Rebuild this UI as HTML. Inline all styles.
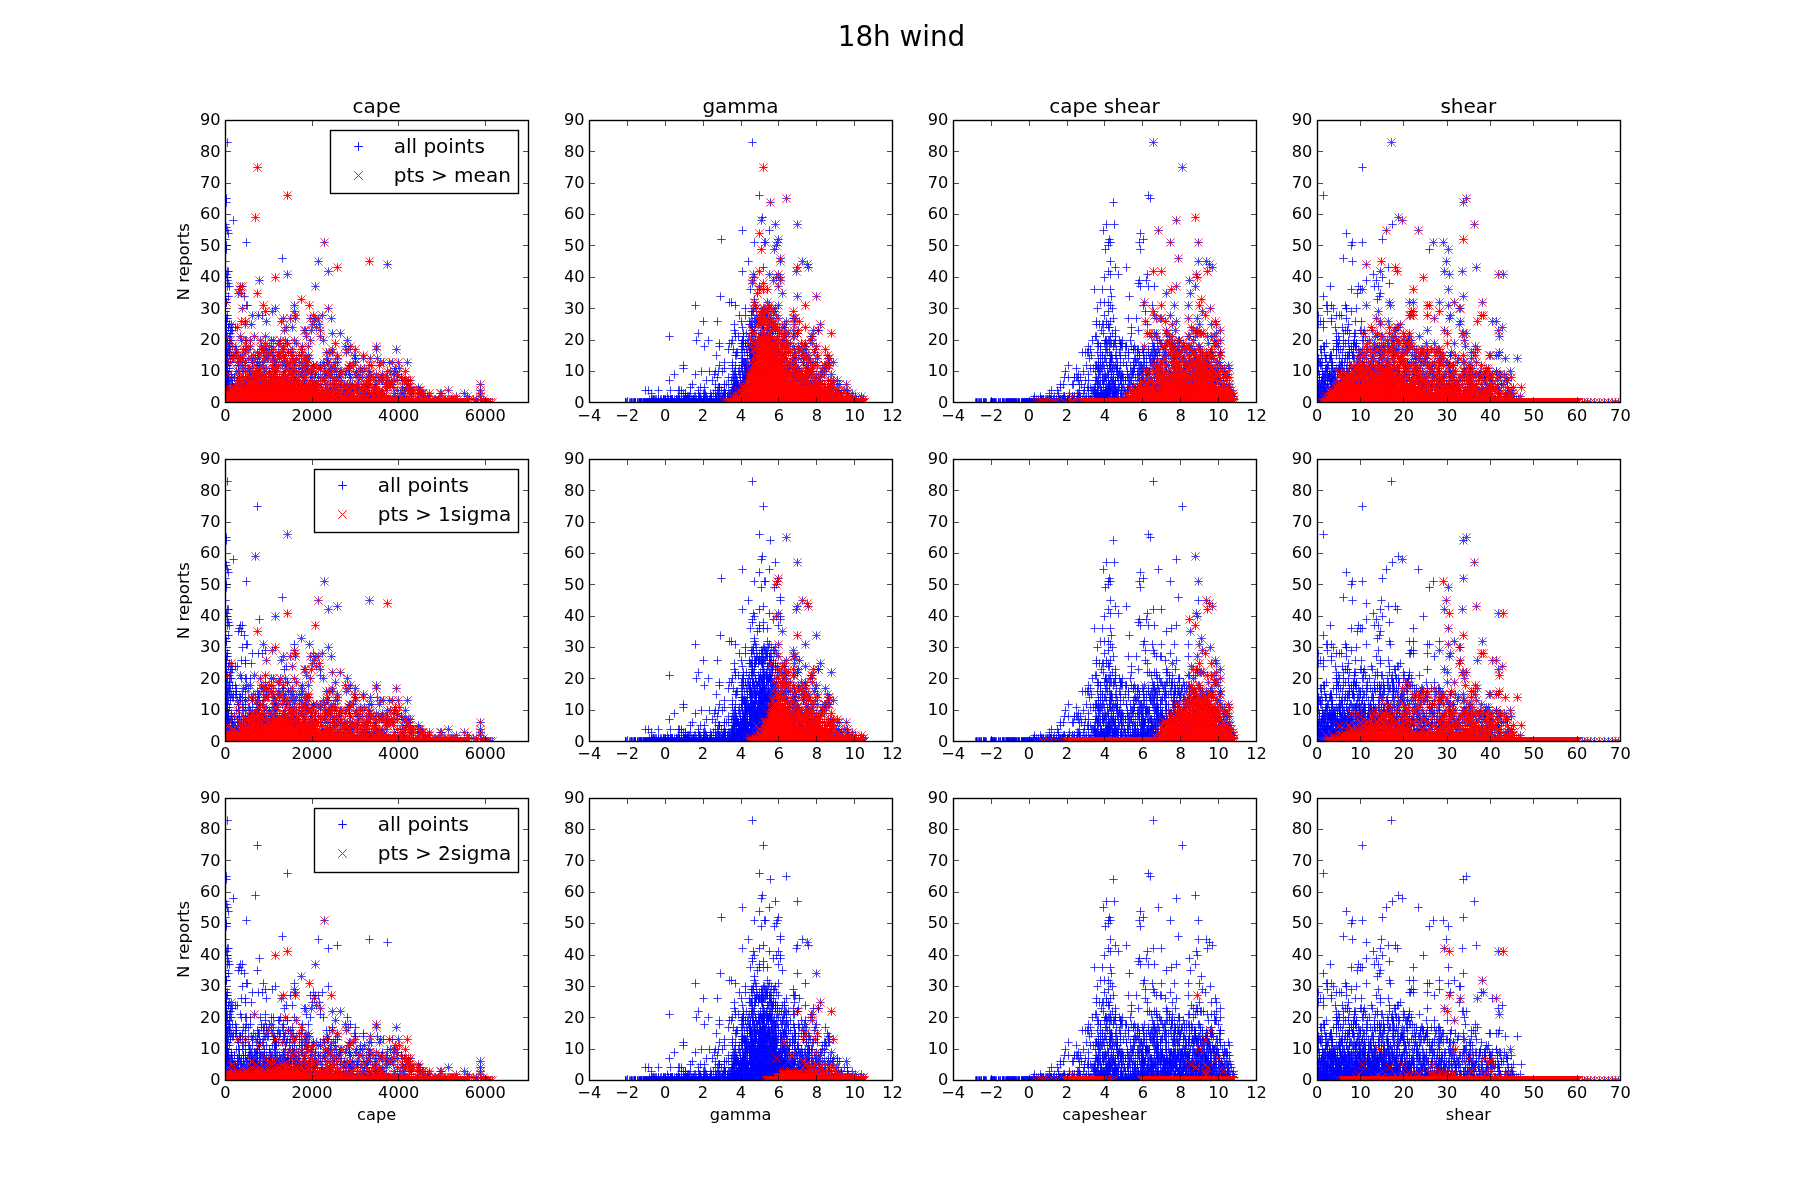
<!DOCTYPE html>
<html lang="en"><head><meta charset="utf-8"><title>18h wind</title>
<style>
html,body{margin:0;padding:0;background:#fff}
svg{display:block;will-change:transform;opacity:.999}
text{font-family:"DejaVu Sans","Bitstream Vera Sans","Liberation Sans",sans-serif;fill:#000}
.t{font-size:16.2px}
.yl{font-size:16.67px}
.tt{font-size:20px}
.st{font-size:27.8px}
.ax{fill:none;stroke:#000;stroke-width:1.39}
.tk{fill:none;stroke:#000;stroke-width:.7}
.b{fill:none;stroke:none;marker-start:url(#mp);marker-mid:url(#mp);marker-end:url(#mp)}
.r{fill:none;stroke:none;marker-start:url(#mx);marker-mid:url(#mx);marker-end:url(#mx)}
</style></head>
<body>
<svg width="1800" height="1200" viewBox="0 0 1800 1200">
<rect width="1800" height="1200" fill="#fff"/>
<text class="st" x="901.5" y="46.3" text-anchor="middle">18h wind</text>
<defs>
<marker id="mp" markerUnits="userSpaceOnUse" markerWidth="10" markerHeight="10" refX="5" refY="5" viewBox="0 0 10 10" overflow="visible"><path d="M.8 5h8.4M5 .8v8.4" fill="none" stroke="#00f" stroke-width=".75"/></marker>
<marker id="mx" markerUnits="userSpaceOnUse" markerWidth="10" markerHeight="10" refX="5" refY="5" viewBox="0 0 10 10" overflow="visible"><path d="M.8 .8l8.4 8.4M.8 9.2l8.4-8.4" fill="none" stroke="#f00" stroke-width=".75"/></marker>
<clipPath id="c00"><rect x="225" y="120" width="304" height="283"/></clipPath>
<clipPath id="c01"><rect x="589" y="120" width="304" height="283"/></clipPath>
<clipPath id="c02"><rect x="953" y="120" width="304" height="283"/></clipPath>
<clipPath id="c03"><rect x="1317" y="120" width="304" height="283"/></clipPath>
<clipPath id="c10"><rect x="225" y="459" width="304" height="283"/></clipPath>
<clipPath id="c11"><rect x="589" y="459" width="304" height="283"/></clipPath>
<clipPath id="c12"><rect x="953" y="459" width="304" height="283"/></clipPath>
<clipPath id="c13"><rect x="1317" y="459" width="304" height="283"/></clipPath>
<clipPath id="c20"><rect x="225" y="798" width="304" height="283"/></clipPath>
<clipPath id="c21"><rect x="589" y="798" width="304" height="283"/></clipPath>
<clipPath id="c22"><rect x="953" y="798" width="304" height="283"/></clipPath>
<clipPath id="c23"><rect x="1317" y="798" width="304" height="283"/></clipPath>
</defs>
<g id="ax00">
<path class="b" clip-path="url(#c00)" d="M227.5 142.5l30 25 30 28-61 3 0 4 29 15-22 3-8 4 1 3 1 3 1 3-3 6 21 3 78 0-98 3 0 4 56 9-57 3 93 0 51 0 18 3-50 3-110 4 1 0 100 0-102 3 61 0-60 3 48 0-48 3 32 0-31 3-1 3 2 0 11 0 2 0 73 0-76 3-14 4 13 0 3 0 16 0-32 3 0 0 3 0 16 0-19 3 0 0 0 0 76 0-76 3 0 0 1 0 0 0 20 3 1 0 16 0 31 0 15 0-67 3 33 0 53 0-103 3 0 0 40 0 7 0 22 0-69 4 0 0 2 0 25 0 6 0 4 0 33 0 18 0 9 0-97 3 0 0 1 0 1 0 56 0 7 0 5 0 15 0 5 0 3 0 13 0-106 3 1 0 15 0 4 0 21 0 15 0 33 0-88 3 0 0 3 0 2 0 14 0 6 0 61 0 7 0-94 3 3 0 0 0 7 0 2 0 49 0 6 0 24 0-91 3 0 0 5 0 1 0 1 0 52 0 20 0 1 0 6 0 9 0-95 3 0 0 1 0 0 0 0 0 4 0 102 0 8 0-115 3 2 0 2 0 11 0 14 0 11 0 41 0 14 0-95 4 0 0 0 0 1 0 1 0 3 0 1 0 10 0 4 0 1 0 4 0 10 0 11 0 2 0 7 0 5 0 9 0 16 0 13 0 24 0-122 3 1 0 0 0 1 0 2 0 36 0 13 0 1 0 8 0 0 0 9 0 39 0-110 3 1 0 2 0 1 0 3 0 3 0 11 0 4 0 11 0 8 0 2 0 12 0 19 0 6 0 37 0 5 0 26 0-151 3 0 0 0 0 1 0 0 0 4 0 6 0 7 0 2 0 3 0 13 0 2 0 1 0 2 0 0 0 7 0 9 0 1 0 9 0 9 0 31 0 16 0 7 0 21 0 20 0-171 3 0 0 1 0 0 0 1 0 0 0 1 0 1 0 0 0 7 0 0 0 9 0 12 0 6 0 5 0 3 0 7 0 10 0 0 0 2 0 12 0 24 0 3 0 3 0 14 0-121 3 0 0 1 0 0 0 3 0 2 0 2 0 2 0 1 0 6 0 11 0 5 0 0 0 1 0 7 0 6 0 5 0 2 0 1 0 3 0 2 0 6 0 2 0 6 0 2 0 7 0 29 0 17 0 9 0-138 3 1 0 0 0 1 0 0 0 3 0 2 0 1 0 6 0 1 0 0 0 2 0 6 0 3 0 4 0 9 0 1 0 2 0 1 0 5 0 1 0 5 0 5 0 0 0 8 0 4 0 8 0 1 0 1 0 1 0 2 0 18 0 10 0 18 0 0 0 8 0 7 0 7 0-152 4 0 0 1 0 0 0 2 0 2 0 7 0 3 0 5 0 0 0 7 0 0 0 5 0 0 0 2 0 4 0 10 0 1 0 1 0 0 0 8 0 1 0 3 0 3 0 3 0 1 0 1 0 4 0 2 0 5 0 17 0 4 0 0 0 0 0 1 0 7 0 2 0 18 0 25 0 3 0 6 0 3 0 6 0 9 0-182 3 1 0 1 0 0 0 0 0 11 0 0 0 4 0 3 0 11 0 4 0 2 0 14 0 0 0 2 0 4 0 4 0 0 0 3 0 13 0 3 0 3 0 5 0 0 0 3 0 4 0 4 0 0 0 9 0 16 0 1 0 3 0 16 0 2 0 8 0-154 3 0 0 1 0 0 0 1 0 2 0 14 0 5 0 1 0 3 0 6 0 1 0 0 0 4 0 3 0 6 0 2 0 0 0 1 0 0 0 1 0 0 0 9 0 7 0 2 0 5 0 2 0 3 0 1 0 2 0 5 0 1 0 5 0 2 0 0 0 10 0 1 0 4 0 13 0 1 0 0 0 11 0 4 0 31 0 4 0-174 3 0 0 1 0 0 0 1 0 0 0 9 0 2 0 1 0 3 0 3 0 5 0 7 0 0 0 2 0 5 0 5 0 6 0 10 0 4 0 1 0 2 0 2 0 2 0 6 0 4 0 1 0 1 0 2 0 1 0 14 0 3 0 6 0 2 0 4 0 1 0 5 0 10 0 4 0 2 0 6 0 19 0 3 0 4 0 0 0 11 0-180 3 1 0 0 0 1 0 1 0 0 0 0 0 3 0 18 0 2 0 3 0 0 0 1 0 1 0 1 0 2 0 0 0 5 0 5 0 1 0 4 0 1 0 8 0 0 0 1 0 4 0 4 0 1 0 0 0 0 0 1 0 4 0 3 0 0 0 1 0 9 0 4 0 0 0 10 0 0 0 0 0 2 0 0 0 1 0 2 0 1 0 8 0 0 0 1 0 5 0 4 0 0 0 6 0 1 0 13 0 0 0 1 0 6 0 6 0 11 0 3 0 1 0-172 3 0 0 1 0 0 0 1 0 0 0 1 0 0 0 3 0 3 0 0 0 5 0 0 0 0 0 4 0 0 0 2 0 0 0 0 0 3 0 1 0 1 0 2 0 3 0 1 0 0 0 1 0 0 0 3 0 0 0 0 0 1 0 1 0 1 0 1 0 0 0 2 0 5 0 1 0 3 0 2 0 2 0 5 0 3 0 4 0 1 0 6 0 6 0 1 0 7 0 2 0 4 0 0 0 2 0 4 0 6 0 6 0 0 0 14 0 0 0 8 0 1 0 3 0 4 0 3 0 1 0 3 0 5 0 3 0 1 0 4 0 1 0 14 0 0 0-176 3 1 0 0 0 0 0 1 0 1 0 0 0 1 0 1 0 1 0 1 0 5 0 0 0 1 0 3 0 2 0 4 0 2 0 2 0 1 0 1 0 2 0 0 0 2 0 2 0 1 0 3 0 1 0 2 0 2 0 2 0 0 0 0 0 1 0 4 0 1 0 1 0 2 0 1 0 0 0 1 0 1 0 1 0 1 0 1 0 2 0 3 0 0 0 0 0 4 0 1 0 0 0 1 0 0 0 3 0 4 0 1 0 6 0 0 0 12 0 2 0 9 0 1 0 4 0 3 0 27 0 7 0 4 0 2 0 1 0 9 0 3 0 3 0 5 0 2 0 1 0 1 0 2 0 2 0-185 4 0 0 2 0 0 0 2 0 3 0 5 0 2 0 1 0 1 0 2 0 0 0 3 0 0 0 3 0 2 0 1 0 0 0 2 0 1 0 1 0 0 0 0 0 3 0 1 0 3 0 2 0 1 0 0 0 4 0 1 0 5 0 0 0 0 0 11 0 1 0 2 0 1 0 2 0 0 0 1 0 0 0 4 0 0 0 6 0 0 0 5 0 3 0 2 0 1 0 0 0 1 0 0 0 2 0 2 0 5 0 2 0 3 0 2 0 4 0 4 0 4 0 3 0 2 0 3 0 5 0 1 0 5 0 3 0 1 0 1 0 2 0 6 0 9 0 1 0 0 0 2 0 1 0 1 0 2 0 16 0 0 0 72 0-255 3 0 0 0 0 1 0 0 0 0 0 1 0 0 0 1 0 1 0 2 0 1 0 1 0 0 0 0 0 1 0 1 0 0 0 3 0 2 0 0 0 1 0 2 0 1 0 4 0 1 0 9 0 1 0 4 0 27 0 0 0 4 0 4 0 1 0 0 0 2 0 1 0 0 0 1 0 1 0 0 0 3 0 3 0 0 0 2 0 1 0 1 0 7 0 13 0 0 0 3 0 3 0 3 0 1 0 0 0 1 0 1 0 5 0 1 0 1 0 1 0 2 0 1 0 4 0 3 0 1 0 2 0 7 0 1 0 0 0 12 0 6 0 9 0 4 0 2 0 0 0 1 0 9 0-193 3 0 0 1 0 1 0 1 0 0 0 0 0 1 0 1 0 0 0 1 0 1 0 1 0 3 0 0 0 0 0 1 0 1 0 0 0 5 0 52 0 0 0 1 0 0 0 3 0 8 0 0 0 3 0 0 0 2 0 3 0 0 0 2 0 5 0 4 0 1 0 2 0 0 0 1 0 0 0 3 0 10 0 2 0 3 0 0 0 1 0 1 0 0 0 7 0 3 0 6 0 1 0 6 0 1 0 1 0 1 0 3 0 3 0 4 0 11 0 5 0 3 0 0 0 4 0 1 0 1 0 1 0 1 0 5 0 1 0 1 0 28 0 32 0-254 3 2 0 2 0 3 0 5 0 61 0 16 0 0 0 6 0 1 0 0 0 1 0 1 0 3 0 3 0 0 0 0 0 1 0 4 0 2 0 1 0 1 0 1 0 6 0 5 0 0 0 1 0 1 0 4 0 5 0 1 0 1 0 0 0 5 0 0 0 2 0 4 0 2 0 1 0 3 0 0 0 1 0 12 0 6 0 2 0 2 0 5 0 2 0 6 0 2 0 1 0 2 0 0 0 1 0 6 0 11 0 1 0 23 0 16 0-157 3 4 0 0 0 1 0 2 0 5 0 1 0 2 0 1 0 3 0 1 0 0 0 1 0 0 0 3 0 0 0 1 0 1 0 2 0 1 0 7 0 2 0 1 0 4 0 3 0 0 0 3 0 2 0 1 0 3 0 5 0 1 0 2 0 9 0 8 0 8 0 14 0 2 0 2 0 27 0 11 0 13 0-151 3 4 0 4 0 0 0 1 0 8 0 1 0 7 0 0 0 1 0 1 0 5 0 0 0 3 0 2 0 3 0 1 0 0 0 0 0 6 0 0 0 3 0 3 0 0 0 1 0 4 0 1 0 0 0 0 0 1 0 1 0 2 0 1 0 1 0 3 0 1 0 1 0 0 0 4 0 1 0 1 0 1 0 0 0 5 0 2 0 4 0 1 0 5 0 1 0 3 0 1 0 6 0 1 0 3 0 1 0 5 0 1 0 5 0 1 0 1 0 1 0 2 0 0 0 14 0 4 0 3 0 7 0-19 3 1 0 0 0 1 0 1 0 0 0 0 0 9 0 1 0 4 0 0 0 1 0 0 0 2 0 1 0 1 0 1 0 0 0 1 0 2 0 0 0 2 0"/>
<path class="r" clip-path="url(#c00)" d="M257.5 167.5l30 28-32 22 69 25-6 19 51 0 18 3-50 3-9 4-41 3-12 3-16 3-19 6 2 0 73 0-76 3-1 4 3 0 16 0 44 6-75 3 37 3 31 0 15 0-67 3 33 0 53 0-63 3 7 0 22 0-42 4 6 0 37 0 18 0 9 0-39 3 7 0 5 0 15 0 5 0 3 0 13 0-90 3 4 0 21 0 15 0 33 0-83 3 14 0 6 0 61 0 7 0-82 3 49 0 6 0 24 0-32 3 20 0 1 0 6 0 9 0 12 3 8 0-113 3 13 0 14 0 11 0 41 0 14 0-90 4 11 0 5 0 4 0 10 0 11 0 2 0 7 0 5 0 9 0 16 0 13 0 24 0-82 3 13 0 1 0 8 0 0 0 9 0 39 0-103 3 14 0 4 0 11 0 8 0 2 0 12 0 19 0 6 0 37 0 5 0 26 0-140 3 7 0 2 0 3 0 13 0 2 0 1 0 2 0 0 0 7 0 9 0 1 0 9 0 9 0 31 0 16 0 7 0 21 0 20 0-160 3 9 0 12 0 6 0 5 0 3 0 7 0 10 0 0 0 2 0 12 0 24 0 3 0 3 0 14 0-113 3 2 0 1 0 6 0 11 0 5 0 0 0 1 0 7 0 6 0 5 0 2 0 1 0 3 0 2 0 6 0 2 0 6 0 2 0 7 0 29 0 17 0 9 0-131 3 7 0 1 0 0 0 2 0 6 0 3 0 4 0 9 0 1 0 2 0 1 0 5 0 1 0 5 0 5 0 0 0 8 0 4 0 8 0 1 0 1 0 1 0 2 0 18 0 10 0 18 0 0 0 8 0 7 0 7 0-147 4 7 0 3 0 5 0 0 0 7 0 0 0 5 0 0 0 2 0 4 0 10 0 1 0 1 0 0 0 8 0 1 0 3 0 3 0 3 0 1 0 1 0 4 0 2 0 5 0 17 0 4 0 0 0 0 0 1 0 7 0 2 0 18 0 25 0 3 0 6 0 3 0 6 0 9 0-169 3 4 0 14 0 4 0 2 0 14 0 0 0 2 0 4 0 4 0 0 0 3 0 13 0 3 0 3 0 5 0 0 0 3 0 4 0 4 0 0 0 9 0 16 0 1 0 3 0 16 0 2 0 8 0-136 3 5 0 1 0 3 0 6 0 1 0 0 0 4 0 3 0 6 0 2 0 0 0 1 0 0 0 1 0 0 0 9 0 7 0 2 0 5 0 2 0 3 0 1 0 2 0 5 0 1 0 5 0 2 0 0 0 10 0 1 0 4 0 13 0 1 0 0 0 11 0 4 0 31 0 4 0-163 3 2 0 1 0 6 0 12 0 0 0 2 0 5 0 5 0 6 0 10 0 4 0 1 0 2 0 2 0 2 0 6 0 4 0 1 0 1 0 2 0 1 0 14 0 3 0 6 0 2 0 4 0 1 0 5 0 10 0 4 0 2 0 6 0 19 0 3 0 4 0 0 0 11 0-177 3 21 0 2 0 3 0 0 0 2 0 1 0 2 0 0 0 5 0 5 0 1 0 4 0 1 0 8 0 0 0 1 0 4 0 4 0 1 0 0 0 1 0 4 0 3 0 0 0 1 0 9 0 4 0 0 0 10 0 0 0 0 0 2 0 0 0 1 0 2 0 1 0 8 0 0 0 1 0 5 0 4 0 0 0 6 0 1 0 13 0 0 0 1 0 6 0 6 0 11 0 3 0 1 0-163 3 5 0 0 0 4 0 0 0 2 0 0 0 3 0 1 0 1 0 2 0 3 0 1 0 0 0 1 0 0 0 3 0 0 0 0 0 1 0 1 0 1 0 1 0 0 0 2 0 5 0 1 0 3 0 2 0 2 0 5 0 3 0 4 0 1 0 6 0 6 0 1 0 7 0 2 0 4 0 0 0 2 0 4 0 6 0 6 0 0 0 14 0 0 0 8 0 1 0 3 0 4 0 3 0 1 0 3 0 5 0 3 0 1 0 4 0 1 0 14 0 0 0-164 3 0 0 1 0 3 0 2 0 2 0 2 0 2 0 2 0 1 0 1 0 2 0 0 0 2 0 2 0 1 0 3 0 1 0 2 0 2 0 2 0 0 0 0 0 5 0 1 0 1 0 2 0 1 0 0 0 1 0 1 0 1 0 1 0 1 0 2 0 3 0 0 0 0 0 4 0 1 0 0 0 1 0 0 0 3 0 4 0 1 0 6 0 0 0 12 0 2 0 9 0 1 0 4 0 3 0 27 0 7 0 4 0 2 0 1 0 9 0 3 0 3 0 5 0 2 0 1 0 1 0 2 0 2 0-173 4 2 0 1 0 3 0 0 0 3 0 0 0 3 0 0 0 2 0 0 0 1 0 0 0 1 0 0 0 1 0 0 0 2 0 0 0 1 0 2 0 1 0 3 0 2 0 1 0 0 0 3 0 0 0 1 0 1 0 0 0 0 0 2 0 0 0 1 0 1 0 0 0 1 0 0 0 0 0 1 0 0 0 0 0 1 0 1 0 1 0 2 0 1 0 2 0 0 0 0 0 1 0 0 0 1 0 1 0 0 0 2 0 1 0 2 0 0 0 1 0 0 0 4 0 0 0 6 0 0 0 5 0 3 0 2 0 1 0 0 0 1 0 0 0 2 0 2 0 5 0 2 0 3 0 2 0 4 0 4 0 4 0 3 0 2 0 3 0 5 0 1 0 5 0 3 0 1 0 1 0 2 0 6 0 9 0 1 0 0 0 2 0 1 0 1 0 2 0 16 0 0 0 72 0-253 3 5 0 1 0 0 0 2 0 3 0 2 0 0 0 1 0 2 0 1 0 3 0 1 0 1 0 0 0 2 0 0 0 0 0 1 0 1 0 1 0 1 0 1 0 2 0 1 0 1 0 2 0 1 0 1 0 1 0 2 0 2 0 1 0 0 0 1 0 0 0 1 0 1 0 1 0 3 0 1 0 1 0 1 0 1 0 0 0 1 0 0 0 0 0 1 0 1 0 0 0 1 0 0 0 0 0 1 0 1 0 0 0 2 0 1 0 1 0 2 0 4 0 1 0 1 0 0 0 2 0 1 0 0 0 1 0 0 0 1 0 0 0 1 0 2 0 1 0 2 0 0 0 2 0 1 0 1 0 7 0 13 0 0 0 3 0 3 0 3 0 1 0 0 0 1 0 1 0 5 0 1 0 1 0 1 0 2 0 1 0 4 0 3 0 1 0 2 0 7 0 1 0 0 0 12 0 6 0 9 0 4 0 2 0 0 0 1 0 9 0-190 3 0 0 0 0 2 0 1 0 1 0 0 0 1 0 0 0 3 0 0 0 0 0 2 0 2 0 0 0 1 0 1 0 1 0 1 0 1 0 1 0 2 0 0 0 1 0 0 0 1 0 0 0 1 0 2 0 1 0 1 0 1 0 0 0 0 0 1 0 1 0 1 0 0 0 1 0 0 0 1 0 1 0 0 0 1 0 1 0 0 0 2 0 1 0 1 0 0 0 1 0 0 0 1 0 1 0 1 0 0 0 3 0 1 0 1 0 1 0 1 0 0 0 0 0 2 0 1 0 0 0 1 0 1 0 3 0 0 0 1 0 0 0 1 0 0 0 1 0 1 0 0 0 2 0 0 0 0 0 1 0 1 0 0 0 0 0 1 0 1 0 2 0 3 0 0 0 1 0 1 0 3 0 0 0 1 0 0 0 1 0 1 0 0 0 0 0 2 0 0 0 1 0 0 0 0 0 2 0 0 0 0 0 2 0 5 0 4 0 1 0 2 0 0 0 1 0 0 0 3 0 10 0 2 0 3 0 0 0 1 0 1 0 0 0 7 0 3 0 6 0 1 0 6 0 1 0 1 0 1 0 3 0 3 0 4 0 11 0 5 0 3 0 0 0 4 0 1 0 1 0 1 0 1 0 5 0 1 0 1 0 28 0 32 0-253 3 0 0 1 0 1 0 0 0 2 0 2 0 1 0 1 0 0 0 2 0 1 0 0 0 1 0 0 0 3 0 0 0 1 0 1 0 0 0 0 0 1 0 1 0 0 0 1 0 0 0 1 0 2 0 0 0 1 0 0 0 1 0 1 0 0 0 1 0 2 0 0 0 1 0 1 0 1 0 0 0 1 0 1 0 0 0 0 0 1 0 0 0 1 0 1 0 0 0 1 0 0 0 1 0 2 0 2 0 0 0 0 0 1 0 0 0 1 0 1 0 0 0 1 0 0 0 1 0 0 0 2 0 0 0 1 0 1 0 1 0 0 0 2 0 0 0 0 0 1 0 0 0 1 0 1 0 0 0 0 0 1 0 1 0 2 0 0 0 2 0 0 0 1 0 0 0 0 0 1 0 1 0 0 0 0 0 2 0 2 0 0 0 2 0 0 0 2 0 1 0 1 0 1 0 0 0 1 0 0 0 2 0 0 0 5 0 1 0 0 0 1 0 0 0 2 0 0 0 2 0 2 0 0 0 1 0 0 0 0 0 1 0 1 0 1 0 0 0 2 0 0 0 1 0 2 0 0 0 1 0 4 0 2 0 1 0 1 0 1 0 6 0 5 0 0 0 1 0 1 0 4 0 5 0 1 0 1 0 0 0 5 0 0 0 2 0 4 0 2 0 1 0 3 0 0 0 1 0 12 0 6 0 2 0 2 0 5 0 2 0 6 0 2 0 1 0 2 0 0 0 1 0 6 0 11 0 1 0 23 0 16 0-254 3 0 0 0 0 1 0 0 0 0 0 1 0 0 0 1 0 0 0 0 0 1 0 1 0 0 0 0 0 1 0 0 0 1 0 0 0 0 0 1 0 1 0 0 0 2 0 2 0 0 0 0 0 1 0 1 0 2 0 1 0 0 0 1 0 0 0 1 0 0 0 1 0 1 0 0 0 1 0 1 0 1 0 2 0 1 0 1 0 1 0 0 0 1 0 0 0 1 0 0 0 0 0 2 0 1 0 1 0 1 0 1 0 0 0 0 0 3 0 0 0 1 0 2 0 1 0 0 0 1 0 3 0 2 0 0 0 2 0 1 0 1 0 1 0 0 0 2 0 1 0 1 0 0 0 1 0 4 0 1 0 0 0 2 0 0 0 2 0 0 0 1 0 1 0 0 0 0 0 1 0 1 0 0 0 1 0 0 0 0 0 1 0 0 0 0 0 1 0 2 0 1 0 2 0 0 0 3 0 1 0 0 0 1 0 1 0 1 0 0 0 2 0 1 0 0 0 1 0 2 0 0 0 1 0 1 0 4 0 0 0 1 0 0 0 1 0 1 0 1 0 0 0 4 0 1 0 2 0 1 0 3 0 1 0 0 0 1 0 0 0 1 0 0 0 2 0 0 0 1 0 1 0 2 0 1 0 7 0 2 0 1 0 4 0 3 0 0 0 3 0 2 0 1 0 3 0 4 0 1 0 1 0 2 0 9 0 8 0 8 0 14 0 2 0 2 0 27 0 11 0 13 0-254 3 0 0 0 0 1 0 1 0 0 0 0 0 1 0 0 0 1 0 1 0 1 0 1 0 0 0 1 0 0 0 1 0 0 0 1 0 1 0 1 0 0 0 2 0 3 0 0 0 1 0 1 0 1 0 1 0 0 0 1 0 0 0 1 0 1 0 0 0 1 0 0 0 1 0 0 0 3 0 0 0 2 0 2 0 1 0 1 0 1 0 0 0 1 0 0 0 0 0 1 0 0 0 1 0 1 0 3 0 1 0 0 0 1 0 1 0 3 0 0 0 2 0 1 0 1 0 1 0 0 0 1 0 1 0 1 0 2 0 0 0 3 0 0 0 2 0 0 0 2 0 0 0 0 0 1 0 0 0 2 0 0 0 1 0 0 0 1 0 0 0 1 0 1 0 0 0 2 0 2 0 1 0 0 0 1 0 0 0 1 0 0 0 1 0 0 0 1 0 1 0 0 0 1 0 1 0 1 0 1 0 1 0 1 0 1 0 1 0 0 0 1 0 1 0 1 0 0 0 0 0 1 0 1 0 0 0 1 0 2 0 2 0 0 0 0 0 1 0 1 0 0 0 1 0 1 0 2 0 1 0 0 0 0 0 3 0 1 0 4 0 1 0 1 0 1 0 0 0 0 0 1 0 0 0 1 0 1 0 1 0 5 0 0 0 1 0 1 0 2 0 0 0 2 0 1 0 0 0 3 0 1 0 1 0 3 0 1 0 0 0 4 0 2 0 0 0 3 0 3 0 0 0 0 0 1 0 0 0 2 0 0 0 1 0 1 0 1 0 0 0 0 0 1 0 1 0 2 0 1 0 1 0 2 0 1 0 1 0 1 0 0 0 4 0 1 0 1 0 1 0 0 0 5 0 0 0 2 0 4 0 1 0 5 0 1 0 3 0 1 0 6 0 1 0 3 0 1 0 5 0 1 0 5 0 1 0 1 0 1 0 2 0 0 0 14 0 4 0 3 0 7 0-258 3 1 0 0 0 0 0 1 0 0 0 1 0 0 0 1 0 0 0 1 0 0 0 0 0 1 0 1 0 1 0 1 0 0 0 0 0 1 0 1 0 0 0 1 0 0 0 1 0 0 0 1 0 0 0 1 0 1 0 1 0 0 0 1 0 0 0 0 0 1 0 1 0 1 0 0 0 0 0 1 0 0 0 2 0 0 0 1 0 0 0 1 0 0 0 1 0 1 0 1 0 0 0 1 0 1 0 0 0 1 0 0 0 1 0 1 0 0 0 2 0 1 0 1 0 0 0 1 0 0 0 1 0 1 0 1 0 0 0 0 0 1 0 0 0 1 0 1 0 0 0 0 0 1 0 0 0 0 0 1 0 1 0 1 0 1 0 1 0 0 0 1 0 0 0 0 0 1 0 0 0 1 0 0 0 1 0 0 0 1 0 0 0 0 0 1 0 0 0 1 0 0 0 1 0 0 0 0 0 1 0 1 0 0 0 1 0 1 0 1 0 1 0 0 0 1 0 1 0 0 0 1 0 1 0 2 0 1 0 0 0 0 0 1 0 0 0 1 0 1 0 1 0 0 0 1 0 0 0 1 0 1 0 0 0 1 0 0 0 1 0 0 0 1 0 1 0 2 0 0 0 1 0 0 0 1 0 0 0 1 0 0 0 1 0 0 0 1 0 1 0 1 0 1 0 1 0 0 0 0 0 1 0 0 0 1 0 0 0 0 0 1 0 1 0 0 0 1 0 2 0 1 0 0 0 0 0 1 0 0 0 1 0 0 0 0 0 1 0 0 0 1 0 1 0 1 0 0 0 1 0 1 0 0 0 1 0 0 0 1 0 1 0 0 0 0 0 1 0 0 0 1 0 1 0 0 0 1 0 0 0 1 0 0 0 1 0 0 0 0 0 1 0 0 0 0 0 1 0 0 0 1 0 0 0 0 0 1 0 0 0 1 0 0 0 1 0 0 0 0 0 1 0 1 0 1 0 0 0 1 0 0 0 0 0 1 0 0 0 1 0 0 0 0 0 1 0 0 0 1 0 0 0 1 0 0 0 0 0 1 0 0 0 0 0 1 0 0 0 1 0 0 0 1 0 0 0 1 0 0 0 1 0 0 0 0 0 1 0 0 0 1 0 0 0 1 0 0 0 1 0 0 0 1 0 0 0 0 0 1 0 0 0 1 0 0 0 1 0 1 0 0 0 0 0 1 0 0 0 0 0 1 0 0 0 1 0 0 0 1 0 0 0 0 0 1 0 1 0 0 0 0 0 1 0 0 0 0 0 1 0 0 0 1 0 0 0 0 0 1 0 0 0 0 0 1 0 1 0 0 0 1 0 0 0 0 0 1 0 0 0 0 0 1 0 0 0 1 0 0 0 0 0 1 0 0 0 0 0 1 0 0 0 1 0 0 0 1 0 0 0 0 0 1 0 0 0 1 0 0 0 0 0 1 0 0 0 1 0 0 0 0 0 1 0 0 0 1 0 0 0 1 0 0 0 0 0 1 0 0 0 1 0 0 0 1 0 0 0 0 0 1 0 0 0 0 0 1 0 0 0 1 0 0 0 1 0 1 0 0 0 0 0 1 0 0 0 1 0 0 0 0 0 1 0 0 0 0 0 1 0 0 0 0 0 1 0 0 0 1 0 0 0 1 0 0 0 1 0 0 0 0 0 1 0 0 0 0 0 1 0 0 0 0 0 1 0 0 0 0 0 1 0 1 0 0 0 0 0 1 0 0 0 0 0 1 0 0 0 1 0 0 0 0 0 1 0 0 0 1 0 0 0 1 0 0 0 0 0 1 0 0 0 0 0 1 0 0 0 0 0 1 0 0 0 1 0 0 0 1 0 0 0 0 0 1 0 0 0 0 0 1 0 0 0 0 0 1 0 0 0 1 0 0 0 0 0 1 0 0 0 1 0 0 0 0 0 1 0 0 0 0 0 1 0 1 0 0 0 1 0 0 0 0 0 1 0 0 0 0 0 1 0 0 0 0 0 1 0 0 0 0 0 1 0 0 0 1 0 0 0 1 0 0 0 0 0 1 0 0 0 0 0 1 0 0 0 0 0 1 0 0 0 1 0 0 0 1 0 0 0 1 0 0 0 0 0 1 0 0 0 1 0 0 0 0 0 1 0 0 0 1 0 0 0 0 0 1 0 0 0 0 0 1 0 0 0 0 0 1 0 0 0 0 0 1 0 0 0 0 0 1 0 0 0 0 0 1 0 0 0 0 0 1 0 0 0 1 0 0 0 0 0 9 0 1 0 4 0 0 0 1 0 0 0 2 0 1 0 1 0 1 0 0 0 1 0 2 0 0 0 2 0"/>
<path class="tk" d="M225.5 402.5v-5.5M225.5 120.5v5.5M312.5 402.5v-5.5M312.5 120.5v5.5M398.5 402.5v-5.5M398.5 120.5v5.5M485.5 402.5v-5.5M485.5 120.5v5.5M225.5 402.5h5.5M528.5 402.5h-5.5M225.5 371.5h5.5M528.5 371.5h-5.5M225.5 340.5h5.5M528.5 340.5h-5.5M225.5 308.5h5.5M528.5 308.5h-5.5M225.5 277.5h5.5M528.5 277.5h-5.5M225.5 245.5h5.5M528.5 245.5h-5.5M225.5 214.5h5.5M528.5 214.5h-5.5M225.5 183.5h5.5M528.5 183.5h-5.5M225.5 151.5h5.5M528.5 151.5h-5.5M225.5 120.5h5.5M528.5 120.5h-5.5"/>
<rect class="ax" x="225.5" y="120.5" width="303" height="282"/>
<text class="t" x="225.4" y="420.6" text-anchor="middle">0</text>
<text class="t" x="312" y="420.6" text-anchor="middle">2000</text>
<text class="t" x="398.7" y="420.6" text-anchor="middle">4000</text>
<text class="t" x="485.3" y="420.6" text-anchor="middle">6000</text>
<text class="t" x="220.6" y="407.7" text-anchor="end">0</text>
<text class="t" x="220.6" y="376.3" text-anchor="end">10</text>
<text class="t" x="220.6" y="344.9" text-anchor="end">20</text>
<text class="t" x="220.6" y="313.5" text-anchor="end">30</text>
<text class="t" x="220.6" y="282.2" text-anchor="end">40</text>
<text class="t" x="220.6" y="250.8" text-anchor="end">50</text>
<text class="t" x="220.6" y="219.4" text-anchor="end">60</text>
<text class="t" x="220.6" y="188" text-anchor="end">70</text>
<text class="t" x="220.6" y="156.7" text-anchor="end">80</text>
<text class="t" x="220.6" y="125.3" text-anchor="end">90</text>
<text class="tt" x="376.6" y="112.5" text-anchor="middle">cape</text>
<text class="yl" transform="translate(188.6 261.8) rotate(-90)" text-anchor="middle">N reports</text>
<rect x="330.5" y="130.5" width="188" height="63" fill="#fff" stroke="#000" stroke-width="1.39"/>
<path class="b" d="M358.5 146.5h0"/>
<path class="r" d="M358.5 175.5h0"/>
<text class="tt" x="393.7" y="152.8">all points</text>
<text class="tt" x="393.7" y="181.8">pts &gt; mean</text>
</g>
<g id="ax01">
<path class="b" clip-path="url(#c01)" d="M752.5 142.5l11 25-4 28 27 3-16 4-8 15-1 3 14 4 22 0-55 6 27 0-10 3-38 6 57 0-24 3 10 0 1 0 12 0-1 3-15 4 13 0 6 9-32 3 32 0 22 0 5 3-44 3 34 0 11 0-66 4 17 0 37 0-43 3 16 0 9 0-24 3 22 0 4 0-28 3 21 0 7 0-28 3 11 0-4 3 19 0-28 3 9 0 4 0 4 0-10 4 25 0-62 3 77 0 19 0-62 3-25 3 2 0 23 0 13 0-72 3 40 0 20 0 14 0 9 0 27 0-60 3 8 0 3 0 7 0 1 0 4 0 3 0 4 0-24 3 1 0 1 0 8 0 1 0 2 0 1 0 1 0 1 0 6 0 1 0 19 0-54 4 6 0 6 0 5 0 3 0 2 0 1 0 4 0 4 0 6 0-22 3 3 0 6 0 2 0 1 0 1 0 0 0 2 0 0 0 2 0 7 0 15 0 1 0 1 0-92 3 14 0 24 0 8 0 3 0 3 0 0 0 1 0 0 0 2 0 0 0 1 0 0 0 1 0 1 0 0 0 2 0 0 0 1 0 1 0 4 0 1 0 3 0 13 0 13 0-65 3 15 0 1 0 1 0 0 0 3 0 1 0 0 0 3 0 3 0 1 0 0 0 7 0 1 0 1 0 0 0 2 0 2 0 9 0 10 0 26 0-78 3 10 0 2 0 13 0 0 0 1 0 4 0 0 0 1 0 2 0 0 0 2 0 5 0 2 0 0 0 21 0-71 3 18 0 0 0 10 0 1 0 0 0 8 0 4 0 0 0 0 0 2 0 0 0 16 0 5 0 15 0 5 0 0 0-120 3 37 0 8 0 3 0 5 0 1 0 1 0 1 0 6 0 4 0 2 0 3 0 1 0 2 0 0 0 7 0 2 0 4 0 1 0 2 0 9 0 0 0 0 0 34 0-162 3 66 0 3 0 5 0 6 0 2 0 7 0 2 0 0 0 3 0 0 0 2 0 1 0 0 0 1 0 2 0 8 0 6 0 1 0 0 0 9 0 1 0 17 0 1 0-116 4 12 0 24 0 10 0 0 0 1 0 5 0 4 0 3 0 0 0 4 0 0 0 1 0 4 0 2 0 3 0 1 0 0 0 0 0 1 0 3 0 2 0 2 0 8 0 24 0-91 3 10 0 2 0 10 0 2 0 2 0 0 0 2 0 3 0 0 0 2 0 0 0 1 0 0 0 3 0 3 0 13 0 1 0 7 0 2 0 0 0 1 0 3 0 4 0 11 0 4 0 7 0-108 3 15 0 23 0 1 0 5 0 1 0 1 0 2 0 2 0 0 0 2 0 1 0 0 0 3 0 2 0 0 0 4 0 2 0 0 0 4 0 2 0 0 0 1 0 0 0 0 0 1 0 1 0 4 0 1 0 2 0 1 0 1 0 1 0 1 0 5 0 5 0 6 0 1 0 11 0-88 3 5 0 8 0 5 0 3 0 4 0 2 0 4 0 1 0 0 0 11 0 0 0 3 0 1 0 3 0 16 0 0 0 4 0 1 0 3 0 4 0 9 0 10 0-89 3 1 0 5 0 2 0 3 0 2 0 1 0 0 0 1 0 0 0 3 0 3 0 0 0 2 0 1 0 10 0 2 0 1 0 1 0 1 0 3 0 4 0 2 0 0 0 2 0 2 0 0 0 2 0 13 0 11 0-98 3 19 0 1 0 11 0 2 0 1 0 1 0 0 0 1 0 0 0 1 0 1 0 0 0 1 0 0 0 1 0 0 0 4 0 3 0 9 0 1 0 2 0 1 0 2 0 2 0 0 0 3 0 0 0 2 0 0 0 9 0 0 0 1 0 0 0 6 0 3 0 1 0 3 0 9 0 10 0-86 3 1 0 0 0 8 0 0 0 0 0 1 0 0 0 4 0 5 0 0 0 9 0 4 0 0 0 2 0 1 0 4 0 1 0 0 0 0 0 2 0 1 0 2 0 6 0 6 0 5 0 3 0 3 0 8 0 11 0 1 0-105 4 8 0 10 0 0 0 1 0 0 0 1 0 0 0 1 0 0 0 0 0 1 0 1 0 3 0 0 0 0 0 2 0 2 0 1 0 0 0 0 0 1 0 0 0 0 0 13 0 3 0 1 0 4 0 1 0 2 0 0 0 0 0 2 0 4 0 1 0 5 0 1 0 2 0 0 0 0 0 8 0 0 0 5 0 2 0 5 0 13 0 5 0-150 3 36 0 13 0 3 0 6 0 1 0 2 0 2 0 2 0 3 0 0 0 1 0 0 0 1 0 0 0 0 0 1 0 0 0 15 0 0 0 6 0 0 0 0 0 1 0 8 0 5 0 1 0 4 0 12 0 0 0 6 0 1 0 4 0 7 0 1 0 0 0 3 0 1 0-146 3 41 0 8 0 7 0 2 0 1 0 2 0 1 0 0 0 1 0 1 0 1 0 1 0 0 0 1 0 1 0 0 0 0 0 1 0 1 0 28 0 1 0 1 0 2 0 2 0 5 0 0 0 0 0 2 0 0 0 3 0 0 0 1 0 10 0 14 0 4 0-125 3 8 0 6 0 3 0 4 0 12 0 1 0 3 0 4 0 0 0 0 0 3 0 1 0 0 0 1 0 1 0 1 0 1 0 0 0 2 0 34 0 1 0 1 0 1 0 6 0 3 0 3 0 4 0 2 0 1 0 1 0 0 0 2 0 1 0 10 0 2 0-150 3 21 0 19 0 19 0 2 0 4 0 1 0 3 0 1 0 1 0 2 0 0 0 2 0 0 0 1 0 2 0 0 0 32 0 1 0 1 0 3 0 0 0 0 0 5 0 1 0 1 0 2 0 1 0 1 0 2 0 2 0 3 0 2 0 2 0 5 0 4 0 1 0 3 0 7 0-114 3 11 0 4 0 2 0 2 0 7 0 1 0 1 0 1 0 1 0 2 0 1 0 34 0 3 0 4 0 1 0 0 0 2 0 2 0 1 0 3 0 0 0 2 0 0 0 3 0 0 0 3 0 0 0 0 0 6 0 4 0 2 0 0 0-151 3 37 0 6 0 19 0 2 0 1 0 1 0 1 0 1 0 3 0 0 0 0 0 2 0 0 0 1 0 0 0 1 0 0 0 1 0 0 0 2 0 0 0 2 0 35 0 0 0 3 0 5 0 2 0 0 0 0 0 5 0 0 0 1 0 1 0 0 0 1 0 0 0 0 0 4 0 0 0 1 0 0 0 5 0 3 0 1 0 3 0 0 0 9 0 2 0 3 0 4 0-145 4 23 0 9 0 0 0 2 0 2 0 5 0 1 0 1 0 0 0 1 0 0 0 1 0 0 0 0 0 1 0 0 0 0 0 2 0 1 0 0 0 1 0 1 0 1 0 0 0 0 0 1 0 1 0 1 0 0 0 2 0 0 0 0 0 40 0 2 0 1 0 1 0 2 0 0 0 2 0 4 0 2 0 0 0 5 0 0 0 1 0 0 0 2 0 0 0 2 0 2 0 0 0 1 0 1 0 1 0 0 0 2 0 2 0 2 0 4 0 2 0 2 0 0 0 1 0 4 0 2 0 7 0-156 3 10 0 4 0 14 0 1 0 0 0 0 0 13 0 1 0 0 0 0 0 1 0 0 0 0 0 1 0 1 0 0 0 2 0 1 0 0 0 1 0 0 0 1 0 1 0 0 0 0 0 1 0 0 0 2 0 0 0 0 0 1 0 1 0 52 0 1 0 0 0 3 0 2 0 1 0 0 0 5 0 2 0 0 0 3 0 2 0 7 0 2 0 2 0 3 0-187 3 3 0 10 0 12 0 8 0 1 0 2 0 17 0 17 0 2 0 4 0 3 0 0 0 7 0 1 0 0 0 1 0 1 0 4 0 1 0 1 0 1 0 1 0 2 0 1 0 61 0 2 0 11 0 0 0 2 0 1 0 2 0 5 0 2 0 2 0 3 0 2 0 6 0 3 0-196 3 30 0 2 0 2 0 0 0 5 0 8 0 5 0 1 0 1 0 5 0 3 0 5 0 5 0 1 0 0 0 0 0 1 0 0 0 3 0 1 0 1 0 1 0 0 0 1 0 1 0 1 0 0 0 0 0 1 0 1 0 0 0 1 0 0 0 0 0 1 0 3 0 0 0 1 0 0 0 62 0 1 0 3 0 0 0 6 0 4 0 0 0 2 0 0 0 3 0 1 0 0 0 1 0 3 0 0 0 1 0 2 0 0 0 4 0 3 0 0 0 3 0 0 0 6 0 5 0-185 3 11 0 7 0 2 0 1 0 1 0 5 0 1 0 4 0 0 0 1 0 4 0 1 0 1 0 5 0 0 0 4 0 0 0 1 0 1 0 1 0 0 0 1 0 0 0 1 0 2 0 1 0 2 0 2 0 0 0 0 0 2 0 0 0 2 0 0 0 1 0 0 0 0 0 1 0 2 0 0 0 1 0 0 0 1 0 1 0 0 0 1 0 0 0 0 0 67 0 7 0 7 0 9 0 0 0 5 0 2 0 3 0 0 0 1 0 2 0 5 0 1 0 7 0 6 0-212 3 2 0 1 0 1 0 0 0 1 0 1 0 1 0 2 0 0 0 0 0 2 0 1 0 2 0 0 0 0 0 1 0 1 0 0 0 3 0 0 0 2 0 0 0 0 0 1 0 0 0 1 0 0 0 0 0 2 0 2 0 0 0 0 0 1 0 1 0 1 0 0 0 0 0 2 0 2 0 0 0 1 0 0 0 0 0 1 0 1 0 0 0 0 0 1 0 0 0 1 0 1 0 2 0 1 0 1 0 0 0 0 0 3 0 2 0 2 0 0 0 1 0 2 0 1 0 2 0 1 0 0 0 2 0 1 0 0 0 1 0 0 0 4 0 1 0 5 0 0 0 1 0 0 0 1 0 1 0 3 0 1 0 1 0 1 0 0 0 0 0 3 0 1 0 75 0 23 0 1 0 0 0 1 0 2 0 0 0 1 0 4 0 1 0 1 0 2 0 0 0 1 0 1 0 3 0 1 0 0 0 0 0 1 0 4 0 4 0 3 0 0 0-238 3 0 0 0 0 1 0 3 0 1 0 1 0 0 0 0 0 1 0 1 0 1 0 0 0 0 0 1 0 0 0 0 0 2 0 0 0 1 0 1 0 0 0 0 0 1 0 0 0 0 0 1 0 0 0 0 0 1 0 1 0 0 0 0 0 1 0 0 0 0 0 1 0 0 0 0 0 1 0 0 0 0 0 1 0 0 0 0 0 1 0 0 0 0 0 1 0 0 0 1 0 0 0 0 0 1 0 0 0 0 0 1 0 0 0 0 0 1 0 1 0 0 0 0 0 1 0 0 0 0 0 1 0 0 0 1 0 0 0 0 0 1 0 0 0 1 0 0 0 0 0 1 0 0 0 0 0 1 0 0 0 1 0 0 0 0 0 1 0 0 0 1 0 0 0 1 0 0 0 0 0 1 0 0 0 0 0 1 0 0 0 0 0 1 0 0 0 1 0 0 0 0 0 1 0 1 0 0 0 1 0 0 0 1 0 0 0 0 0 1 0 0 0 0 0 1 0 0 0 0 0 1 0 0 0 1 0 0 0 1 0 0 0 1 0 1 0 0 0 0 0 1 0 0 0 0 0 1 0 0 0 0 0 1 0 0 0 0 0 1 0 1 0 0 0 1 0 1 0 0 0 0 0 1 0 0 0 1 0 0 0 1 0 0 0 0 0 1 0 0 0 0 0 1 0 0 0 0 0 1 0 0 0 1 0 0 0 0 0 1 0 0 0 0 0 1 0 0 0 0 0 1 0 0 0 0 0 1 0 0 0 0 0 1 0 0 0 0 0 1 0 0 0 1 0 0 0 0 0 1 0 0 0 0 0 1 0 0 0 1 0 0 0 1 0 0 0 0 0 1 0 0 0 0 0 1 0 0 0 0 0 1 0 0 0 0 0 1 0 0 0 1 0 0 0 1 0 0 0 1 0 0 0 0 0 1 0 0 0 0 0 1 0 0 0 0 0 1 0 0 0 1 0 0 0 1 0 0 0 0 0 1 0 0 0 0 0 1 0 0 0 0 0 1 0 0 0 0 0 1 0 0 0 1 0 1 0 0 0 0 0 1 0 0 0 1 0 0 0 0 0 1 0 0 0 0 0 1 0 0 0 0 0 1 0 0 0 0 0 1 0 3 0 0 0 2 0 125 0 1 0 1 0 1 0 1 0 1 0 0 0"/>
<path class="r" clip-path="url(#c01)" d="M763.5 167.5l23 31-16 4-9 18 14 4 22 0-38 9 19 6-13 3 12 0-1 3-15 4 13 0 6 9 0 3 22 0 5 3-10 3 11 0-49 4 37 0-43 3 16 0 9 0-2 3 4 0-28 3 21 0 7 0-28 3 11 0-4 3 19 0-19 3 4 0 4 0-10 4 25 0 15 3 19 0-62 6 13 0-12 3 14 0 9 0 27 0-52 3 3 0 7 0 1 0 4 0 3 0 4 0-14 3 1 0 2 0 1 0 1 0 1 0 6 0 1 0 19 0-34 4 2 0 1 0 4 0 4 0 6 0-19 3 6 0 2 0 1 0 1 0 0 0 2 0 0 0 2 0 7 0 15 0 1 0 1 0-43 3 4 0 0 0 2 0 0 0 1 0 0 0 1 0 1 0 1 0 1 0 0 0 1 0 1 0 4 0 1 0 3 0 13 0 13 0-48 3 4 0 6 0 1 0 7 0 1 0 1 0 0 0 2 0 2 0 9 0 10 0 26 0-53 3 0 0 1 0 4 0 0 0 1 0 2 0 0 0 2 0 5 0 2 0 0 0 21 0-53 3 0 0 10 0 1 0 0 0 8 0 4 0 0 0 0 0 2 0 0 0 16 0 5 0 15 0 5 0 0 0-65 3 1 0 6 0 4 0 2 0 3 0 1 0 2 0 0 0 7 0 2 0 4 0 1 0 2 0 9 0 0 0 0 0 34 0-82 3 11 0 0 0 0 0 3 0 0 0 2 0 1 0 0 0 1 0 2 0 8 0 6 0 1 0 0 0 9 0 1 0 17 0 1 0-60 4 3 0 0 0 4 0 0 0 1 0 1 0 0 0 1 0 0 0 1 0 1 0 0 0 0 0 2 0 0 0 0 0 1 0 0 0 1 0 0 0 1 0 0 0 1 0 0 0 0 0 1 0 0 0 3 0 2 0 2 0 8 0 24 0-58 3 1 0 0 0 3 0 2 0 1 0 2 0 1 0 1 0 0 0 1 0 0 0 2 0 0 0 1 0 1 0 0 0 2 0 0 0 2 0 1 0 7 0 2 0 0 0 1 0 3 0 4 0 11 0 4 0 7 0-62 3 7 0 0 0 2 0 1 0 2 0 0 0 1 0 0 0 1 0 2 0 0 0 0 0 2 0 0 0 0 0 3 0 1 0 0 0 1 0 1 0 0 0 1 0 0 0 0 0 1 0 1 0 4 0 1 0 2 0 1 0 1 0 1 0 1 0 5 0 5 0 6 0 1 0 11 0-63 3 2 0 5 0 0 0 3 0 0 0 0 0 1 0 1 0 6 0 0 0 3 0 1 0 3 0 16 0 0 0 4 0 1 0 3 0 4 0 9 0 10 0-68 3 0 0 2 0 1 0 0 0 0 0 1 0 0 0 0 0 1 0 1 0 0 0 1 0 0 0 1 0 2 0 1 0 1 0 0 0 1 0 1 0 0 0 1 0 1 0 1 0 1 0 3 0 4 0 2 0 0 0 2 0 2 0 0 0 2 0 13 0 11 0-60 3 1 0 0 0 1 0 0 0 2 0 1 0 1 0 2 0 1 0 1 0 1 0 0 0 1 0 1 0 1 0 0 0 1 0 3 0 1 0 2 0 1 0 2 0 2 0 0 0 3 0 0 0 0 0 2 0 0 0 9 0 0 0 1 0 0 0 6 0 3 0 1 0 3 0 9 0 10 0-69 3 0 0 0 0 2 0 3 0 1 0 0 0 1 0 0 0 1 0 0 0 1 0 1 0 0 0 0 0 1 0 1 0 0 0 3 0 0 0 1 0 1 0 1 0 4 0 1 0 0 0 0 0 2 0 1 0 2 0 6 0 6 0 5 0 3 0 3 0 8 0 11 0 1 0-84 4 5 0 5 0 0 0 1 0 0 0 0 0 2 0 1 0 1 0 0 0 0 0 1 0 0 0 0 0 1 0 0 0 1 0 0 0 1 0 0 0 1 0 1 0 0 0 1 0 0 0 2 0 2 0 1 0 0 0 1 0 0 0 1 0 1 0 2 0 1 0 2 0 0 0 0 0 2 0 4 0 1 0 5 0 1 0 2 0 0 0 0 0 8 0 0 0 5 0 2 0 5 0 13 0 5 0-81 3 1 0 1 0 0 0 1 0 0 0 2 0 3 0 0 0 2 0 0 0 1 0 1 0 0 0 4 0 1 0 0 0 0 0 1 0 1 0 0 0 1 0 0 0 1 0 1 0 0 0 1 0 0 0 0 0 1 0 0 0 0 0 8 0 5 0 1 0 4 0 12 0 0 0 6 0 1 0 4 0 7 0 1 0 0 0 3 0 1 0-76 3 2 0 2 0 1 0 1 0 0 0 1 0 0 0 1 0 1 0 1 0 1 0 1 0 0 0 2 0 0 0 2 0 0 0 2 0 2 0 0 0 1 0 1 0 1 0 0 0 1 0 3 0 1 0 1 0 0 0 0 0 1 0 2 0 2 0 5 0 0 0 0 0 2 0 0 0 3 0 0 0 1 0 10 0 14 0 4 0-74 3 2 0 1 0 0 0 1 0 1 0 0 0 0 0 1 0 1 0 0 0 0 0 2 0 1 0 1 0 1 0 0 0 1 0 0 0 0 0 1 0 0 0 1 0 0 0 1 0 4 0 1 0 1 0 0 0 1 0 0 0 5 0 3 0 0 0 1 0 0 0 2 0 1 0 1 0 1 0 6 0 3 0 3 0 4 0 2 0 1 0 1 0 0 0 2 0 1 0 10 0 2 0-74 3 0 0 0 0 1 0 1 0 1 0 1 0 0 0 1 0 0 0 0 0 1 0 0 0 1 0 0 0 1 0 0 0 1 0 0 0 1 0 1 0 0 0 0 0 2 0 3 0 1 0 1 0 0 0 1 0 1 0 1 0 1 0 0 0 1 0 0 0 1 0 0 0 1 0 3 0 0 0 1 0 0 0 1 0 1 0 1 0 0 0 2 0 1 0 0 0 1 0 2 0 1 0 0 0 0 0 5 0 1 0 1 0 2 0 1 0 1 0 2 0 2 0 3 0 2 0 0 0 2 0 5 0 4 0 1 0 3 0 7 0-82 3 1 0 0 0 0 0 1 0 0 0 1 0 1 0 0 0 1 0 0 0 1 0 0 0 1 0 0 0 0 0 1 0 1 0 4 0 0 0 2 0 0 0 1 0 1 0 1 0 0 0 0 0 1 0 0 0 1 0 1 0 1 0 0 0 1 0 0 0 1 0 0 0 1 0 1 0 0 0 1 0 0 0 1 0 0 0 1 0 1 0 1 0 1 0 3 0 3 0 4 0 1 0 0 0 2 0 2 0 1 0 3 0 0 0 2 0 0 0 3 0 0 0 3 0 0 0 0 0 6 0 4 0 2 0 0 0-70 3 1 0 0 0 0 0 1 0 1 0 1 0 0 0 0 0 1 0 1 0 2 0 1 0 1 0 2 0 0 0 1 0 0 0 2 0 0 0 1 0 0 0 1 0 3 0 0 0 1 0 1 0 0 0 1 0 0 0 1 0 0 0 0 0 1 0 1 0 1 0 0 0 0 0 1 0 1 0 0 0 1 0 1 0 0 0 0 0 1 0 2 0 0 0 0 0 1 0 0 0 1 0 1 0 5 0 2 0 0 0 5 0 0 0 1 0 1 0 0 0 1 0 0 0 0 0 1 0 3 0 0 0 1 0 0 0 5 0 3 0 1 0 3 0 0 0 9 0 2 0 3 0 4 0-96 4 3 0 3 0 2 0 0 0 0 0 2 0 1 0 0 0 0 0 1 0 0 0 0 0 1 0 0 0 1 0 1 0 0 0 1 0 0 0 1 0 0 0 0 0 1 0 0 0 1 0 0 0 1 0 0 0 0 0 1 0 3 0 0 0 1 0 1 0 1 0 0 0 0 0 3 0 0 0 1 0 1 0 2 0 1 0 2 0 1 0 0 0 1 0 1 0 0 0 1 0 1 0 0 0 1 0 2 0 1 0 0 0 0 0 1 0 0 0 1 0 1 0 1 0 1 0 1 0 0 0 1 0 1 0 0 0 2 0 4 0 2 0 5 0 0 0 1 0 0 0 2 0 0 0 2 0 2 0 1 0 1 0 1 0 0 0 2 0 2 0 2 0 4 0 2 0 2 0 0 0 1 0 4 0 2 0 7 0-104 3 1 0 2 0 3 0 0 0 0 0 2 0 1 0 1 0 0 0 1 0 0 0 1 0 0 0 1 0 1 0 0 0 1 0 0 0 1 0 2 0 1 0 0 0 1 0 2 0 0 0 1 0 1 0 1 0 0 0 0 0 1 0 2 0 1 0 1 0 1 0 0 0 2 0 1 0 0 0 1 0 0 0 1 0 0 0 1 0 0 0 2 0 1 0 1 0 1 0 1 0 1 0 1 0 2 0 1 0 1 0 1 0 0 0 1 0 1 0 4 0 0 0 1 0 1 0 0 0 2 0 0 0 1 0 2 0 1 0 0 0 2 0 1 0 2 0 1 0 1 0 0 0 2 0 1 0 2 0 7 0 2 0 2 0 3 0-94 3 6 0 1 0 1 0 0 0 1 0 1 0 0 0 0 0 2 0 0 0 1 0 0 0 1 0 0 0 1 0 1 0 2 0 3 0 0 0 1 0 0 0 1 0 2 0 1 0 1 0 0 0 1 0 2 0 1 0 1 0 2 0 1 0 0 0 1 0 0 0 1 0 0 0 1 0 1 0 1 0 1 0 0 0 1 0 0 0 1 0 3 0 0 0 1 0 0 0 1 0 0 0 2 0 0 0 1 0 0 0 1 0 0 0 1 0 1 0 0 0 1 0 0 0 1 0 0 0 2 0 1 0 1 0 1 0 1 0 0 0 0 0 1 0 0 0 1 0 1 0 1 0 0 0 2 0 1 0 1 0 2 0 1 0 0 0 2 0 0 0 1 0 2 0 3 0 0 0 2 0 1 0 2 0 5 0 2 0 2 0 3 0 2 0 6 0 3 0-113 3 7 0 0 0 1 0 0 0 0 0 1 0 1 0 1 0 0 0 1 0 0 0 0 0 1 0 1 0 0 0 1 0 0 0 0 0 1 0 0 0 1 0 0 0 1 0 1 0 0 0 2 0 2 0 0 0 1 0 2 0 0 0 1 0 0 0 1 0 1 0 1 0 0 0 1 0 0 0 1 0 0 0 1 0 0 0 1 0 0 0 1 0 2 0 1 0 0 0 0 0 2 0 1 0 1 0 0 0 1 0 1 0 0 0 0 0 1 0 0 0 1 0 0 0 1 0 1 0 2 0 0 0 1 0 0 0 1 0 2 0 1 0 2 0 1 0 0 0 1 0 0 0 1 0 0 0 1 0 1 0 1 0 1 0 1 0 0 0 1 0 0 0 0 0 1 0 0 0 3 0 0 0 3 0 1 0 0 0 1 0 0 0 2 0 2 0 0 0 1 0 1 0 2 0 1 0 0 0 2 0 0 0 2 0 0 0 1 0 1 0 0 0 1 0 0 0 3 0 0 0 1 0 2 0 0 0 4 0 3 0 0 0 3 0 0 0 6 0 5 0-118 3 3 0 0 0 1 0 0 0 1 0 2 0 0 0 1 0 0 0 0 0 2 0 0 0 2 0 0 0 1 0 0 0 1 0 0 0 1 0 0 0 1 0 1 0 1 0 2 0 1 0 1 0 0 0 2 0 0 0 1 0 2 0 0 0 4 0 0 0 2 0 2 0 0 0 2 0 0 0 1 0 0 0 2 0 2 0 2 0 1 0 2 0 1 0 1 0 0 0 0 0 1 0 1 0 0 0 1 0 1 0 1 0 4 0 0 0 1 0 1 0 3 0 2 0 1 0 2 0 0 0 1 0 1 0 0 0 1 0 5 0 0 0 1 0 2 0 0 0 2 0 0 0 2 0 1 0 0 0 1 0 1 0 2 0 1 0 1 0 1 0 1 0 3 0 0 0 0 0 5 0 2 0 3 0 0 0 1 0 2 0 5 0 1 0 7 0 6 0-129 3 2 0 0 0 1 0 1 0 0 0 1 0 0 0 1 0 0 0 1 0 0 0 0 0 1 0 0 0 1 0 0 0 1 0 0 0 0 0 1 0 0 0 1 0 1 0 1 0 1 0 0 0 1 0 1 0 0 0 0 0 1 0 1 0 1 0 2 0 1 0 1 0 1 0 0 0 1 0 1 0 3 0 1 0 0 0 2 0 4 0 0 0 1 0 1 0 0 0 1 0 1 0 1 0 2 0 1 0 1 0 0 0 1 0 1 0 1 0 0 0 2 0 1 0 0 0 2 0 1 0 1 0 1 0 1 0 0 0 1 0 1 0 1 0 1 0 0 0 2 0 1 0 0 0 1 0 2 0 0 0 0 0 1 0 0 0 1 0 0 0 1 0 1 0 0 0 2 0 2 0 0 0 0 0 1 0 0 0 1 0 0 0 1 0 0 0 1 0 1 0 0 0 4 0 1 0 1 0 0 0 0 0 1 0 1 0 0 0 0 0 1 0 2 0 1 0 0 0 1 0 1 0 1 0 4 0 0 0 1 0 0 0 1 0 2 0 0 0 1 0 2 0 1 0 1 0 1 0 1 0 0 0 2 0 1 0 1 0 2 0 1 0 1 0 0 0 0 0 1 0 2 0 2 0 4 0 3 0 0 0-139 3 3 0 1 0 0 0 1 0 1 0 0 0 1 0 0 0 0 0 1 0 0 0 1 0 0 0 0 0 1 0 0 0 0 0 1 0 0 0 1 0 0 0 1 0 0 0 1 0 0 0 1 0 1 0 1 0 0 0 0 0 1 0 0 0 1 0 1 0 1 0 1 0 1 0 0 0 1 0 1 0 0 0 1 0 1 0 0 0 0 0 1 0 0 0 1 0 2 0 1 0 0 0 1 0 0 0 0 0 1 0 0 0 1 0 0 0 2 0 0 0 1 0 0 0 1 0 0 0 0 0 1 0 0 0 0 0 1 0 0 0 1 0 0 0 1 0 0 0 0 0 1 0 1 0 0 0 1 0 0 0 1 0 0 0 1 0 1 0 1 0 0 0 2 0 1 0 1 0 1 0 0 0 1 0 0 0 1 0 0 0 0 0 1 0 0 0 1 0 0 0 1 0 0 0 1 0 0 0 0 0 1 0 1 0 1 0 0 0 1 0 0 0 1 0 1 0 0 0 0 0 1 0 0 0 1 0 1 0 0 0 1 0 0 0 0 0 1 0 0 0 1 0 0 0 1 0 1 0 0 0 1 0 1 0 0 0 1 0 0 0 0 0 1 0 0 0 1 0 0 0 1 0 1 0 0 0 1 0 0 0 1 0 0 0 1 0 0 0 1 0 1 0 0 0 1 0 1 0 1 0 0 0 1 0 1 0 1 0 0 0 1 0 0 0 1 0 0 0 0 0 1 0 0 0 1 0 0 0 2 0 0 0 1 0 0 0 1 0 1 0 0 0 0 0 1 0 0 0 1 0 0 0 1 0 0 0 0 0 1 0 0 0 1 0 0 0 0 0 1 0 0 0 0 0 1 0 0 0 1 0 0 0 1 0 0 0 1 0 1 0 0 0 1 0 0 0 1 0 0 0 1 0 1 0 0 0 0 0 1 0 1 0 0 0 1 0 1 0 0 0 0 0 1 0 0 0 1 0 0 0 0 0 1 0 1 0 0 0 0 0 1 0 0 0 1 0 0 0 0 0 1 0 0 0 1 0 1 0 0 0 1 0 0 0 1 0 0 0 0 0 1 0 0 0 1 0 0 0 0 0 1 0 0 0 0 0 1 0 0 0 0 0 1 0 0 0 0 0 1 0 0 0 0 0 1 0 1 0 0 0"/>
<path class="tk" d="M589.5 402.5v-5.5M589.5 120.5v5.5M627.5 402.5v-5.5M627.5 120.5v5.5M665.5 402.5v-5.5M665.5 120.5v5.5M703.5 402.5v-5.5M703.5 120.5v5.5M741.5 402.5v-5.5M741.5 120.5v5.5M778.5 402.5v-5.5M778.5 120.5v5.5M816.5 402.5v-5.5M816.5 120.5v5.5M854.5 402.5v-5.5M854.5 120.5v5.5M892.5 402.5v-5.5M892.5 120.5v5.5M589.5 402.5h5.5M892.5 402.5h-5.5M589.5 371.5h5.5M892.5 371.5h-5.5M589.5 340.5h5.5M892.5 340.5h-5.5M589.5 308.5h5.5M892.5 308.5h-5.5M589.5 277.5h5.5M892.5 277.5h-5.5M589.5 245.5h5.5M892.5 245.5h-5.5M589.5 214.5h5.5M892.5 214.5h-5.5M589.5 183.5h5.5M892.5 183.5h-5.5M589.5 151.5h5.5M892.5 151.5h-5.5M589.5 120.5h5.5M892.5 120.5h-5.5"/>
<rect class="ax" x="589.5" y="120.5" width="303" height="282"/>
<text class="t" x="589.3" y="420.6" text-anchor="middle">−4</text>
<text class="t" x="627.2" y="420.6" text-anchor="middle">−2</text>
<text class="t" x="665.1" y="420.6" text-anchor="middle">0</text>
<text class="t" x="703" y="420.6" text-anchor="middle">2</text>
<text class="t" x="740.9" y="420.6" text-anchor="middle">4</text>
<text class="t" x="778.9" y="420.6" text-anchor="middle">6</text>
<text class="t" x="816.8" y="420.6" text-anchor="middle">8</text>
<text class="t" x="854.7" y="420.6" text-anchor="middle">10</text>
<text class="t" x="892.6" y="420.6" text-anchor="middle">12</text>
<text class="t" x="584.5" y="407.7" text-anchor="end">0</text>
<text class="t" x="584.5" y="376.3" text-anchor="end">10</text>
<text class="t" x="584.5" y="344.9" text-anchor="end">20</text>
<text class="t" x="584.5" y="313.5" text-anchor="end">30</text>
<text class="t" x="584.5" y="282.2" text-anchor="end">40</text>
<text class="t" x="584.5" y="250.8" text-anchor="end">50</text>
<text class="t" x="584.5" y="219.4" text-anchor="end">60</text>
<text class="t" x="584.5" y="188" text-anchor="end">70</text>
<text class="t" x="584.5" y="156.7" text-anchor="end">80</text>
<text class="t" x="584.5" y="125.3" text-anchor="end">90</text>
<text class="tt" x="740.5" y="112.5" text-anchor="middle">gamma</text>
</g>
<g id="ax02">
<path class="b" clip-path="url(#c02)" d="M1153.5 142.5l29 25-34 28 2 3-37 4 82 15-19 3-70 4 8 0-11 6 55 0-18 3-31 6 34 0-35 3 2 0 29 0 31 0 28 0-90 3-3 4 35 0 38 9-68 3 88 0 8 0 3 3-94 3 11 0 86 0-104 4 45 0 8 0 46 0-97 3 8 0 29 0 49 0-92 3 93 0-58 3 7 0 43 0-51 3 2 3 8 0 6 0 22 0 19 0-101 3 8 0 8 0 61 0-5 4 24 0-79 3 18 0 72 3-101 3 4 0 4 0 36 0-34 3 33 0 9 0 9 0 13 0 14 0 11 0-102 3 15 0 98 0-102 3 37 0 8 0 49 0-98 4 50 0 16 0 35 0-92 3 15 0 8 0 20 0 4 0 1 0 27 0 9 0-101 3 10 0 4 0 35 0 20 0 11 0 39 0-119 3 3 0 3 0 1 0 3 0 2 0 39 0 25 0 27 0 12 0 5 0-108 3 1 0 22 0 60 0-90 3 14 0 23 0 28 0 9 0 18 0 3 0 1 0 23 0-117 3 9 0 19 0 16 0 2 0 5 0 2 0 10 0 1 0 30 0 3 0 1 0 2 0 13 0-121 3 1 0 14 0 5 0 36 0 5 0 13 0 3 0 16 0 1 0 6 0 12 0 4 0 3 0-122 4 13 0 0 0 0 0 1 0 2 0 1 0 6 0 4 0 3 0 8 0 27 0 2 0 10 0 9 0 1 0 0 0 14 0 27 0-123 3 1 0 6 0 2 0 1 0 3 0 1 0 2 0 1 0 1 0 5 0 0 0 1 0 31 0 8 0 1 0 5 0 1 0 2 0 2 0 1 0 2 0 9 0 25 0 6 0 1 0 0 0 1 0-128 3 10 0 2 0 0 0 9 0 4 0 7 0 1 0 1 0 3 0 1 0 0 0 5 0 3 0 10 0 9 0 1 0 3 0 5 0 2 0 1 0 6 0 1 0 5 0 2 0 5 0 2 0 2 0 1 0 2 0 7 0 1 0 19 0-128 3 15 0 1 0 10 0 17 0 0 0 2 0 2 0 1 0 4 0 6 0 5 0 1 0 4 0 5 0 8 0 3 0 1 0 6 0 1 0 2 0 5 0 3 0 8 0 11 0-129 3 3 0 2 0 1 0 9 0 3 0 7 0 2 0 10 0 9 0 0 0 9 0 6 0 0 0 5 0 0 0 3 0 1 0 2 0 1 0 1 0 3 0 6 0 0 0 5 0 5 0 0 0 3 0 0 0 3 0 5 0 5 0 3 0 0 0 1 0 5 0 2 0 4 0 4 0 0 0 10 0 0 0-129 3 11 0 0 0 8 0 1 0 0 0 4 0 5 0 5 0 14 0 0 0 4 0 3 0 4 0 5 0 2 0 7 0 2 0 2 0 5 0 1 0 0 0 3 0 2 0 1 0 9 0 5 0 1 0 0 0 7 0 5 0 3 0 1 0 0 0 1 0 0 0 7 0 1 0-131 3 9 0 2 0 4 0 1 0 5 0 1 0 1 0 4 0 4 0 8 0 6 0 1 0 2 0 7 0 5 0 1 0 2 0 1 0 1 0 3 0 5 0 2 0 1 0 6 0 3 0 0 0 0 0 5 0 1 0 3 0 0 0 1 0 5 0 6 0 3 0 1 0 3 0 3 0 1 0 1 0 4 0 2 0-115 4 2 0 2 0 4 0 3 0 1 0 1 0 6 0 6 0 10 0 2 0 1 0 2 0 5 0 3 0 4 0 0 0 1 0 2 0 1 0 2 0 4 0 1 0 1 0 11 0 3 0 7 0 2 0 0 0 3 0 1 0 3 0 0 0 0 0 1 0 1 0 1 0 1 0 0 0 1 0 3 0 2 0 1 0 2 0 1 0 1 0 9 0 1 0 2 0-151 3 18 0 9 0 1 0 0 0 0 0 2 0 0 0 2 0 3 0 6 0 0 0 4 0 2 0 2 0 3 0 6 0 0 0 4 0 3 0 6 0 1 0 1 0 0 0 3 0 8 0 2 0 3 0 3 0 5 0 1 0 0 0 2 0 4 0 1 0 1 0 0 0 1 0 2 0 0 0 1 0 1 0 6 0 1 0 2 0 0 0 1 0 2 0 2 0 1 0 2 0 1 0 1 0 0 0 2 0 0 0 2 0 1 0 0 0 4 0 1 0 0 0 1 0 11 0 8 0-152 3 14 0 3 0 4 0 1 0 1 0 2 0 1 0 2 0 3 0 2 0 1 0 0 0 2 0 0 0 2 0 2 0 0 0 1 0 0 0 17 0 0 0 8 0 1 0 3 0 7 0 2 0 1 0 1 0 0 0 1 0 2 0 13 0 4 0 2 0 4 0 3 0 2 0 5 0 10 0 3 0 1 0 2 0 1 0 2 0 3 0 2 0 3 0 4 0 5 0-164 3 18 0 12 0 3 0 2 0 11 0 5 0 1 0 2 0 8 0 3 0 1 0 1 0 1 0 4 0 1 0 1 0 1 0 2 0 3 0 0 0 0 0 1 0 0 0 1 0 0 0 1 0 1 0 0 0 5 0 1 0 1 0 2 0 2 0 2 0 3 0 1 0 0 0 2 0 7 0 7 0 2 0 1 0 0 0 5 0 2 0 5 0 1 0 1 0 0 0 3 0 2 0 3 0 1 0 1 0 3 0 1 0 0 0 1 0 0 0 0 0 2 0 6 0-144 3 10 0 11 0 6 0 2 0 1 0 0 0 5 0 5 0 1 0 1 0 1 0 1 0 5 0 5 0 1 0 8 0 0 0 1 0 4 0 0 0 2 0 8 0 1 0 0 0 3 0 1 0 1 0 7 0 1 0 0 0 1 0 0 0 2 0 1 0 0 0 1 0 2 0 1 0 1 0 1 0 2 0 3 0 2 0 2 0 4 0 1 0 0 0 1 0 2 0 5 0 0 0 2 0 0 0 6 0 0 0 1 0 5 0 0 0 1 0 1 0 0 0 6 0 0 0 1 0 1 0 0 0 1 0-163 3 4 0 6 0 0 0 2 0 1 0 3 0 16 0 2 0 4 0 0 0 1 0 1 0 1 0 0 0 1 0 2 0 3 0 2 0 0 0 0 0 4 0 0 0 1 0 3 0 0 0 1 0 1 0 4 0 1 0 1 0 6 0 2 0 1 0 1 0 3 0 1 0 11 0 0 0 2 0 0 0 2 0 1 0 2 0 0 0 5 0 3 0 1 0 2 0 1 0 0 0 1 0 3 0 0 0 3 0 0 0 1 0 1 0 1 0 2 0 4 0 0 0 0 0 3 0 2 0 12 0 2 0 0 0 2 0 1 0 2 0 1 0 1 0 0 0 1 0 2 0 5 0 0 0 4 0 2 0-151 3 7 0 3 0 7 0 1 0 1 0 1 0 2 0 2 0 0 0 2 0 4 0 0 0 2 0 1 0 1 0 1 0 2 0 0 0 5 0 0 0 5 0 0 0 5 0 1 0 0 0 8 0 0 0 2 0 0 0 1 0 0 0 1 0 2 0 2 0 2 0 1 0 0 0 1 0 0 0 6 0 1 0 0 0 3 0 0 0 0 0 1 0 2 0 0 0 2 0 0 0 3 0 1 0 2 0 1 0 2 0 5 0 2 0 1 0 2 0 2 0 0 0 1 0 4 0 4 0 1 0 4 0 0 0 1 0 1 0 1 0 1 0 1 0 0 0 0 0 1 0 3 0 0 0 5 0 3 0 1 0 0 0 7 0-166 4 3 0 9 0 1 0 6 0 2 0 14 0 2 0 0 0 1 0 1 0 1 0 3 0 0 0 3 0 2 0 0 0 0 0 1 0 0 0 3 0 1 0 0 0 1 0 1 0 3 0 3 0 2 0 5 0 1 0 4 0 6 0 4 0 1 0 0 0 0 0 1 0 0 0 3 0 0 0 0 0 4 0 1 0 2 0 0 0 2 0 0 0 2 0 1 0 1 0 3 0 7 0 4 0 1 0 3 0 4 0 1 0 3 0 4 0 1 0 0 0 1 0 2 0 3 0 7 0 0 0 5 0 1 0 3 0 0 0 0 0 1 0 0 0 6 0 0 0 3 0 5 0-169 3 24 0 3 0 1 0 2 0 4 0 6 0 5 0 2 0 1 0 1 0 1 0 1 0 3 0 1 0 3 0 1 0 2 0 0 0 0 0 1 0 5 0 2 0 3 0 0 0 2 0 1 0 0 0 2 0 0 0 0 0 3 0 1 0 0 0 1 0 1 0 0 0 1 0 4 0 3 0 0 0 1 0 2 0 0 0 2 0 2 0 2 0 3 0 0 0 1 0 1 0 1 0 7 0 3 0 3 0 0 0 0 0 1 0 0 0 0 0 1 0 3 0 0 0 2 0 1 0 0 0 10 0 2 0 2 0 4 0 8 0 1 0 2 0 0 0 2 0 2 0 1 0 1 0 3 0 1 0 1 0 1 0 2 0-179 3 6 0 22 0 5 0 4 0 3 0 1 0 1 0 1 0 0 0 0 0 1 0 2 0 0 0 1 0 3 0 0 0 0 0 4 0 1 0 0 0 1 0 1 0 1 0 0 0 0 0 1 0 0 0 1 0 1 0 2 0 1 0 0 0 1 0 1 0 4 0 3 0 0 0 3 0 0 0 1 0 2 0 2 0 2 0 0 0 1 0 0 0 7 0 2 0 2 0 6 0 1 0 2 0 0 0 2 0 3 0 12 0 4 0 3 0 5 0 5 0 1 0 6 0 26 0 0 0 1 0 0 0 4 0 1 0 0 0 3 0-182 3 9 0 11 0 8 0 1 0 5 0 10 0 1 0 0 0 1 0 1 0 0 0 4 0 0 0 2 0 1 0 0 0 1 0 0 0 2 0 1 0 0 0 1 0 1 0 0 0 3 0 0 0 1 0 0 0 0 0 1 0 1 0 0 0 1 0 0 0 1 0 1 0 0 0 2 0 1 0 2 0 2 0 0 0 3 0 0 0 4 0 1 0 2 0 1 0 1 0 1 0 0 0 0 0 17 0 2 0 0 0 1 0 12 0 0 0 2 0 8 0 1 0 0 0 6 0 4 0 37 0 0 0 1 0 4 0-199 3 6 0 14 0 4 0 5 0 1 0 0 0 5 0 3 0 0 0 2 0 0 0 4 0 1 0 0 0 1 0 6 0 2 0 6 0 1 0 0 0 1 0 1 0 1 0 0 0 1 0 0 0 0 0 1 0 1 0 1 0 1 0 1 0 1 0 0 0 1 0 0 0 1 0 1 0 2 0 4 0 0 0 4 0 2 0 1 0 1 0 3 0 3 0 2 0 0 0 3 0 13 0 5 0 2 0 6 0 11 0 19 0 41 0 2 0 1 0-200 3 1 0 0 0 0 0 2 0 2 0 2 0 0 0 1 0 0 0 1 0 1 0 0 0 2 0 1 0 1 0 0 0 1 0 1 0 1 0 0 0 0 0 1 0 0 0 0 0 2 0 0 0 3 0 0 0 2 0 0 0 1 0 0 0 1 0 0 0 1 0 1 0 0 0 0 0 1 0 0 0 1 0 1 0 2 0 0 0 1 0 0 0 1 0 3 0 1 0 0 0 3 0 1 0 0 0 0 0 2 0 1 0 2 0 2 0 1 0 1 0 2 0 1 0 1 0 0 0 1 0 1 0 2 0 3 0 0 0 1 0 2 0 1 0 0 0 1 0 1 0 2 0 0 0 3 0 0 0 2 0 1 0 1 0 1 0 1 0 0 0 1 0 1 0 1 0 3 0 1 0 0 0 1 0 0 0 2 0 2 0 0 0 0 0 1 0 3 0 1 0 103 0-259 3 1 0 0 0 0 0 1 0 1 0 1 0 0 0 1 0 1 0 0 0 2 0 0 0 0 0 1 0 0 0 1 0 0 0 1 0 4 0 1 0 0 0 0 0 1 0 0 0 0 0 1 0 0 0 1 0 0 0 0 0 1 0 0 0 1 0 2 0 0 0 1 0 1 0 0 0 2 0 0 0 0 0 1 0 0 0 0 0 1 0 1 0 1 0 0 0 0 0 1 0 0 0 0 0 1 0 0 0 0 0 1 0 0 0 0 0 1 0 0 0 1 0 0 0 0 0 1 0 0 0 0 0 1 0 0 0 0 0 1 0 0 0 0 0 1 0 0 0 0 0 1 0 0 0 1 0 1 0 0 0 0 0 1 0 0 0 2 0 0 0 0 0 1 0 0 0 0 0 1 0 0 0 0 0 1 0 0 0 0 0 1 0 0 0 0 0 1 0 0 0 0 0 1 0 0 0 0 0 1 0 0 0 0 0 1 0 0 0 0 0 1 0 0 0 0 0 1 0 0 0 0 0 1 0 0 0 0 0 1 0 0 0 0 0 1 0 0 0 0 0 1 0 0 0 0 0 1 0 0 0 1 0 0 0 0 0 1 0 0 0 1 0 0 0 0 0 1 0 1 0 0 0 1 0 0 0 1 0 0 0 0 0 1 0 0 0 0 0 1 0 0 0 0 0 1 0 0 0 0 0 1 0 0 0 0 0 1 0 0 0 0 0 1 0 0 0 0 0 1 0 0 0 0 0 1 0 0 0 0 0 1 0 0 0 0 0 1 0 0 0 1 0 0 0 0 0 1 0 0 0 0 0 1 0 0 0 1 0 0 0 0 0 1 0 0 0 1 0 0 0 1 0 0 0 1 0 0 0 1 0 0 0 1 0 0 0 0 0 1 0 0 0 1 0 0 0 0 0 1 0 0 0 0 0 1 0 0 0 1 0 0 0 1 0 0 0 0 0 1 0 0 0 0 0 1 0 0 0 0 0 1 0 1 0 0 0 0 0 1 0 0 0 0 0 1 0 0 0 0 0 1 0 0 0 1 0 1 0 0 0 0 0 1 0 0 0 1 0 0 0 1 0 0 0 0 0 3 0 2 0 144 0 0 0 1 0 1 0 1 0 0 0 0 0"/>
<path class="r" clip-path="url(#c02)" d="M1153.5 142.5l29 25 13 50-19 3-18 10 12 12 28 0-20 16 20 3 8 0 3 3 3 3-59 4 8 0 46 0-11 3 1 3-8 3-13 6 19 0-24 3-5 4 24 0 11 6-57 3 17 3 13 0 14 0 11 0 11 3-57 3 49 0-48 4 16 0 35 0-49 3 4 0 1 0 27 0 9 0-52 3 20 0 11 0 39 0-43 3 27 0 12 0 5 0-25 3-25 3 9 0 18 0 3 0 1 0 23 0-73 3 2 0 5 0 2 0 10 0 1 0 30 0 3 0 1 0 2 0 13 0-65 3 5 0 13 0 3 0 16 0 1 0 6 0 12 0 4 0 3 0-45 4 9 0 1 0 0 0 14 0 27 0-54 3 1 0 2 0 2 0 3 0 9 0 25 0 6 0 1 0 0 0 1 0-72 3 18 0 2 0 7 0 1 0 5 0 2 0 5 0 2 0 2 0 1 0 2 0 7 0 1 0 19 0-47 3 3 0 1 0 7 0 2 0 5 0 3 0 8 0 11 0-46 3 5 0 5 0 0 0 3 0 0 0 3 0 5 0 5 0 3 0 0 0 1 0 5 0 2 0 4 0 4 0 0 0 10 0 0 0-56 3 2 0 2 0 5 0 1 0 0 0 3 0 2 0 1 0 9 0 5 0 1 0 0 0 7 0 5 0 3 0 1 0 0 0 1 0 0 0 7 0 1 0-56 3 1 0 6 0 3 0 0 0 0 0 5 0 1 0 3 0 0 0 1 0 5 0 6 0 3 0 1 0 3 0 3 0 1 0 1 0 4 0 2 0-59 4 6 0 1 0 1 0 11 0 3 0 7 0 2 0 0 0 3 0 1 0 3 0 0 0 0 0 1 0 1 0 1 0 1 0 0 0 1 0 3 0 2 0 1 0 2 0 1 0 1 0 9 0 1 0 2 0-65 3 6 0 5 0 1 0 0 0 2 0 4 0 1 0 1 0 0 0 1 0 2 0 0 0 1 0 1 0 6 0 1 0 2 0 0 0 1 0 2 0 2 0 1 0 2 0 0 0 1 0 1 0 0 0 0 0 2 0 0 0 1 0 1 0 1 0 0 0 0 0 1 0 3 0 1 0 0 0 1 0 11 0 8 0-75 3 2 0 1 0 1 0 0 0 0 0 1 0 2 0 13 0 4 0 2 0 4 0 3 0 2 0 5 0 5 0 5 0 3 0 1 0 2 0 1 0 2 0 3 0 2 0 3 0 4 0 5 0-84 3 3 0 1 0 5 0 1 0 1 0 2 0 2 0 0 0 2 0 3 0 1 0 0 0 2 0 7 0 7 0 2 0 1 0 0 0 5 0 2 0 5 0 1 0 1 0 0 0 2 0 1 0 2 0 3 0 1 0 1 0 1 0 2 0 1 0 0 0 1 0 0 0 2 0 6 0-81 3 7 0 8 0 1 0 3 0 1 0 1 0 7 0 1 0 0 0 1 0 0 0 2 0 1 0 0 0 1 0 2 0 0 0 1 0 1 0 1 0 1 0 0 0 1 0 2 0 0 0 1 0 2 0 2 0 0 0 4 0 1 0 0 0 1 0 1 0 1 0 2 0 0 0 1 0 2 0 0 0 0 0 1 0 1 0 0 0 2 0 4 0 0 0 1 0 5 0 0 0 1 0 1 0 0 0 6 0 0 0 1 0 1 0 0 0 1 0-73 3 0 0 2 0 0 0 2 0 1 0 2 0 0 0 1 0 4 0 3 0 1 0 2 0 1 0 0 0 0 0 1 0 3 0 0 0 1 0 2 0 0 0 1 0 0 0 1 0 1 0 2 0 1 0 0 0 1 0 1 0 0 0 1 0 0 0 0 0 3 0 2 0 1 0 1 0 1 0 0 0 0 0 1 0 2 0 2 0 0 0 2 0 1 0 1 0 0 0 2 0 0 0 0 0 2 0 1 0 2 0 1 0 1 0 0 0 1 0 2 0 5 0 0 0 4 0 2 0-90 3 3 0 3 0 2 0 2 0 1 0 0 0 1 0 0 0 6 0 1 0 0 0 2 0 1 0 0 0 0 0 1 0 1 0 0 0 1 0 0 0 2 0 0 0 1 0 2 0 1 0 2 0 0 0 1 0 2 0 1 0 0 0 1 0 1 0 0 0 2 0 0 0 1 0 1 0 1 0 2 0 2 0 0 0 1 0 4 0 4 0 0 0 1 0 1 0 1 0 1 0 1 0 0 0 1 0 1 0 1 0 1 0 0 0 1 0 0 0 1 0 3 0 0 0 5 0 3 0 1 0 0 0 7 0-87 4 4 0 1 0 0 0 1 0 0 0 3 0 0 0 0 0 4 0 1 0 2 0 0 0 2 0 0 0 2 0 1 0 1 0 3 0 1 0 1 0 1 0 1 0 1 0 0 0 1 0 1 0 3 0 1 0 1 0 3 0 4 0 1 0 3 0 0 0 2 0 2 0 1 0 0 0 1 0 2 0 1 0 2 0 0 0 0 0 7 0 2 0 0 0 0 0 1 0 2 0 0 0 1 0 3 0 0 0 1 0 0 0 6 0 0 0 3 0 5 0-97 3 5 0 0 0 0 0 3 0 1 0 0 0 1 0 0 0 1 0 0 0 1 0 0 0 4 0 3 0 0 0 1 0 2 0 0 0 2 0 2 0 2 0 3 0 0 0 1 0 1 0 0 0 1 0 1 0 0 0 1 0 1 0 0 0 1 0 0 0 1 0 0 0 1 0 1 0 1 0 0 0 1 0 0 0 0 0 1 0 3 0 0 0 0 0 1 0 0 0 0 0 1 0 1 0 2 0 0 0 0 0 1 0 1 0 1 0 0 0 1 0 1 0 1 0 1 0 1 0 1 0 1 0 0 0 2 0 1 0 0 0 2 0 1 0 0 0 1 0 1 0 0 0 0 0 1 0 1 0 1 0 0 0 0 0 1 0 1 0 1 0 0 0 1 0 0 0 2 0 2 0 0 0 1 0 0 0 0 0 2 0 0 0 2 0 0 0 2 0 0 0 1 0 1 0 3 0 1 0 1 0 1 0 2 0-103 3 3 0 2 0 2 0 0 0 1 0 0 0 6 0 1 0 1 0 0 0 1 0 2 0 1 0 0 0 2 0 1 0 0 0 1 0 1 0 1 0 0 0 2 0 0 0 2 0 3 0 2 0 1 0 0 0 1 0 3 0 4 0 0 0 1 0 1 0 0 0 2 0 0 0 0 0 1 0 0 0 3 0 4 0 0 0 1 0 0 0 1 0 1 0 2 0 0 0 0 0 1 0 1 0 1 0 0 0 1 0 2 0 1 0 1 0 1 0 0 0 3 0 1 0 1 0 1 0 3 0 1 0 0 0 0 0 2 0 1 0 1 0 1 0 1 0 1 0 1 0 4 0 0 0 1 0 1 0 1 0 0 0 1 0 0 0 1 0 0 0 3 0 1 0 0 0 3 0-99 3 1 0 3 0 1 0 1 0 0 0 2 0 0 0 2 0 1 0 2 0 0 0 2 0 1 0 0 0 1 0 1 0 0 0 1 0 1 0 1 0 2 0 1 0 1 0 0 0 1 0 3 0 1 0 1 0 0 0 1 0 1 0 0 0 1 0 1 0 0 0 1 0 1 0 1 0 0 0 2 0 1 0 2 0 0 0 2 0 0 0 1 0 1 0 1 0 1 0 0 0 1 0 3 0 1 0 1 0 4 0 1 0 0 0 1 0 0 0 1 0 1 0 0 0 1 0 0 0 0 0 3 0 0 0 1 0 1 0 1 0 1 0 1 0 0 0 1 0 0 0 3 0 0 0 1 0 0 0 1 0 1 0 1 0 1 0 0 0 2 0 1 0 1 0 1 0 1 0 2 0 0 0 1 0 1 0 0 0 0 0 2 0 2 0 1 0 0 0 1 0 4 0-161 3 56 0 2 0 0 0 0 0 2 0 1 0 1 0 0 0 1 0 2 0 1 0 1 0 1 0 0 0 1 0 0 0 1 0 0 0 1 0 1 0 0 0 0 0 1 0 1 0 0 0 1 0 1 0 2 0 3 0 1 0 0 0 2 0 0 0 1 0 1 0 1 0 1 0 1 0 1 0 3 0 1 0 1 0 0 0 1 0 1 0 1 0 1 0 0 0 3 0 0 0 1 0 3 0 1 0 0 0 1 0 1 0 0 0 1 0 0 0 1 0 2 0 1 0 0 0 4 0 1 0 2 0 2 0 0 0 3 0 1 0 0 0 1 0 0 0 1 0 2 0 1 0 0 0 0 0 1 0 1 0 1 0 3 0 0 0 1 0 0 0 1 0 2 0 0 0 2 0 3 0 0 0 1 0 1 0 1 0 1 0 1 0 0 0 2 0 1 0 1 0 2 0 2 0 1 0-112 3 1 0 0 0 2 0 2 0 0 0 0 0 3 0 1 0 1 0 0 0 2 0 0 0 1 0 0 0 2 0 0 0 2 0 1 0 1 0 1 0 0 0 2 0 0 0 1 0 1 0 3 0 0 0 1 0 1 0 1 0 1 0 3 0 1 0 1 0 0 0 1 0 2 0 0 0 1 0 1 0 2 0 1 0 2 0 0 0 1 0 1 0 1 0 0 0 1 0 2 0 1 0 0 0 1 0 0 0 0 0 1 0 1 0 1 0 1 0 1 0 1 0 1 0 2 0 0 0 2 0 0 0 1 0 0 0 1 0 0 0 1 0 1 0 1 0 0 0 1 0 0 0 2 0 1 0 2 0 1 0 1 0 0 0 1 0 1 0 1 0 1 0 1 0 1 0 1 0 0 0 2 0 2 0 1 0 1 0 0 0 2 0 1 0 1 0 1 0 1 0 0 0 2 0 0 0 1 0 0 0 1 0 1 0 1 0 0 0 1 0 1 0 0 0 0 0 1 0 1 0 1 0 5 0-198 3 4 0 0 0 2 0 1 0 1 0 2 0 3 0 3 0 2 0 1 0 2 0 7 0 1 0 5 0 1 0 0 0 1 0 1 0 0 0 1 0 3 0 2 0 3 0 1 0 0 0 0 0 1 0 0 0 0 0 1 0 0 0 0 0 1 0 0 0 0 0 1 0 0 0 0 0 1 0 0 0 0 0 1 0 0 0 0 0 1 0 0 0 0 0 1 0 0 0 0 0 1 0 0 0 0 0 1 0 0 0 0 0 1 0 0 0 0 0 1 0 0 0 0 0 1 0 0 0 0 0 1 0 0 0 0 0 1 0 0 0 0 0 1 0 0 0 0 0 1 0 0 0 0 0 1 0 0 0 0 0 1 0 0 0 0 0 1 0 0 0 0 0 1 0 0 0 0 0 1 0 0 0 0 0 1 0 0 0 0 0 1 0 0 0 0 0 1 0 0 0 0 0 1 0 0 0 0 0 1 0 0 0 0 0 1 0 0 0 0 0 1 0 0 0 0 0 1 0 0 0 0 0 1 0 0 0 0 0 1 0 0 0 0 0 1 0 0 0 0 0 1 0 0 0 0 0 1 0 0 0 1 0 0 0 0 0 1 0 0 0 0 0 1 0 0 0 0 0 1 0 0 0 0 0 1 0 0 0 1 0 0 0 1 0 0 0 1 0 0 0 0 0 1 0 0 0 1 0 0 0 0 0 1 0 1 0 1 0 0 0 1 0 0 0 0 0 1 0 0 0 1 0 0 0 0 0 1 0 0 0 1 0 1 0 0 0 0 0 1 0 0 0 1 0 0 0 0 0 1 0 1 0 1 0 0 0 1 0 0 0 0 0 1 0 0 0 1 0 1 0 1 0 1 0 1 0 0 0 1 0 0 0 0 0 1 0 0 0 1 0 0 0 1 0 0 0 1 0 0 0 1 0 0 0 1 0 0 0 0 0 1 0 1 0 0 0 1 0 1 0 1 0 0 0 1 0 0 0 0 0 1 0 1 0 0 0 1 0 1 0 0 0 1 0 1 0 1 0 0 0 0 0 1 0 1 0 1 0 0 0 1 0 1 0 0 0 1 0 0 0 1 0 0 0 1 0 0 0 1 0 1 0 0 0 0 0 1 0 0 0 1 0 0 0 1 0 0 0 2 0 0 0 0 0 1 0 1 0 0 0 1 0 0 0 1 0 0 0 0 0 1 0 1 0 0 0 1 0 0 0 1 0 0 0 0 0 1 0 0 0 0 0 1 0 1 0 0 0 1 0 0 0 1 0 0 0 1 0 0 0 1 0 0 0 1 0 0 0 1 0 0 0 1 0 1 0 0 0 1 0 0 0 1 0 0 0 1 0 0 0 1 0 1 0 0 0 0 0 1 0 1 0 0 0 0 0 1 0 0 0 0 0 1 0 0 0 0 0 1 0 0 0 1 0 0 0 0 0 1 0 0 0 1 0 0 0 0 0 1 0 1 0 0 0 1 0 0 0 1 0 0 0 1 0 1 0 0 0 0 0 1 0 0 0 1 0 0 0 1 0 0 0 1 0 0 0 1 0 0 0 0 0 1 0 0 0 1 0 0 0 0 0 1 0 0 0 0 0 1 0 0 0 1 0 0 0 0 0 1 0 0 0 0 0"/>
<path class="tk" d="M953.5 402.5v-5.5M953.5 120.5v5.5M991.5 402.5v-5.5M991.5 120.5v5.5M1029.5 402.5v-5.5M1029.5 120.5v5.5M1067.5 402.5v-5.5M1067.5 120.5v5.5M1104.5 402.5v-5.5M1104.5 120.5v5.5M1142.5 402.5v-5.5M1142.5 120.5v5.5M1180.5 402.5v-5.5M1180.5 120.5v5.5M1218.5 402.5v-5.5M1218.5 120.5v5.5M1256.5 402.5v-5.5M1256.5 120.5v5.5M953.5 402.5h5.5M1256.5 402.5h-5.5M953.5 371.5h5.5M1256.5 371.5h-5.5M953.5 340.5h5.5M1256.5 340.5h-5.5M953.5 308.5h5.5M1256.5 308.5h-5.5M953.5 277.5h5.5M1256.5 277.5h-5.5M953.5 245.5h5.5M1256.5 245.5h-5.5M953.5 214.5h5.5M1256.5 214.5h-5.5M953.5 183.5h5.5M1256.5 183.5h-5.5M953.5 151.5h5.5M1256.5 151.5h-5.5M953.5 120.5h5.5M1256.5 120.5h-5.5"/>
<rect class="ax" x="953.5" y="120.5" width="303" height="282"/>
<text class="t" x="953.2" y="420.6" text-anchor="middle">−4</text>
<text class="t" x="991.1" y="420.6" text-anchor="middle">−2</text>
<text class="t" x="1029" y="420.6" text-anchor="middle">0</text>
<text class="t" x="1066.9" y="420.6" text-anchor="middle">2</text>
<text class="t" x="1104.9" y="420.6" text-anchor="middle">4</text>
<text class="t" x="1142.8" y="420.6" text-anchor="middle">6</text>
<text class="t" x="1180.7" y="420.6" text-anchor="middle">8</text>
<text class="t" x="1218.6" y="420.6" text-anchor="middle">10</text>
<text class="t" x="1256.5" y="420.6" text-anchor="middle">12</text>
<text class="t" x="948.4" y="407.7" text-anchor="end">0</text>
<text class="t" x="948.4" y="376.3" text-anchor="end">10</text>
<text class="t" x="948.4" y="344.9" text-anchor="end">20</text>
<text class="t" x="948.4" y="313.5" text-anchor="end">30</text>
<text class="t" x="948.4" y="282.2" text-anchor="end">40</text>
<text class="t" x="948.4" y="250.8" text-anchor="end">50</text>
<text class="t" x="948.4" y="219.4" text-anchor="end">60</text>
<text class="t" x="948.4" y="188" text-anchor="end">70</text>
<text class="t" x="948.4" y="156.7" text-anchor="end">80</text>
<text class="t" x="948.4" y="125.3" text-anchor="end">90</text>
<text class="tt" x="1104.5" y="112.5" text-anchor="middle">cape shear</text>
</g>
<g id="ax03">
<path class="b" clip-path="url(#c03)" d="M1391.5 142.5l-29 25-39 28 143 3-3 4-65 15 4 3-10 4 82 0-88 6 32 0-72 3 36 6 81 0-111 3 10 0 71 0 10 0-92 3 78 4 19 0-105 9 9 3 29 0 65 0-80 3 22 3 7 0 81 0-96 4 17 0 47 0 18 0-89 3 76 0 49 0 5 0-121 3 41 0-57 3 10 0 13 3-59 3 28 0 16 0 4 0-27 3 9 0 2 0 51 0 35 0-91 4 23 0-57 3 56 0 84 0-86 3 12 3 20 0 4 0 26 0 15 0 28 0-156 3 1 0 4 0 14 0 21 0 24 0 37 0 2 0 19 0-115 3 13 0 0 0 10 0 103 0 1 0-133 3 24 0 27 0 33 0 2 0 26 0-121 4 18 0 3 0 2 0 68 0 1 0 3 0 14 0 23 0 31 0 2 0-152 3 15 0 30 0 58 0 15 0-129 3 3 0 8 0 24 0 6 0 19 0 8 0 72 0 17 0 15 0 4 0-178 3 30 0 32 0 20 0 59 0-136 3 12 0 7 0 29 0 18 0 8 0 1 0 104 0-157 3 2 0 0 0 13 0 1 0 3 0 8 0 22 0 1 0 32 0 17 0 54 0-162 3 7 0 6 0 5 0 1 0 8 0 0 0 14 0 12 0 14 0 6 0 38 0 15 0 1 0 3 0-128 3 16 0 11 0 10 0 2 0 4 0 1 0 10 0 3 0 9 0 5 0 10 0 80 0-163 4 0 0 3 0 4 0 5 0 6 0 8 0 1 0 6 0 18 0 4 0 5 0 0 0 2 0 5 0 5 0 0 0 3 0 53 0-138 3 10 0 1 0 8 0 3 0 5 0 1 0 2 0 0 0 11 0 7 0 9 0 5 0 4 0 0 0 1 0 0 0 5 0 1 0 6 0 1 0 1 0 0 0 19 0 8 0 13 0 7 0-131 3 1 0 0 0 14 0 0 0 5 0 8 0 2 0 0 0 2 0 0 0 11 0 8 0 3 0 2 0 0 0 2 0 2 0 4 0 22 0 1 0 2 0 53 0 10 0-155 3 1 0 12 0 3 0 0 0 0 0 2 0 2 0 9 0 0 0 2 0 5 0 2 0 4 0 5 0 3 0 4 0 0 0 0 0 3 0 3 0 3 0 1 0 5 0 1 0 2 0 1 0 1 0 2 0 0 0 2 0 4 0 4 0 1 0 7 0 2 0 5 0 1 0 5 0 4 0 3 0 4 0 1 0 38 0-153 3 18 0 7 0 0 0 4 0 6 0 1 0 6 0 6 0 3 0 4 0 1 0 4 0 4 0 5 0 0 0 11 0 3 0 9 0 4 0 0 0 2 0 1 0 0 0 4 0 9 0 2 0 2 0 11 0 20 0 2 0 26 0-178 3 9 0 0 0 1 0 0 0 5 0 9 0 2 0 1 0 4 0 0 0 1 0 7 0 0 0 3 0 1 0 16 0 2 0 1 0 10 0 2 0 2 0 4 0 2 0 9 0 2 0 6 0 6 0 0 0 1 0 8 0 7 0 1 0 7 0 0 0 5 0 8 0 12 0 14 0 1 0 6 0 2 0-181 3 1 0 7 0 0 0 1 0 3 0 1 0 9 0 3 0 3 0 2 0 2 0 4 0 1 0 3 0 1 0 8 0 5 0 1 0 1 0 0 0 6 0 2 0 6 0 5 0 1 0 5 0 2 0 1 0 0 0 1 0 0 0 0 0 13 0 0 0 3 0 1 0 6 0 0 0 14 0 2 0 17 0 13 0 34 0 12 0-200 4 1 0 1 0 1 0 0 0 2 0 9 0 1 0 9 0 3 0 3 0 12 0 3 0 0 0 0 0 6 0 10 0 4 0 4 0 1 0 7 0 6 0 0 0 3 0 1 0 3 0 0 0 4 0 2 0 2 0 6 0 2 0 1 0 3 0 7 0 4 0 2 0 1 0 5 0 1 0 10 0 6 0 1 0 12 0-158 3 2 0 1 0 6 0 1 0 3 0 1 0 0 0 7 0 1 0 1 0 1 0 0 0 8 0 1 0 5 0 1 0 4 0 3 0 0 0 6 0 0 0 3 0 0 0 0 0 5 0 1 0 8 0 1 0 0 0 0 0 5 0 4 0 0 0 2 0 4 0 6 0 6 0 5 0 7 0 2 0 3 0 0 0 2 0 5 0 4 0 6 0 0 0 0 0 1 0 3 0 0 0 16 0 1 0 11 0-156 3 1 0 0 0 1 0 9 0 2 0 1 0 0 0 7 0 0 0 3 0 0 0 3 0 1 0 1 0 1 0 0 0 0 0 1 0 2 0 1 0 0 0 1 0 3 0 1 0 1 0 3 0 1 0 1 0 1 0 4 0 3 0 3 0 0 0 2 0 1 0 0 0 3 0 0 0 0 0 1 0 2 0 0 0 4 0 3 0 1 0 6 0 1 0 0 0 0 0 3 0 6 0 2 0 1 0 2 0 10 0 2 0 7 0 28 0 4 0 2 0 14 0 2 0-170 3 4 0 3 0 2 0 2 0 2 0 1 0 1 0 1 0 1 0 2 0 2 0 0 0 1 0 2 0 1 0 1 0 3 0 1 0 5 0 3 0 3 0 0 0 3 0 1 0 2 0 3 0 3 0 0 0 3 0 0 0 0 0 2 0 3 0 2 0 2 0 6 0 2 0 1 0 2 0 2 0 1 0 8 0 1 0 6 0 2 0 0 0 0 0 3 0 5 0 8 0 1 0 1 0 7 0 0 0 9 0 2 0 2 0 3 0 8 0 1 0 0 0 1 0 5 0 10 0 5 0 2 0 9 0 0 0 14 0-193 3 2 0 3 0 0 0 1 0 1 0 1 0 2 0 2 0 0 0 1 0 1 0 2 0 0 0 1 0 3 0 2 0 1 0 0 0 2 0 0 0 2 0 3 0 4 0 4 0 0 0 2 0 2 0 3 0 2 0 1 0 3 0 1 0 4 0 2 0 0 0 4 0 2 0 4 0 1 0 1 0 1 0 4 0 7 0 0 0 4 0 1 0 0 0 5 0 7 0 0 0 0 0 2 0 5 0 3 0 3 0 4 0 1 0 3 0 7 0 1 0 4 0 1 0 0 0 3 0 10 0 3 0 3 0 3 0 3 0 1 0 3 0 0 0 1 0 4 0 0 0 1 0 4 0 3 0 7 0 1 0 4 0-187 3 0 0 2 0 0 0 4 0 1 0 1 0 1 0 1 0 1 0 0 0 0 0 1 0 0 0 1 0 1 0 0 0 1 0 0 0 0 0 1 0 1 0 0 0 1 0 0 0 0 0 2 0 3 0 1 0 0 0 1 0 2 0 1 0 0 0 3 0 0 0 1 0 0 0 0 0 1 0 1 0 0 0 3 0 3 0 1 0 0 0 1 0 6 0 3 0 3 0 1 0 2 0 3 0 0 0 2 0 1 0 0 0 3 0 0 0 6 0 2 0 2 0 1 0 2 0 1 0 4 0 1 0 2 0 2 0 1 0 6 0 4 0 0 0 2 0 1 0 4 0 2 0 0 0 6 0 2 0 3 0 4 0 1 0 2 0 7 0 1 0 7 0 1 0 2 0 6 0 1 0 1 0 3 0 6 0 3 0 7 0 1 0 0 0 1 0 6 0 3 0 6 0 5 0-194 3 2 0 0 0 2 0 0 0 1 0 0 0 1 0 2 0 0 0 2 0 2 0 1 0 0 0 2 0 0 0 1 0 1 0 2 0 5 0 1 0 0 0 1 0 0 0 1 0 1 0 1 0 1 0 2 0 7 0 4 0 0 0 4 0 0 0 4 0 1 0 0 0 0 0 4 0 0 0 1 0 0 0 6 0 3 0 10 0 2 0 1 0 2 0 2 0 1 0 1 0 0 0 7 0 0 0 2 0 1 0 1 0 3 0 1 0 2 0 3 0 1 0 1 0 1 0 1 0 6 0 4 0 3 0 0 0 2 0 1 0 7 0 5 0 0 0 2 0 8 0 2 0 2 0 1 0 0 0 1 0 8 0 6 0 1 0 0 0 4 0 8 0 9 0 1 0 0 0-189 4 1 0 1 0 1 0 0 0 1 0 1 0 1 0 0 0 0 0 1 0 2 0 0 0 3 0 1 0 0 0 0 0 1 0 2 0 1 0 0 0 1 0 1 0 0 0 0 0 1 0 0 0 0 0 1 0 0 0 2 0 1 0 1 0 0 0 2 0 0 0 0 0 7 0 3 0 0 0 1 0 0 0 4 0 1 0 0 0 0 0 3 0 25 0 0 0 0 0 3 0 0 0 3 0 0 0 5 0 1 0 0 0 3 0 0 0 0 0 1 0 4 0 0 0 2 0 0 0 1 0 0 0 2 0 4 0 1 0 1 0 3 0 0 0 0 0 3 0 0 0 1 0 1 0 0 0 3 0 3 0 4 0 1 0 1 0 1 0 3 0 2 0 2 0 3 0 2 0 4 0 1 0 0 0 4 0 6 0 1 0 0 0 0 0 2 0 1 0 4 0 0 0 0 0 5 0 8 0 2 0 1 0 9 0 0 0 2 0-185 3 0 0 1 0 1 0 1 0 2 0 1 0 2 0 0 0 1 0 1 0 0 0 3 0 1 0 1 0 0 0 0 0 2 0 1 0 0 0 0 0 1 0 65 0 3 0 2 0 0 0 1 0 1 0 1 0 11 0 3 0 4 0 3 0 0 0 0 0 1 0 3 0 1 0 0 0 2 0 3 0 0 0 2 0 0 0 1 0 2 0 2 0 1 0 2 0 0 0 3 0 1 0 0 0 3 0 1 0 6 0 6 0 0 0 1 0 1 0 1 0 1 0 0 0 7 0 4 0 1 0 1 0 2 0 0 0 1 0 2 0 0 0 2 0 0 0 3 0 0 0 9 0 6 0 8 0-203 3 0 0 2 0 0 0 2 0 0 0 1 0 1 0 0 0 1 0 0 0 1 0 0 0 1 0 2 0 0 0 0 0 1 0 0 0 1 0 0 0 1 0 71 0 0 0 1 0 1 0 5 0 1 0 0 0 5 0 1 0 3 0 1 0 1 0 0 0 0 0 2 0 0 0 1 0 5 0 7 0 0 0 1 0 1 0 5 0 1 0 4 0 2 0 1 0 4 0 0 0 2 0 2 0 5 0 0 0 2 0 6 0 2 0 0 0 3 0 0 0 1 0 2 0 1 0 4 0 1 0 5 0 2 0 3 0 1 0 1 0 9 0 3 0-194 3 2 0 0 0 1 0 1 0 1 0 1 0 1 0 0 0 1 0 1 0 0 0 1 0 84 0 0 0 5 0 0 0 3 0 0 0 3 0 0 0 5 0 1 0 0 0 2 0 2 0 10 0 1 0 0 0 2 0 2 0 0 0 1 0 7 0 0 0 8 0 0 0 1 0 1 0 3 0 1 0 1 0 1 0 2 0 0 0 1 0 5 0 0 0 2 0 2 0 2 0 3 0 0 0 2 0 1 0 8 0 0 0 6 0 3 0 4 0-195 3 0 0 1 0 0 0 1 0 1 0 0 0 1 0 0 0 1 0 1 0 2 0 1 0 1 0 1 0 88 0 8 0 1 0 4 0 9 0 0 0 7 0 3 0 2 0 1 0 1 0 1 0 1 0 1 0 1 0 3 0 0 0 1 0 0 0 0 0 1 0 2 0 0 0 3 0 1 0 0 0 3 0 6 0 4 0 2 0 1 0 3 0 4 0 8 0 1 0 1 0 0 0 0 0 5 0 1 0 1 0 3 0 1 0 1 0 1 0 7 0-203 3 0 0 1 0 1 0 0 0 3 0 1 0 1 0 0 0 1 0 1 0 0 0 122 0 8 0 0 0 1 0 15 0 1 0 1 0 0 0 4 0 1 0 8 0 0 0 1 0 1 0 5 0 0 0 1 0 0 0 9 0 4 0 1 0 5 0 2 0 2 0-201 3 0 0 1 0 0 0 0 0 1 0 1 0 0 0 0 0 1 0 0 0 0 0 1 0 0 0 1 0 0 0 1 0 0 0 3 0 1 0 247 0 2 0 0 0 1 0 4 0 2 0 3 0 3 0 4 0 5 0 5 0 4 0 4 0 3 0 3 0"/>
<path class="r" clip-path="url(#c03)" d="M1391.5 142.5l75 56-3 4-65 15 4 3 72 4-88 6 32 0 45 9-30 3 10 0 5 7-67 12 65 0-80 3 29 3 81 0-96 4 17 0 47 0 18 0-13 3 49 0 5 0-80 3-61 12 51 0 35 0 15 7-74 6 20 0 4 0 26 0 15 0 28 0-116 3 24 0 37 0 2 0 19 0 11 3 1 0-82 3 33 0 2 0 26 0-30 4 1 0 3 0 14 0 23 0 31 0 2 0-107 3 58 0 15 0-69 3 8 0 72 0 17 0 15 0 4 0-116 3 20 0 59 0-88 3 18 0 8 0 1 0 104 0-130 3 22 0 1 0 32 0 17 0 54 0-135 3 14 0 12 0 14 0 6 0 38 0 15 0 1 0 3 0-91 3 2 0 4 0 1 0 10 0 3 0 9 0 5 0 10 0 80 0-130 4 18 0 4 0 5 0 0 0 2 0 5 0 5 0 0 0 3 0 53 0-97 3 7 0 9 0 5 0 4 0 0 0 1 0 0 0 5 0 1 0 6 0 1 0 1 0 0 0 19 0 8 0 13 0 7 0-88 3 8 0 3 0 2 0 0 0 2 0 2 0 4 0 22 0 1 0 2 0 53 0 10 0-113 3 5 0 3 0 4 0 0 0 0 0 3 0 3 0 3 0 1 0 5 0 1 0 2 0 1 0 1 0 2 0 0 0 2 0 4 0 4 0 1 0 7 0 2 0 5 0 1 0 5 0 4 0 3 0 4 0 1 0 38 0-118 3 1 0 6 0 6 0 3 0 4 0 1 0 4 0 4 0 5 0 0 0 11 0 3 0 9 0 4 0 0 0 2 0 1 0 0 0 4 0 9 0 2 0 2 0 11 0 20 0 2 0 26 0-139 3 3 0 1 0 16 0 2 0 1 0 10 0 2 0 2 0 4 0 2 0 9 0 2 0 6 0 6 0 0 0 1 0 8 0 7 0 1 0 7 0 0 0 5 0 8 0 12 0 14 0 1 0 6 0 2 0-141 3 1 0 8 0 5 0 1 0 1 0 0 0 6 0 2 0 6 0 5 0 1 0 5 0 2 0 1 0 0 0 1 0 0 0 0 0 13 0 0 0 3 0 1 0 6 0 0 0 14 0 2 0 17 0 13 0 34 0 12 0-158 4 3 0 0 0 0 0 6 0 10 0 4 0 4 0 1 0 7 0 6 0 0 0 3 0 1 0 3 0 0 0 4 0 2 0 2 0 6 0 2 0 1 0 3 0 7 0 4 0 2 0 1 0 5 0 1 0 10 0 6 0 1 0 12 0-125 3 5 0 1 0 4 0 3 0 0 0 6 0 0 0 3 0 0 0 0 0 5 0 1 0 8 0 1 0 0 0 0 0 5 0 4 0 0 0 2 0 4 0 6 0 6 0 5 0 7 0 2 0 3 0 0 0 2 0 5 0 4 0 6 0 0 0 0 0 1 0 3 0 0 0 16 0 1 0 11 0-127 3 1 0 0 0 0 0 1 0 2 0 1 0 0 0 1 0 3 0 1 0 1 0 3 0 1 0 1 0 1 0 4 0 3 0 3 0 0 0 2 0 1 0 0 0 3 0 0 0 0 0 1 0 2 0 0 0 4 0 3 0 1 0 6 0 1 0 0 0 0 0 3 0 6 0 2 0 1 0 2 0 10 0 2 0 7 0 28 0 4 0 2 0 14 0 2 0-149 3 3 0 11 0 3 0 3 0 0 0 3 0 1 0 2 0 3 0 2 0 1 0 0 0 3 0 0 0 0 0 2 0 3 0 2 0 2 0 6 0 2 0 1 0 2 0 2 0 1 0 8 0 1 0 6 0 2 0 0 0 0 0 3 0 5 0 8 0 1 0 1 0 7 0 0 0 9 0 2 0 2 0 3 0 8 0 1 0 0 0 1 0 5 0 10 0 5 0 2 0 9 0 0 0 14 0-177 3 6 0 1 0 2 0 2 0 3 0 4 0 4 0 0 0 0 0 2 0 2 0 0 0 1 0 0 0 1 0 1 0 1 0 0 0 1 0 1 0 3 0 1 0 3 0 1 0 2 0 0 0 4 0 0 0 2 0 2 0 0 0 1 0 0 0 0 0 1 0 1 0 0 0 1 0 1 0 0 0 4 0 7 0 0 0 4 0 1 0 0 0 5 0 7 0 0 0 0 0 2 0 5 0 3 0 3 0 4 0 1 0 3 0 7 0 1 0 4 0 1 0 0 0 3 0 10 0 3 0 3 0 3 0 3 0 1 0 3 0 0 0 1 0 4 0 0 0 1 0 4 0 3 0 7 0 1 0 4 0-163 3 4 0 3 0 0 0 1 0 0 0 0 0 1 0 1 0 0 0 1 0 1 0 1 0 1 0 2 0 1 0 0 0 1 0 0 0 1 0 2 0 0 0 2 0 0 0 1 0 2 0 0 0 1 0 3 0 1 0 2 0 0 0 3 0 2 0 1 0 0 0 0 0 1 0 1 0 1 0 0 0 0 0 1 0 2 0 2 0 1 0 0 0 1 0 1 0 1 0 0 0 1 0 1 0 2 0 1 0 4 0 1 0 2 0 2 0 1 0 6 0 4 0 0 0 2 0 1 0 4 0 2 0 0 0 6 0 2 0 3 0 4 0 1 0 2 0 7 0 1 0 7 0 1 0 2 0 6 0 1 0 1 0 3 0 6 0 3 0 7 0 1 0 0 0 1 0 6 0 3 0 6 0 5 0-169 3 0 0 1 0 0 0 1 0 0 0 1 0 1 0 0 0 1 0 1 0 1 0 2 0 0 0 5 0 0 0 3 0 1 0 0 0 3 0 1 0 0 0 3 0 1 0 0 0 1 0 0 0 0 0 3 0 0 0 1 0 0 0 1 0 1 0 1 0 2 0 2 0 0 0 1 0 2 0 1 0 1 0 3 0 0 0 1 0 3 0 1 0 2 0 1 0 2 0 2 0 1 0 1 0 0 0 7 0 0 0 2 0 1 0 1 0 3 0 1 0 2 0 3 0 1 0 1 0 1 0 1 0 6 0 4 0 3 0 0 0 2 0 1 0 7 0 5 0 0 0 2 0 8 0 2 0 2 0 1 0 0 0 1 0 8 0 6 0 1 0 0 0 4 0 8 0 9 0 1 0 0 0-170 4 0 0 1 0 1 0 1 0 1 0 0 0 1 0 1 0 0 0 2 0 0 0 3 0 0 0 1 0 0 0 0 0 1 0 1 0 1 0 1 0 2 0 0 0 1 0 1 0 3 0 1 0 0 0 0 0 3 0 2 0 1 0 1 0 0 0 0 0 1 0 1 0 0 0 4 0 0 0 1 0 1 0 1 0 0 0 1 0 0 0 1 0 2 0 1 0 0 0 1 0 0 0 3 0 2 0 0 0 1 0 0 0 1 0 0 0 2 0 2 0 0 0 1 0 0 0 0 0 1 0 0 0 4 0 1 0 0 0 3 0 0 0 0 0 1 0 4 0 0 0 2 0 0 0 1 0 0 0 1 0 1 0 4 0 1 0 1 0 3 0 0 0 0 0 3 0 0 0 1 0 1 0 0 0 3 0 3 0 4 0 1 0 1 0 1 0 3 0 2 0 2 0 3 0 2 0 4 0 1 0 0 0 4 0 6 0 1 0 0 0 0 0 2 0 1 0 4 0 0 0 0 0 5 0 8 0 2 0 1 0 9 0 0 0 2 0-168 3 1 0 0 0 0 0 1 0 2 0 0 0 1 0 4 0 1 0 1 0 1 0 1 0 0 0 1 0 0 0 1 0 1 0 1 0 2 0 0 0 1 0 1 0 1 0 0 0 1 0 0 0 1 0 0 0 1 0 1 0 0 0 1 0 0 0 0 0 1 0 1 0 0 0 1 0 3 0 1 0 1 0 0 0 1 0 1 0 1 0 1 0 2 0 1 0 0 0 1 0 1 0 2 0 2 0 1 0 0 0 1 0 0 0 1 0 0 0 1 0 1 0 1 0 0 0 1 0 1 0 3 0 1 0 1 0 1 0 0 0 2 0 3 0 3 0 1 0 1 0 0 0 1 0 0 0 1 0 1 0 3 0 8 0 3 0 4 0 3 0 0 0 0 0 1 0 3 0 1 0 0 0 2 0 3 0 0 0 2 0 0 0 1 0 2 0 2 0 1 0 2 0 0 0 3 0 1 0 0 0 3 0 1 0 6 0 6 0 0 0 1 0 1 0 1 0 1 0 0 0 7 0 4 0 1 0 1 0 2 0 0 0 1 0 2 0 0 0 2 0 0 0 3 0 0 0 9 0 6 0 8 0-192 3 0 0 2 0 1 0 3 0 3 0 0 0 1 0 0 0 1 0 0 0 1 0 0 0 2 0 1 0 1 0 1 0 1 0 2 0 2 0 1 0 0 0 0 0 1 0 1 0 0 0 2 0 1 0 0 0 1 0 1 0 0 0 1 0 2 0 2 0 1 0 2 0 2 0 0 0 1 0 1 0 1 0 0 0 1 0 1 0 0 0 0 0 1 0 0 0 2 0 2 0 2 0 3 0 1 0 1 0 0 0 1 0 0 0 2 0 1 0 0 0 1 0 2 0 2 0 1 0 1 0 0 0 1 0 1 0 0 0 1 0 0 0 3 0 1 0 1 0 4 0 1 0 1 0 0 0 2 0 1 0 2 0 1 0 3 0 1 0 1 0 0 0 1 0 1 0 0 0 1 0 5 0 7 0 0 0 1 0 0 0 1 0 1 0 4 0 0 0 1 0 0 0 4 0 2 0 1 0 4 0 0 0 2 0 2 0 5 0 0 0 2 0 2 0 3 0 1 0 1 0 1 0 0 0 3 0 0 0 1 0 2 0 1 0 4 0 1 0 5 0 2 0 3 0 1 0 1 0 9 0 3 0-181 3 0 0 1 0 0 0 1 0 1 0 0 0 0 0 1 0 0 0 2 0 0 0 1 0 1 0 1 0 0 0 0 0 1 0 1 0 0 0 2 0 1 0 1 0 2 0 2 0 1 0 1 0 1 0 1 0 0 0 3 0 1 0 1 0 2 0 1 0 0 0 1 0 1 0 0 0 2 0 0 0 1 0 0 0 2 0 0 0 2 0 0 0 1 0 0 0 1 0 1 0 0 0 1 0 1 0 1 0 1 0 2 0 0 0 1 0 1 0 2 0 2 0 0 0 1 0 0 0 2 0 1 0 0 0 0 0 1 0 1 0 0 0 1 0 0 0 1 0 1 0 0 0 1 0 0 0 1 0 1 0 1 0 0 0 0 0 4 0 1 0 1 0 1 0 1 0 1 0 2 0 0 0 1 0 1 0 0 0 2 0 1 0 2 0 0 0 2 0 0 0 1 0 2 0 0 0 1 0 0 0 3 0 0 0 1 0 0 0 1 0 1 0 0 0 2 0 2 0 2 0 2 0 2 0 1 0 1 0 1 0 1 0 1 0 0 0 0 0 1 0 1 0 2 0 0 0 1 0 7 0 0 0 8 0 0 0 1 0 1 0 2 0 1 0 1 0 1 0 1 0 0 0 2 0 0 0 1 0 5 0 0 0 2 0 2 0 2 0 1 0 2 0 0 0 2 0 1 0 8 0 0 0 6 0 3 0 4 0-186 3 2 0 2 0 1 0 0 0 1 0 0 0 0 0 1 0 1 0 0 0 1 0 0 0 1 0 1 0 1 0 1 0 1 0 1 0 0 0 1 0 0 0 1 0 0 0 2 0 0 0 1 0 0 0 0 0 1 0 1 0 0 0 1 0 0 0 1 0 0 0 0 0 2 0 0 0 0 0 2 0 1 0 1 0 0 0 1 0 1 0 1 0 2 0 1 0 2 0 2 0 1 0 1 0 1 0 1 0 0 0 1 0 1 0 2 0 1 0 1 0 1 0 2 0 1 0 2 0 1 0 1 0 1 0 0 0 1 0 1 0 3 0 0 0 3 0 1 0 1 0 0 0 1 0 0 0 0 0 1 0 1 0 2 0 1 0 1 0 1 0 0 0 2 0 0 0 1 0 1 0 1 0 1 0 1 0 0 0 0 0 3 0 0 0 1 0 0 0 1 0 1 0 0 0 1 0 0 0 1 0 0 0 1 0 1 0 5 0 0 0 1 0 1 0 1 0 0 0 2 0 0 0 2 0 0 0 1 0 1 0 0 0 1 0 0 0 2 0 1 0 0 0 0 0 2 0 1 0 1 0 2 0 1 0 0 0 1 0 2 0 2 0 1 0 1 0 1 0 1 0 1 0 1 0 3 0 0 0 1 0 0 0 1 0 2 0 0 0 3 0 1 0 0 0 0 0 3 0 6 0 4 0 2 0 1 0 1 0 2 0 4 0 8 0 1 0 1 0 0 0 0 0 5 0 1 0 1 0 3 0 1 0 1 0 1 0 7 0-196 3 2 0 0 0 0 0 2 0 0 0 1 0 2 0 4 0 1 0 1 0 1 0 0 0 2 0 0 0 1 0 0 0 0 0 1 0 0 0 4 0 1 0 0 0 1 0 0 0 1 0 1 0 1 0 1 0 1 0 1 0 1 0 0 0 1 0 0 0 1 0 3 0 2 0 0 0 1 0 1 0 0 0 1 0 1 0 0 0 1 0 0 0 1 0 1 0 0 0 1 0 0 0 0 0 1 0 1 0 0 0 1 0 1 0 1 0 1 0 0 0 1 0 0 0 1 0 0 0 1 0 0 0 1 0 1 0 0 0 1 0 1 0 1 0 2 0 0 0 1 0 1 0 1 0 2 0 1 0 1 0 1 0 1 0 5 0 0 0 1 0 0 0 1 0 0 0 1 0 0 0 1 0 1 0 1 0 1 0 0 0 1 0 1 0 1 0 1 0 1 0 2 0 0 0 1 0 1 0 1 0 1 0 0 0 1 0 2 0 0 0 0 0 1 0 1 0 1 0 1 0 0 0 1 0 1 0 1 0 2 0 1 0 1 0 0 0 1 0 0 0 1 0 0 0 1 0 0 0 1 0 0 0 1 0 0 0 1 0 1 0 0 0 1 0 0 0 1 0 1 0 0 0 1 0 3 0 0 0 1 0 0 0 1 0 1 0 0 0 0 0 1 0 0 0 1 0 0 0 1 0 3 0 0 0 1 0 0 0 1 0 0 0 3 0 0 0 1 0 2 0 1 0 0 0 1 0 2 0 0 0 1 0 4 0 0 0 1 0 1 0 0 0 3 0 1 0 1 0 3 0 0 0 0 0 2 0 2 0 1 0 0 0 1 0 1 0 5 0 0 0 1 0 0 0 2 0 4 0 3 0 4 0 1 0 1 0 0 0 2 0 2 0 2 0 2 0-196 3 1 0 1 0 1 0 0 0 1 0 0 0 0 0 1 0 0 0 1 0 0 0 0 0 1 0 0 0 0 0 1 0 0 0 0 0 1 0 0 0 0 0 1 0 0 0 0 0 1 0 0 0 1 0 0 0 1 0 0 0 1 0 0 0 0 0 1 0 1 0 0 0 1 0 0 0 1 0 0 0 0 0 1 0 0 0 1 0 0 0 0 0 1 0 0 0 2 0 0 0 1 0 0 0 1 0 0 0 1 0 0 0 1 0 1 0 1 0 0 0 1 0 1 0 1 0 0 0 1 0 0 0 0 0 1 0 0 0 0 0 1 0 0 0 1 0 0 0 1 0 0 0 1 0 0 0 1 0 1 0 0 0 1 0 1 0 1 0 1 0 0 0 1 0 1 0 0 0 0 0 1 0 0 0 2 0 1 0 0 0 0 0 1 0 0 0 1 0 0 0 1 0 1 0 0 0 1 0 1 0 2 0 0 0 1 0 0 0 0 0 1 0 0 0 1 0 2 0 0 0 1 0 0 0 0 0 1 0 0 0 1 0 0 0 1 0 1 0 0 0 1 0 1 0 0 0 1 0 0 0 0 0 1 0 0 0 1 0 0 0 1 0 0 0 1 0 0 0 1 0 0 0 1 0 0 0 1 0 0 0 1 0 0 0 0 0 1 0 0 0 1 0 0 0 1 0 0 0 0 0 1 0 1 0 0 0 1 0 0 0 1 0 1 0 1 0 0 0 1 0 0 0 1 0 1 0 1 0 1 0 1 0 0 0 1 0 0 0 1 0 1 0 0 0 1 0 0 0 1 0 1 0 1 0 0 0 1 0 0 0 1 0 0 0 1 0 0 0 0 0 1 0 0 0 0 0 1 0 1 0 1 0 0 0 2 0 1 0 1 0 1 0 1 0 1 0 1 0 0 0 1 0 1 0 0 0 1 0 0 0 1 0 0 0 0 0 1 0 1 0 1 0 0 0 2 0 0 0 1 0 1 0 0 0 0 0 1 0 1 0 0 0 1 0 1 0 1 0 0 0 1 0 0 0 0 0 1 0 0 0 0 0 1 0 0 0 1 0 0 0 0 0 1 0 0 0 1 0 0 0 1 0 1 0 0 0 1 0 0 0 0 0 1 0 0 0 0 0 1 0 0 0 0 0 1 0 0 0 0 0 1 0 0 0 1 0 0 0 0 0 1 0 0 0 1 0 1 0 0 0 1 0 0 0 0 0 1 0 0 0 0 0 1 0 0 0 1 0 0 0 0 0 1 0 1 0 0 0 1 0 0 0 0 0 1 0 1 0 0 0 1 0 0 0 0 0 1 0 0 0 0 0 1 0 0 0 1 0 0 0 1 0 1 0 0 0 1 0 0 0 1 0 0 0 0 0 1 0 0 0 1 0 0 0 1 0 0 0 1 0 0 0 0 0 1 0 0 0 0 0 1 0 0 0 1 0 0 0 0 0 1 0 0 0 0 0 1 0 0 0 1 0 0 0 1 0 0 0 0 0 1 0 0 0 1 0 0 0 0 0 1 0 0 0 0 0 1 0 0 0 0 0 1 0 0 0 1 0 0 0 0 0 1 0 0 0 0 0 1 0 0 0 0 0 1 0 0 0 0 0 1 0 0 0 0 0 1 0 0 0 0 0 1 0 0 0 0 0 1 0 0 0 2 0 0 0 0 0 1 0 0 0 0 0 1 0 0 0 0 0 1 0 0 0 0 0 1 0 0 0 0 0 1 0 0 0 1 0 0 0 0 0 1 0 0 0 0 0 1 0 0 0 0 0 1 0 0 0 0 0 1 0 0 0 0 0 1 0 0 0 0 0 1 0 0 0 0 0 1 0 0 0 0 0 1 0 0 0 0 0 1 0 0 0 0 0 1 0 0 0 0 0 1 0 0 0 0 0 1 0 0 0 0 0 1 0 0 0 0 0 1 0 0 0 0 0 1 0 0 0 0 0 1 0 0 0 0 0 1 0 0 0 0 0 1 0 0 0 0 0 1 0 0 0 0 0 1 0 0 0 0 0 1 0 0 0 0 0 1 0 0 0 0 0 1 0 0 0 0 0 1 0 0 0 0 0 1 0 0 0 0 0 1 0 0 0 0 0 1 0 0 0 0 0 1 0 0 0 0 0 1 0 0 0 0 0 1 0 0 0 0 0 1 0 0 0 0 0 1 0 0 0 0 0 1 0 0 0 0 0 1 0 0 0 0 0 1 0 0 0 0 0 1 0 0 0 0 0 1 0 0 0 0 0 1 0 0 0 0 0 1 0 0 0 0 0 1 0 0 0 0 0 1 0 0 0 0 0 1 0 0 0 0 0 1 0 0 0 0 0 1 0 0 0 0 0 1 0 0 0 0 0 1 0 0 0 0 0 1 0 0 0 0 0 1 0 0 0 0 0 1 0 0 0 0 0 1 0 0 0 0 0 1 0 0 0 0 0 1 0 0 0 0 0 1 0 0 0 0 0 1 0 0 0 0 0 1 0 0 0 0 0 1 0 0 0 0 0 1 0 0 0 0 0 1 0 4 0 2 0 3 0 3 0 4 0 5 0 5 0 4 0 4 0 3 0 3 0"/>
<path class="tk" d="M1317.5 402.5v-5.5M1317.5 120.5v5.5M1360.5 402.5v-5.5M1360.5 120.5v5.5M1403.5 402.5v-5.5M1403.5 120.5v5.5M1447.5 402.5v-5.5M1447.5 120.5v5.5M1490.5 402.5v-5.5M1490.5 120.5v5.5M1533.5 402.5v-5.5M1533.5 120.5v5.5M1577.5 402.5v-5.5M1577.5 120.5v5.5M1620.5 402.5v-5.5M1620.5 120.5v5.5M1317.5 402.5h5.5M1620.5 402.5h-5.5M1317.5 371.5h5.5M1620.5 371.5h-5.5M1317.5 340.5h5.5M1620.5 340.5h-5.5M1317.5 308.5h5.5M1620.5 308.5h-5.5M1317.5 277.5h5.5M1620.5 277.5h-5.5M1317.5 245.5h5.5M1620.5 245.5h-5.5M1317.5 214.5h5.5M1620.5 214.5h-5.5M1317.5 183.5h5.5M1620.5 183.5h-5.5M1317.5 151.5h5.5M1620.5 151.5h-5.5M1317.5 120.5h5.5M1620.5 120.5h-5.5"/>
<rect class="ax" x="1317.5" y="120.5" width="303" height="282"/>
<text class="t" x="1317.1" y="420.6" text-anchor="middle">0</text>
<text class="t" x="1360.5" y="420.6" text-anchor="middle">10</text>
<text class="t" x="1403.8" y="420.6" text-anchor="middle">20</text>
<text class="t" x="1447.1" y="420.6" text-anchor="middle">30</text>
<text class="t" x="1490.4" y="420.6" text-anchor="middle">40</text>
<text class="t" x="1533.8" y="420.6" text-anchor="middle">50</text>
<text class="t" x="1577.1" y="420.6" text-anchor="middle">60</text>
<text class="t" x="1620.4" y="420.6" text-anchor="middle">70</text>
<text class="t" x="1312.3" y="407.7" text-anchor="end">0</text>
<text class="t" x="1312.3" y="376.3" text-anchor="end">10</text>
<text class="t" x="1312.3" y="344.9" text-anchor="end">20</text>
<text class="t" x="1312.3" y="313.5" text-anchor="end">30</text>
<text class="t" x="1312.3" y="282.2" text-anchor="end">40</text>
<text class="t" x="1312.3" y="250.8" text-anchor="end">50</text>
<text class="t" x="1312.3" y="219.4" text-anchor="end">60</text>
<text class="t" x="1312.3" y="188" text-anchor="end">70</text>
<text class="t" x="1312.3" y="156.7" text-anchor="end">80</text>
<text class="t" x="1312.3" y="125.3" text-anchor="end">90</text>
<text class="tt" x="1468.4" y="112.5" text-anchor="middle">shear</text>
</g>
<g id="ax10">
<path class="b" clip-path="url(#c10)" d="M227.5 481.5l30 25 30 28-61 3 0 3 29 16-22 3-8 3 1 3 1 4 1 3-3 6 21 3 78 0-98 3 0 3 56 10-57 3 93 0 51 0 18 3-50 3-110 3 1 0 100 0-102 4 61 0-60 3 48 0-48 3 32 0-31 3-1 3 2 0 11 0 2 0 73 0-76 3-14 3 13 0 3 0 16 0-32 4 0 0 3 0 16 0-19 3 0 0 0 0 76 0-76 3 0 0 1 0 0 0 20 3 1 0 16 0 31 0 15 0-67 3 33 0 53 0-103 3 0 0 40 0 7 0 22 0-69 3 0 0 0 0 2 0 25 0 6 0 4 0 33 0 18 0 9 0-97 3 0 0 0 0 1 0 1 0 56 0 7 0 5 0 15 0 5 0 3 0 13 0-106 4 1 0 15 0 4 0 21 0 15 0 33 0-88 3 0 0 3 0 2 0 14 0 6 0 61 0 7 0-94 3 3 0 0 0 7 0 2 0 49 0 6 0 24 0-91 3 0 0 0 0 5 0 1 0 1 0 52 0 20 0 1 0 6 0 9 0-95 3 1 0 0 0 0 0 4 0 102 0 8 0-115 3 2 0 2 0 11 0 14 0 11 0 41 0 14 0-95 3 0 0 0 0 1 0 1 0 3 0 1 0 10 0 4 0 1 0 4 0 10 0 11 0 2 0 7 0 5 0 9 0 16 0 13 0 24 0-122 4 1 0 0 0 0 0 1 0 2 0 36 0 13 0 1 0 8 0 0 0 9 0 39 0-110 3 0 0 1 0 2 0 1 0 3 0 3 0 11 0 4 0 11 0 8 0 2 0 12 0 19 0 6 0 37 0 5 0 26 0-151 3 0 0 1 0 0 0 4 0 6 0 7 0 2 0 3 0 13 0 2 0 1 0 2 0 0 0 7 0 9 0 1 0 9 0 9 0 31 0 16 0 7 0 21 0 20 0-171 3 0 0 1 0 1 0 0 0 1 0 1 0 0 0 7 0 0 0 9 0 12 0 6 0 5 0 3 0 7 0 10 0 0 0 2 0 12 0 24 0 3 0 3 0 14 0-121 3 1 0 0 0 0 0 3 0 2 0 2 0 2 0 1 0 6 0 11 0 5 0 0 0 1 0 7 0 6 0 5 0 2 0 1 0 3 0 2 0 6 0 2 0 6 0 2 0 7 0 29 0 17 0 9 0-137 3 1 0 0 0 3 0 2 0 1 0 6 0 1 0 0 0 2 0 6 0 3 0 4 0 9 0 1 0 2 0 1 0 5 0 1 0 5 0 5 0 0 0 8 0 4 0 8 0 1 0 1 0 1 0 2 0 18 0 10 0 18 0 0 0 8 0 7 0 7 0-152 3 0 0 0 0 1 0 0 0 0 0 2 0 2 0 7 0 3 0 5 0 0 0 7 0 0 0 5 0 0 0 2 0 4 0 10 0 1 0 1 0 0 0 8 0 1 0 3 0 3 0 3 0 1 0 1 0 4 0 2 0 5 0 17 0 4 0 0 0 0 0 1 0 7 0 2 0 18 0 25 0 3 0 6 0 3 0 6 0 9 0-182 4 1 0 0 0 1 0 0 0 0 0 11 0 0 0 4 0 3 0 11 0 4 0 2 0 14 0 0 0 2 0 4 0 4 0 0 0 3 0 13 0 3 0 3 0 5 0 0 0 3 0 4 0 4 0 0 0 9 0 16 0 1 0 3 0 16 0 2 0 8 0-154 3 0 0 0 0 1 0 0 0 1 0 2 0 14 0 5 0 1 0 3 0 6 0 1 0 0 0 4 0 3 0 6 0 2 0 0 0 1 0 0 0 1 0 0 0 9 0 7 0 2 0 5 0 2 0 3 0 1 0 2 0 5 0 1 0 5 0 2 0 0 0 10 0 1 0 4 0 13 0 1 0 0 0 11 0 4 0 31 0 4 0-174 3 1 0 1 0 0 0 9 0 2 0 1 0 3 0 3 0 5 0 7 0 0 0 2 0 5 0 5 0 6 0 10 0 4 0 1 0 2 0 2 0 2 0 6 0 4 0 1 0 1 0 2 0 1 0 14 0 3 0 6 0 2 0 4 0 1 0 5 0 10 0 4 0 2 0 6 0 19 0 3 0 4 0 0 0 11 0-180 3 1 0 0 0 1 0 1 0 0 0 0 0 3 0 18 0 2 0 3 0 0 0 1 0 1 0 1 0 2 0 0 0 5 0 5 0 1 0 4 0 1 0 8 0 0 0 1 0 4 0 4 0 1 0 0 0 0 0 1 0 4 0 3 0 0 0 1 0 9 0 4 0 0 0 10 0 0 0 0 0 2 0 0 0 1 0 2 0 1 0 8 0 0 0 1 0 5 0 4 0 0 0 6 0 1 0 13 0 0 0 1 0 6 0 6 0 11 0 3 0 1 0-172 3 0 0 1 0 1 0 0 0 1 0 0 0 3 0 3 0 0 0 5 0 0 0 0 0 4 0 0 0 2 0 0 0 3 0 1 0 1 0 2 0 3 0 1 0 0 0 1 0 0 0 3 0 0 0 1 0 1 0 1 0 1 0 0 0 2 0 5 0 1 0 3 0 2 0 2 0 5 0 3 0 4 0 1 0 6 0 6 0 1 0 7 0 2 0 4 0 0 0 2 0 4 0 6 0 6 0 0 0 14 0 0 0 8 0 1 0 3 0 4 0 3 0 1 0 3 0 5 0 3 0 1 0 4 0 1 0 14 0 0 0-176 3 0 0 0 0 1 0 0 0 2 0 0 0 1 0 1 0 1 0 1 0 5 0 0 0 1 0 3 0 2 0 2 0 2 0 4 0 1 0 1 0 2 0 0 0 2 0 2 0 1 0 3 0 1 0 2 0 2 0 2 0 0 0 1 0 4 0 1 0 1 0 2 0 2 0 1 0 1 0 1 0 1 0 2 0 3 0 0 0 0 0 5 0 0 0 1 0 0 0 3 0 4 0 1 0 6 0 0 0 12 0 2 0 9 0 1 0 4 0 3 0 27 0 7 0 4 0 2 0 1 0 9 0 3 0 3 0 5 0 2 0 1 0 1 0 2 0 2 0-185 3 0 0 0 0 1 0 0 0 1 0 2 0 3 0 5 0 2 0 1 0 1 0 2 0 0 0 3 0 0 0 3 0 0 0 2 0 0 0 0 0 1 0 1 0 0 0 3 0 0 0 3 0 1 0 3 0 2 0 1 0 0 0 3 0 0 0 1 0 1 0 0 0 2 0 2 0 10 0 0 0 0 0 1 0 1 0 1 0 0 0 2 0 1 0 2 0 0 0 1 0 0 0 4 0 0 0 6 0 5 0 3 0 2 0 1 0 0 0 1 0 0 0 2 0 2 0 5 0 2 0 3 0 2 0 4 0 4 0 4 0 3 0 2 0 3 0 5 0 1 0 5 0 3 0 1 0 1 0 2 0 6 0 9 0 1 0 0 0 2 0 1 0 1 0 2 0 16 0 0 0 72 0-255 3 0 0 1 0 0 0 1 0 0 0 1 0 1 0 2 0 1 0 1 0 0 0 0 0 1 0 1 0 0 0 3 0 0 0 2 0 0 0 0 0 1 0 2 0 0 0 1 0 3 0 1 0 1 0 2 0 3 0 1 0 1 0 3 0 1 0 2 0 1 0 1 0 1 0 2 0 4 0 1 0 0 0 4 0 13 0 1 0 3 0 1 0 3 0 1 0 1 0 0 0 2 0 1 0 0 0 1 0 0 0 1 0 0 0 1 0 2 0 1 0 2 0 0 0 2 0 1 0 1 0 7 0 13 0 0 0 3 0 3 0 3 0 1 0 0 0 1 0 1 0 5 0 1 0 1 0 1 0 2 0 1 0 4 0 3 0 1 0 2 0 7 0 1 0 0 0 12 0 6 0 9 0 4 0 2 0 0 0 1 0 9 0-193 4 1 0 1 0 1 0 0 0 1 0 1 0 0 0 1 0 1 0 0 0 1 0 3 0 0 0 0 0 1 0 1 0 0 0 2 0 1 0 0 0 2 0 1 0 1 0 1 0 0 0 9 0 0 0 4 0 0 0 0 0 17 0 0 0 18 0 1 0 0 0 0 0 1 0 0 0 3 0 4 0 1 0 3 0 0 0 0 0 8 0 2 0 5 0 4 0 1 0 2 0 0 0 1 0 0 0 3 0 10 0 2 0 3 0 0 0 1 0 1 0 0 0 7 0 3 0 6 0 1 0 6 0 1 0 1 0 1 0 3 0 3 0 4 0 11 0 5 0 3 0 0 0 4 0 1 0 1 0 1 0 1 0 5 0 1 0 1 0 28 0 32 0-255 3 0 0 1 0 0 0 0 0 1 0 1 0 2 0 1 0 0 0 1 0 2 0 1 0 0 0 0 0 2 0 0 0 1 0 1 0 0 0 60 0 6 0 0 0 0 0 10 0 0 0 4 0 2 0 0 0 0 0 1 0 0 0 2 0 1 0 2 0 0 0 1 0 2 0 0 0 0 0 1 0 4 0 2 0 1 0 1 0 1 0 6 0 5 0 0 0 1 0 1 0 4 0 5 0 1 0 1 0 0 0 5 0 0 0 2 0 4 0 2 0 1 0 3 0 0 0 1 0 12 0 6 0 2 0 2 0 5 0 2 0 6 0 2 0 1 0 2 0 0 0 1 0 6 0 11 0 1 0 23 0 16 0-153 3 0 0 4 0 0 0 4 0 1 0 2 0 4 0 1 0 0 0 1 0 0 0 3 0 0 0 1 0 1 0 2 0 1 0 7 0 2 0 1 0 4 0 3 0 3 0 2 0 1 0 3 0 4 0 1 0 1 0 2 0 9 0 8 0 8 0 14 0 2 0 2 0 27 0 11 0 13 0-147 3 4 0 0 0 1 0 9 0 7 0 0 0 1 0 1 0 4 0 1 0 0 0 3 0 2 0 3 0 1 0 0 0 0 0 6 0 0 0 3 0 3 0 0 0 1 0 4 0 1 0 0 0 0 0 1 0 1 0 2 0 1 0 1 0 3 0 1 0 1 0 0 0 4 0 1 0 1 0 1 0 0 0 5 0 2 0 4 0 1 0 5 0 1 0 3 0 1 0 6 0 1 0 3 0 1 0 5 0 1 0 5 0 1 0 1 0 1 0 2 0 0 0 14 0 4 0 3 0 7 0-19 3 2 0 1 0 0 0 0 0 9 0 1 0 4 0 0 0 1 0 0 0 2 0 1 0 1 0 1 0 0 0 1 0 2 0 0 0 2 0"/>
<path class="r" clip-path="url(#c10)" d="M287.5 534.5l-32 22 69 25-6 19 51 0 18 3-50 3-9 3-41 4-12 3 40 9-58 6 44 7-38 6 46 0-34 3 53 0-56 3 22 0 1 3 27 0-39 3 7 0 5 0 15 0 5 0 3 0 13 0-65 4 15 0 33 0-83 3 81 0 7 0-27 3 24 0-12 3 1 0 6 0 9 0 12 3 8 0-113 3 13 0 14 0 11 0 41 0-46 3 11 0 2 0 7 0 5 0 9 0 16 0 13 0 24 0-69 4 1 0 8 0 9 0 39 0-89 3 4 0 11 0 8 0 2 0 12 0 19 0 6 0 37 0 5 0 26 0-133 3 2 0 16 0 2 0 1 0 2 0 26 0 9 0 31 0 16 0 7 0 21 0 20 0-128 3 3 0 7 0 10 0 0 0 14 0 24 0 3 0 3 0 14 0-93 3 6 0 13 0 5 0 2 0 1 0 3 0 2 0 6 0 2 0 6 0 2 0 7 0 29 0 17 0 9 0-112 3 13 0 1 0 2 0 12 0 5 0 0 0 8 0 4 0 8 0 2 0 1 0 2 0 18 0 10 0 18 0 0 0 8 0 7 0-133 3 8 0 0 0 7 0 0 0 5 0 0 0 16 0 1 0 1 0 0 0 9 0 3 0 3 0 3 0 2 0 4 0 2 0 5 0 17 0 4 0 0 0 8 0 2 0 18 0 25 0 3 0 6 0 3 0 6 0 9 0-169 4 22 0 2 0 16 0 4 0 7 0 13 0 3 0 8 0 0 0 3 0 4 0 4 0 0 0 9 0 16 0 1 0 3 0 16 0 2 0 8 0-121 3 1 0 4 0 3 0 8 0 0 0 1 0 0 0 1 0 0 0 9 0 7 0 2 0 5 0 2 0 3 0 1 0 2 0 5 0 1 0 5 0 2 0 0 0 10 0 1 0 4 0 13 0 1 0 0 0 11 0 4 0 31 0 4 0-161 3 7 0 12 0 12 0 6 0 14 0 1 0 2 0 2 0 8 0 5 0 1 0 2 0 1 0 14 0 3 0 6 0 2 0 4 0 1 0 5 0 10 0 4 0 2 0 6 0 19 0 3 0 4 0 0 0 11 0-154 3 3 0 0 0 2 0 1 0 2 0 0 0 5 0 5 0 1 0 4 0 1 0 8 0 0 0 1 0 4 0 4 0 1 0 0 0 1 0 4 0 3 0 0 0 1 0 9 0 4 0 0 0 10 0 0 0 0 0 2 0 0 0 1 0 2 0 1 0 8 0 0 0 1 0 5 0 4 0 0 0 6 0 1 0 13 0 0 0 1 0 6 0 6 0 11 0 3 0 1 0-163 3 9 0 2 0 4 0 1 0 5 0 1 0 0 0 4 0 0 0 2 0 1 0 3 0 5 0 4 0 4 0 5 0 3 0 4 0 1 0 6 0 6 0 1 0 7 0 2 0 4 0 0 0 2 0 4 0 6 0 6 0 0 0 14 0 0 0 8 0 1 0 3 0 4 0 3 0 1 0 3 0 5 0 3 0 1 0 4 0 1 0 14 0 0 0-163 3 7 0 2 0 4 0 1 0 3 0 0 0 2 0 3 0 3 0 1 0 2 0 4 0 5 0 1 0 1 0 3 0 1 0 1 0 1 0 1 0 1 0 2 0 3 0 0 0 4 0 1 0 0 0 1 0 0 0 3 0 4 0 1 0 6 0 0 0 12 0 2 0 9 0 1 0 4 0 3 0 27 0 7 0 4 0 2 0 1 0 9 0 3 0 3 0 5 0 2 0 1 0 1 0 2 0 2 0-171 3 1 0 3 0 3 0 5 0 0 0 1 0 1 0 0 0 3 0 3 0 1 0 3 0 3 0 3 0 1 0 1 0 0 0 2 0 0 0 1 0 1 0 0 0 1 0 0 0 0 0 1 0 0 0 1 0 2 0 2 0 1 0 2 0 0 0 1 0 1 0 1 0 0 0 2 0 1 0 2 0 0 0 1 0 0 0 4 0 0 0 6 0 0 0 5 0 3 0 2 0 1 0 0 0 1 0 0 0 2 0 2 0 5 0 2 0 3 0 2 0 4 0 4 0 4 0 3 0 2 0 3 0 5 0 1 0 5 0 3 0 2 0 2 0 6 0 9 0 1 0 0 0 2 0 1 0 1 0 2 0 16 0 0 0 72 0-253 3 5 0 9 0 2 0 5 0 1 0 2 0 0 0 0 0 1 0 1 0 1 0 1 0 1 0 0 0 2 0 1 0 1 0 3 0 1 0 1 0 4 0 1 0 0 0 1 0 0 0 1 0 1 0 0 0 3 0 1 0 3 0 1 0 1 0 0 0 1 0 0 0 1 0 0 0 1 0 1 0 1 0 0 0 3 0 0 0 1 0 6 0 1 0 1 0 0 0 2 0 1 0 0 0 1 0 0 0 1 0 0 0 1 0 2 0 1 0 2 0 0 0 2 0 1 0 1 0 7 0 13 0 0 0 3 0 3 0 3 0 1 0 0 0 1 0 1 0 5 0 1 0 1 0 1 0 2 0 1 0 4 0 3 0 1 0 2 0 7 0 1 0 0 0 12 0 6 0 9 0 4 0 2 0 0 0 1 0 9 0-190 4 0 0 0 0 2 0 2 0 0 0 1 0 7 0 0 0 2 0 1 0 1 0 1 0 1 0 0 0 2 0 0 0 1 0 1 0 0 0 1 0 1 0 2 0 1 0 0 0 1 0 2 0 1 0 1 0 0 0 1 0 1 0 0 0 1 0 0 0 0 0 1 0 0 0 1 0 0 0 0 0 1 0 2 0 1 0 0 0 1 0 1 0 1 0 0 0 1 0 2 0 1 0 1 0 0 0 0 0 1 0 0 0 1 0 0 0 0 0 2 0 1 0 0 0 2 0 0 0 1 0 2 0 1 0 0 0 0 0 1 0 0 0 1 0 1 0 2 0 0 0 1 0 1 0 1 0 0 0 1 0 2 0 3 0 0 0 1 0 1 0 3 0 0 0 1 0 0 0 1 0 1 0 0 0 2 0 0 0 1 0 0 0 2 0 0 0 0 0 2 0 5 0 4 0 1 0 2 0 0 0 1 0 0 0 3 0 10 0 2 0 3 0 0 0 1 0 1 0 0 0 7 0 9 0 1 0 6 0 1 0 1 0 1 0 3 0 3 0 4 0 11 0 5 0 3 0 0 0 4 0 1 0 1 0 1 0 1 0 5 0 1 0 1 0 28 0 32 0-253 3 0 0 1 0 7 0 2 0 1 0 0 0 1 0 0 0 3 0 2 0 0 0 1 0 1 0 1 0 0 0 1 0 0 0 1 0 1 0 0 0 1 0 0 0 2 0 0 0 1 0 1 0 1 0 1 0 0 0 1 0 0 0 0 0 1 0 1 0 0 0 1 0 1 0 0 0 2 0 0 0 0 0 1 0 0 0 2 0 1 0 2 0 0 0 1 0 1 0 0 0 1 0 0 0 1 0 0 0 1 0 0 0 1 0 0 0 1 0 0 0 1 0 1 0 1 0 0 0 1 0 1 0 0 0 1 0 0 0 2 0 0 0 1 0 1 0 0 0 0 0 1 0 0 0 1 0 0 0 0 0 1 0 0 0 1 0 0 0 1 0 0 0 0 0 1 0 0 0 1 0 0 0 2 0 2 0 1 0 1 0 2 0 1 0 1 0 1 0 0 0 0 0 1 0 2 0 1 0 1 0 2 0 1 0 1 0 0 0 1 0 0 0 0 0 2 0 0 0 2 0 2 0 0 0 1 0 0 0 0 0 2 0 1 0 0 0 2 0 0 0 1 0 2 0 0 0 0 0 1 0 4 0 2 0 1 0 1 0 1 0 6 0 5 0 0 0 1 0 1 0 4 0 5 0 1 0 1 0 0 0 5 0 0 0 2 0 4 0 2 0 1 0 3 0 0 0 1 0 12 0 6 0 2 0 2 0 5 0 2 0 6 0 2 0 1 0 2 0 0 0 1 0 6 0 11 0 1 0 23 0 16 0-254 3 0 0 0 0 1 0 0 0 0 0 1 0 0 0 1 0 0 0 0 0 1 0 0 0 0 0 1 0 0 0 1 0 0 0 1 0 0 0 1 0 1 0 0 0 1 0 1 0 0 0 0 0 2 0 0 0 1 0 0 0 1 0 1 0 2 0 0 0 0 0 1 0 1 0 0 0 1 0 2 0 1 0 0 0 1 0 1 0 1 0 1 0 1 0 1 0 0 0 1 0 0 0 1 0 1 0 0 0 1 0 1 0 0 0 1 0 1 0 1 0 3 0 0 0 2 0 2 0 0 0 1 0 0 0 1 0 1 0 1 0 0 0 2 0 1 0 1 0 0 0 1 0 1 0 0 0 1 0 3 0 1 0 0 0 1 0 0 0 1 0 0 0 1 0 2 0 1 0 0 0 2 0 0 0 2 0 2 0 0 0 1 0 0 0 1 0 0 0 0 0 1 0 0 0 1 0 0 0 0 0 1 0 2 0 1 0 2 0 0 0 1 0 0 0 2 0 0 0 0 0 1 0 2 0 1 0 0 0 1 0 1 0 1 0 1 0 2 0 1 0 1 0 4 0 1 0 0 0 1 0 1 0 1 0 0 0 4 0 1 0 2 0 1 0 3 0 1 0 1 0 0 0 1 0 0 0 2 0 0 0 1 0 1 0 2 0 1 0 7 0 2 0 1 0 4 0 3 0 0 0 3 0 2 0 1 0 3 0 4 0 1 0 1 0 2 0 9 0 8 0 8 0 14 0 2 0 2 0 27 0 11 0 13 0-255 3 1 0 0 0 1 0 1 0 0 0 1 0 0 0 1 0 0 0 0 0 1 0 1 0 0 0 1 0 1 0 1 0 0 0 0 0 1 0 0 0 1 0 2 0 1 0 1 0 1 0 1 0 0 0 0 0 1 0 1 0 0 0 1 0 1 0 0 0 1 0 2 0 1 0 1 0 0 0 1 0 1 0 1 0 0 0 0 0 1 0 1 0 2 0 1 0 2 0 0 0 1 0 0 0 1 0 2 0 0 0 2 0 1 0 0 0 1 0 1 0 0 0 2 0 2 0 2 0 1 0 1 0 0 0 1 0 1 0 0 0 1 0 1 0 1 0 1 0 3 0 2 0 0 0 1 0 1 0 0 0 1 0 1 0 1 0 0 0 1 0 0 0 1 0 1 0 1 0 2 0 0 0 2 0 2 0 0 0 1 0 0 0 1 0 0 0 1 0 0 0 0 0 1 0 1 0 2 0 0 0 1 0 0 0 1 0 1 0 0 0 1 0 1 0 0 0 1 0 1 0 0 0 1 0 0 0 1 0 0 0 1 0 1 0 2 0 0 0 2 0 0 0 1 0 1 0 0 0 1 0 1 0 2 0 1 0 0 0 3 0 1 0 4 0 1 0 1 0 1 0 0 0 0 0 1 0 0 0 1 0 1 0 1 0 5 0 0 0 1 0 1 0 2 0 0 0 2 0 1 0 0 0 3 0 1 0 1 0 3 0 1 0 0 0 4 0 2 0 0 0 3 0 3 0 0 0 0 0 1 0 0 0 2 0 0 0 1 0 1 0 1 0 0 0 1 0 1 0 2 0 1 0 1 0 2 0 1 0 1 0 1 0 0 0 4 0 1 0 1 0 1 0 0 0 5 0 0 0 2 0 4 0 1 0 5 0 1 0 3 0 1 0 6 0 1 0 3 0 1 0 5 0 1 0 5 0 1 0 1 0 1 0 2 0 0 0 14 0 4 0 3 0 7 0-258 3 1 0 0 0 0 0 1 0 0 0 1 0 0 0 1 0 0 0 1 0 0 0 1 0 0 0 1 0 1 0 1 0 0 0 0 0 1 0 1 0 0 0 0 0 1 0 0 0 1 0 1 0 1 0 1 0 0 0 1 0 1 0 0 0 1 0 0 0 1 0 0 0 1 0 0 0 1 0 0 0 1 0 0 0 1 0 0 0 1 0 0 0 1 0 2 0 1 0 1 0 0 0 1 0 0 0 1 0 1 0 1 0 1 0 0 0 1 0 0 0 1 0 0 0 1 0 0 0 0 0 1 0 0 0 0 0 2 0 0 0 1 0 1 0 1 0 1 0 0 0 1 0 0 0 1 0 0 0 1 0 0 0 1 0 1 0 0 0 1 0 1 0 0 0 1 0 0 0 0 0 1 0 0 0 1 0 1 0 0 0 1 0 1 0 0 0 1 0 1 0 0 0 1 0 0 0 1 0 0 0 1 0 0 0 1 0 0 0 1 0 0 0 1 0 0 0 0 0 1 0 1 0 0 0 1 0 0 0 1 0 0 0 1 0 0 0 1 0 0 0 1 0 0 0 1 0 1 0 0 0 0 0 1 0 0 0 1 0 1 0 0 0 0 0 1 0 0 0 1 0 1 0 0 0 1 0 0 0 0 0 1 0 0 0 1 0 0 0 1 0 0 0 1 0 0 0 0 0 1 0 1 0 0 0 1 0 1 0 0 0 2 0 1 0 0 0 1 0 0 0 1 0 1 0 0 0 1 0 0 0 1 0 0 0 0 0 1 0 0 0 1 0 1 0 0 0 0 0 1 0 0 0 1 0 1 0 0 0 0 0 1 0 0 0 1 0 0 0 1 0 0 0 1 0 0 0 1 0 0 0 0 0 1 0 0 0 0 0 1 0 0 0 1 0 0 0 1 0 0 0 0 0 1 0 0 0 0 0 1 0 0 0 0 0 1 0 0 0 1 0 0 0 1 0 1 0 0 0 1 0 0 0 0 0 1 0 0 0 0 0 1 0 0 0 0 0 1 0 1 0 0 0 0 0 1 0 0 0 0 0 1 0 0 0 1 0 0 0 0 0 1 0 0 0 1 0 0 0 0 0 1 0 0 0 1 0 0 0 0 0 1 0 0 0 1 0 0 0 1 0 0 0 1 0 0 0 0 0 1 0 0 0 0 0 1 0 0 0 0 0 1 0 1 0 1 0 0 0 0 0 1 0 0 0 1 0 1 0 0 0 0 0 1 0 0 0 1 0 0 0 0 0 1 0 0 0 1 0 0 0 0 0 1 0 0 0 0 0 1 0 0 0 0 0 1 0 0 0 0 0 1 0 0 0 1 0 0 0 1 0 0 0 0 0 1 0 0 0 0 0 1 0 0 0 0 0 1 0 0 0 0 0 1 0 0 0 1 0 0 0 0 0 1 0 0 0 1 0 0 0 1 0 0 0 1 0 0 0 1 0 0 0 1 0 0 0 0 0 1 0 0 0 0 0 1 0 0 0 0 0 1 0 0 0 1 0 1 0 0 0 0 0 1 0 0 0 1 0 0 0 1 0 0 0 0 0 1 0 0 0 0 0 1 0 0 0 1 0 0 0 1 0 0 0 1 0 0 0 1 0 0 0 0 0 1 0 0 0 0 0 1 0 0 0 0 0 1 0 0 0 1 0 0 0 1 0 0 0 1 0 0 0 0 0 1 0 0 0 0 0 1 0 0 0 0 0 1 0 0 0 0 0 1 0 0 0 0 0 1 0 0 0 1 0 0 0 1 0 0 0 1 0 0 0 0 0 1 0 0 0 0 0 1 0 0 0 0 0 1 0 0 0 0 0 1 0 0 0 0 0 1 0 0 0 0 0 1 0 0 0 0 0 1 0 0 0 1 0 0 0 0 0 1 0 0 0 0 0 1 0 0 0 0 0 1 0 0 0 0 0 1 0 0 0 0 0 1 0 0 0 1 0 0 0 1 0 0 0 0 0 1 0 0 0 0 0 1 0 0 0 0 0 1 0 0 0 1 0 0 0 1 0 0 0 0 0 1 0 0 0 1 0 0 0 0 0 1 0 0 0 0 0 1 0 0 0 1 0 0 0 1 0 0 0 0 0 1 0 0 0 0 0 1 0 0 0 0 0 1 0 0 0 0 0 1 0 1 0 0 0 1 0 0 0 1 0 0 0 0 0 1 0 0 0 0 0 1 0 0 0 1 0 0 0 1 0 0 0 1 0 0 0 1 0 0 0 1 0 0 0 0 0 1 0 0 0 1 0 0 0 0 0 1 0 0 0 0 0 1 0 0 0 0 0 1 0 0 0 0 0 1 0 0 0 0 0 1 0 0 0 0 0 1 0 0 0 0 0 1 0 0 0 1 0 0 0 0 0 9 0 1 0 4 0 0 0 1 0 0 0 2 0 1 0 1 0 1 0 0 0 1 0 2 0 0 0 2 0"/>
<path class="tk" d="M225.5 741.5v-5.5M225.5 459.5v5.5M312.5 741.5v-5.5M312.5 459.5v5.5M398.5 741.5v-5.5M398.5 459.5v5.5M485.5 741.5v-5.5M485.5 459.5v5.5M225.5 741.5h5.5M528.5 741.5h-5.5M225.5 710.5h5.5M528.5 710.5h-5.5M225.5 678.5h5.5M528.5 678.5h-5.5M225.5 647.5h5.5M528.5 647.5h-5.5M225.5 616.5h5.5M528.5 616.5h-5.5M225.5 584.5h5.5M528.5 584.5h-5.5M225.5 553.5h5.5M528.5 553.5h-5.5M225.5 522.5h5.5M528.5 522.5h-5.5M225.5 490.5h5.5M528.5 490.5h-5.5M225.5 459.5h5.5M528.5 459.5h-5.5"/>
<rect class="ax" x="225.5" y="459.5" width="303" height="282"/>
<text class="t" x="225.4" y="759.4" text-anchor="middle">0</text>
<text class="t" x="312" y="759.4" text-anchor="middle">2000</text>
<text class="t" x="398.7" y="759.4" text-anchor="middle">4000</text>
<text class="t" x="485.3" y="759.4" text-anchor="middle">6000</text>
<text class="t" x="220.6" y="746.5" text-anchor="end">0</text>
<text class="t" x="220.6" y="715.1" text-anchor="end">10</text>
<text class="t" x="220.6" y="683.7" text-anchor="end">20</text>
<text class="t" x="220.6" y="652.4" text-anchor="end">30</text>
<text class="t" x="220.6" y="621" text-anchor="end">40</text>
<text class="t" x="220.6" y="589.6" text-anchor="end">50</text>
<text class="t" x="220.6" y="558.2" text-anchor="end">60</text>
<text class="t" x="220.6" y="526.9" text-anchor="end">70</text>
<text class="t" x="220.6" y="495.5" text-anchor="end">80</text>
<text class="t" x="220.6" y="464.1" text-anchor="end">90</text>
<text class="yl" transform="translate(188.6 600.6) rotate(-90)" text-anchor="middle">N reports</text>
<rect x="314.5" y="469.5" width="204" height="63" fill="#fff" stroke="#000" stroke-width="1.39"/>
<path class="b" d="M342.5 485.5h0"/>
<path class="r" d="M342.5 514.5h0"/>
<text class="tt" x="377.7" y="491.8">all points</text>
<text class="tt" x="377.7" y="520.8">pts &gt; 1sigma</text>
</g>
<g id="ax11">
<path class="b" clip-path="url(#c11)" d="M752.5 481.5l11 25-4 28 27 3-16 3-8 16-1 3 14 3 22 0-55 7 27 0-10 3-38 6 57 0-24 3 10 0 1 0 12 0-1 3-15 3 13 0 6 10-32 3 32 0 22 0 5 3-44 3 34 0 11 0-66 3 17 0 37 0-43 4 16 0 9 0-24 3 22 0 4 0-28 3 21 0 7 0-28 3 11 0-4 3 19 0-28 3 9 0 4 0 4 0-10 3 25 0-62 4 77 0 19 0-62 3-25 3 2 0 23 0 13 0-72 3 40 0 20 0 14 0 9 0 27 0-60 3 8 0 3 0 7 0 1 0 4 0 3 0 4 0-24 3 1 0 1 0 8 0 1 0 2 0 1 0 1 0 1 0 6 0 1 0 19 0-54 3 6 0 6 0 5 0 3 0 2 0 1 0 4 0 4 0 6 0-22 3 3 0 6 0 2 0 1 0 1 0 0 0 2 0 0 0 2 0 7 0 15 0 1 0 1 0-92 4 14 0 24 0 8 0 3 0 3 0 0 0 1 0 0 0 2 0 0 0 1 0 0 0 1 0 1 0 0 0 1 0 1 0 0 0 1 0 1 0 4 0 1 0 3 0 13 0 13 0-65 3 15 0 1 0 1 0 0 0 3 0 1 0 0 0 3 0 3 0 1 0 0 0 7 0 1 0 1 0 0 0 2 0 2 0 9 0 10 0 26 0-78 3 10 0 2 0 13 0 0 0 1 0 4 0 0 0 1 0 2 0 0 0 2 0 5 0 2 0 0 0 21 0-71 3 18 0 0 0 10 0 1 0 0 0 8 0 4 0 0 0 0 0 2 0 0 0 16 0 5 0 15 0 5 0 0 0-120 3 37 0 8 0 3 0 5 0 1 0 1 0 1 0 6 0 4 0 2 0 3 0 1 0 2 0 0 0 7 0 2 0 4 0 1 0 2 0 9 0 0 0 0 0 34 0-162 3 66 0 3 0 5 0 6 0 2 0 7 0 2 0 0 0 3 0 0 0 2 0 1 0 0 0 1 0 2 0 8 0 6 0 1 0 0 0 9 0 1 0 17 0 1 0-116 3 12 0 24 0 10 0 0 0 1 0 5 0 4 0 3 0 0 0 4 0 0 0 1 0 1 0 0 0 1 0 0 0 1 0 1 0 0 0 0 0 2 0 0 0 1 0 0 0 1 0 0 0 1 0 0 0 1 0 0 0 0 0 1 0 0 0 3 0 2 0 2 0 8 0 24 0-91 4 10 0 2 0 10 0 2 0 2 0 0 0 2 0 3 0 0 0 2 0 0 0 1 0 0 0 3 0 2 0 0 0 1 0 2 0 1 0 1 0 0 0 1 0 0 0 2 0 1 0 1 0 2 0 0 0 0 0 2 0 1 0 7 0 2 0 0 0 1 0 3 0 4 0 11 0 4 0 7 0-108 3 15 0 23 0 1 0 5 0 1 0 1 0 2 0 2 0 0 0 2 0 1 0 0 0 2 0 1 0 2 0 0 0 1 0 1 0 2 0 0 0 0 0 2 0 0 0 3 0 1 0 0 0 1 0 1 0 0 0 1 0 0 0 0 0 1 0 1 0 4 0 1 0 2 0 1 0 1 0 1 0 1 0 5 0 5 0 6 0 1 0 11 0-88 3 5 0 8 0 5 0 3 0 4 0 2 0 4 0 1 0 0 0 0 0 3 0 1 0 1 0 6 0 0 0 3 0 1 0 3 0 16 0 0 0 4 0 1 0 3 0 4 0 9 0 10 0-89 3 1 0 5 0 2 0 3 0 2 0 1 0 0 0 1 0 0 0 3 0 3 0 0 0 2 0 1 0 0 0 1 0 0 0 0 0 1 0 0 0 1 0 0 0 1 0 1 0 2 0 1 0 1 0 0 0 1 0 1 0 0 0 1 0 1 0 1 0 1 0 3 0 4 0 2 0 0 0 2 0 2 0 0 0 2 0 13 0 11 0-98 3 19 0 1 0 11 0 2 0 1 0 1 0 0 0 1 0 0 0 1 0 1 0 0 0 1 0 0 0 0 0 1 0 0 0 2 0 0 0 1 0 3 0 2 0 1 0 1 0 1 0 1 0 0 0 1 0 3 0 1 0 2 0 1 0 2 0 2 0 0 0 3 0 0 0 0 0 2 0 0 0 9 0 0 0 1 0 0 0 6 0 3 0 1 0 3 0 9 0 10 0-86 3 1 0 0 0 8 0 0 0 1 0 0 0 4 0 3 0 0 0 0 0 1 0 1 0 1 0 2 0 1 0 1 0 0 0 0 0 1 0 0 0 1 0 1 0 0 0 0 0 1 0 1 0 0 0 3 0 0 0 1 0 1 0 1 0 4 0 1 0 0 0 0 0 2 0 1 0 2 0 6 0 6 0 5 0 3 0 3 0 8 0 11 0 1 0-105 3 8 0 10 0 0 0 1 0 0 0 1 0 0 0 1 0 0 0 0 0 1 0 1 0 3 0 0 0 0 0 2 0 2 0 1 0 0 0 1 0 0 0 0 0 2 0 1 0 0 0 1 0 0 0 0 0 1 0 0 0 1 0 0 0 1 0 0 0 1 0 0 0 1 0 1 0 0 0 1 0 0 0 0 0 2 0 0 0 2 0 0 0 1 0 0 0 1 0 1 0 1 0 2 0 1 0 2 0 0 0 0 0 2 0 4 0 1 0 5 0 1 0 2 0 0 0 0 0 8 0 0 0 5 0 2 0 5 0 13 0 5 0-150 4 36 0 13 0 3 0 6 0 1 0 2 0 2 0 2 0 3 0 0 0 1 0 0 0 1 0 0 0 0 0 1 0 0 0 1 0 2 0 1 0 1 0 1 0 1 0 1 0 0 0 1 0 1 0 0 0 0 0 4 0 1 0 1 0 0 0 1 0 1 0 0 0 1 0 1 0 0 0 0 0 1 0 0 0 1 0 0 0 0 0 8 0 5 0 1 0 4 0 12 0 0 0 6 0 1 0 4 0 7 0 1 0 0 0 3 0 1 0-146 3 41 0 8 0 7 0 2 0 1 0 2 0 1 0 0 0 1 0 0 0 1 0 1 0 1 0 0 0 1 0 1 0 1 0 1 0 1 0 1 0 0 0 2 0 1 0 0 0 1 0 0 0 1 0 0 0 1 0 0 0 1 0 1 0 0 0 2 0 0 0 0 0 1 0 1 0 0 0 0 0 2 0 0 0 2 0 0 0 1 0 1 0 0 0 3 0 5 0 1 0 0 0 0 0 1 0 2 0 2 0 5 0 0 0 0 0 2 0 0 0 3 0 0 0 1 0 10 0 14 0 4 0-125 3 8 0 6 0 3 0 4 0 12 0 1 0 3 0 4 0 0 0 0 0 3 0 1 0 0 0 1 0 1 0 1 0 0 0 1 0 0 0 1 0 1 0 2 0 1 0 0 0 1 0 1 0 0 0 2 0 1 0 1 0 0 0 1 0 1 0 1 0 0 0 1 0 0 0 0 0 1 0 0 0 0 0 1 0 0 0 1 0 0 0 1 0 0 0 1 0 0 0 2 0 12 0 0 0 2 0 1 0 2 0 6 0 3 0 3 0 4 0 2 0 1 0 1 0 0 0 2 0 1 0 10 0 2 0-150 3 21 0 19 0 19 0 2 0 4 0 1 0 3 0 1 0 1 0 0 0 2 0 0 0 2 0 0 0 1 0 0 0 1 0 1 0 0 0 1 0 0 0 1 0 1 0 0 0 1 0 0 0 0 0 1 0 0 0 1 0 0 0 0 0 1 0 0 0 1 0 1 0 0 0 1 0 1 0 0 0 1 0 2 0 1 0 0 0 1 0 2 0 1 0 1 0 0 0 1 0 15 0 1 0 0 0 0 0 5 0 1 0 1 0 2 0 1 0 1 0 2 0 2 0 3 0 2 0 0 0 2 0 5 0 4 0 1 0 3 0 7 0-114 3 11 0 4 0 2 0 2 0 7 0 1 0 1 0 1 0 1 0 4 0 2 0 1 0 2 0 0 0 1 0 2 0 1 0 0 0 1 0 0 0 1 0 0 0 2 0 1 0 0 0 1 0 1 0 1 0 0 0 1 0 0 0 18 0 4 0 1 0 0 0 2 0 2 0 1 0 3 0 0 0 2 0 0 0 3 0 0 0 3 0 0 0 0 0 6 0 4 0 2 0 0 0-151 3 37 0 6 0 19 0 2 0 1 0 1 0 1 0 1 0 3 0 0 0 0 0 2 0 0 0 1 0 0 0 1 0 0 0 1 0 0 0 2 0 2 0 1 0 0 0 0 0 1 0 0 0 1 0 1 0 0 0 1 0 0 0 1 0 0 0 1 0 1 0 1 0 1 0 1 0 0 0 2 0 0 0 0 0 1 0 1 0 1 0 0 0 1 0 1 0 3 0 17 0 5 0 2 0 0 0 5 0 0 0 1 0 1 0 0 0 1 0 0 0 1 0 3 0 0 0 1 0 0 0 5 0 3 0 1 0 3 0 0 0 9 0 2 0 3 0 4 0-145 3 23 0 9 0 0 0 2 0 2 0 5 0 1 0 1 0 0 0 1 0 1 0 0 0 0 0 1 0 0 0 0 0 3 0 0 0 1 0 1 0 1 0 0 0 2 0 1 0 0 0 2 0 0 0 0 0 2 0 1 0 0 0 1 0 0 0 2 0 1 0 1 0 0 0 1 0 0 0 1 0 0 0 1 0 0 0 1 0 0 0 1 0 1 0 0 0 1 0 1 0 1 0 1 0 2 0 25 0 1 0 2 0 4 0 7 0 0 0 1 0 0 0 2 0 0 0 2 0 2 0 0 0 2 0 1 0 0 0 2 0 2 0 2 0 4 0 2 0 2 0 0 0 1 0 4 0 2 0 7 0-156 3 10 0 4 0 14 0 1 0 0 0 0 0 13 0 1 0 0 0 1 0 0 0 1 0 1 0 0 0 2 0 0 0 1 0 0 0 1 0 0 0 0 0 1 0 0 0 1 0 0 0 1 0 0 0 1 0 0 0 1 0 0 0 0 0 1 0 0 0 0 0 1 0 1 0 0 0 0 0 2 0 0 0 0 0 1 0 0 0 1 0 0 0 0 0 1 0 0 0 1 0 0 0 0 0 1 0 0 0 1 0 0 0 1 0 0 0 1 0 0 0 1 0 1 0 1 0 1 0 0 0 2 0 0 0 2 0 27 0 1 0 0 0 4 0 0 0 1 0 1 0 0 0 2 0 0 0 4 0 0 0 2 0 3 0 1 0 1 0 0 0 3 0 2 0 7 0 2 0 2 0 3 0-187 4 3 0 10 0 12 0 8 0 1 0 2 0 17 0 17 0 2 0 4 0 3 0 0 0 7 0 1 0 0 0 0 0 1 0 1 0 0 0 2 0 2 0 1 0 2 0 1 0 0 0 1 0 1 0 0 0 1 0 0 0 2 0 0 0 0 0 1 0 0 0 2 0 0 0 1 0 0 0 1 0 0 0 1 0 0 0 1 0 1 0 0 0 1 0 0 0 2 0 0 0 1 0 0 0 0 0 1 0 0 0 1 0 0 0 1 0 2 0 1 0 28 0 0 0 4 0 4 0 1 0 2 0 0 0 2 0 1 0 1 0 6 0 2 0 3 0 0 0 2 0 1 0 2 0 5 0 2 0 2 0 3 0 2 0 6 0 3 0-196 3 30 0 2 0 2 0 0 0 5 0 8 0 5 0 1 0 1 0 5 0 3 0 5 0 5 0 1 0 0 0 1 0 0 0 3 0 1 0 1 0 1 0 0 0 1 0 1 0 1 0 1 0 1 0 0 0 1 0 0 0 0 0 1 0 0 0 0 0 1 0 0 0 1 0 0 0 0 0 1 0 0 0 1 0 1 0 0 0 1 0 1 0 0 0 1 0 0 0 0 0 1 0 1 0 1 0 0 0 0 0 1 0 1 0 1 0 1 0 1 0 0 0 1 0 1 0 1 0 0 0 0 0 1 0 0 0 1 0 1 0 2 0 0 0 1 0 2 0 39 0 4 0 0 0 3 0 3 0 3 0 1 0 2 0 0 0 3 0 1 0 0 0 1 0 0 0 3 0 0 0 1 0 2 0 0 0 4 0 3 0 0 0 3 0 0 0 6 0 5 0-185 3 11 0 7 0 2 0 1 0 1 0 5 0 1 0 4 0 0 0 1 0 4 0 1 0 1 0 5 0 0 0 4 0 0 0 1 0 1 0 1 0 0 0 1 0 0 0 1 0 2 0 1 0 2 0 0 0 2 0 0 0 0 0 2 0 0 0 2 0 1 0 0 0 0 0 1 0 0 0 0 0 1 0 1 0 0 0 1 0 0 0 1 0 2 0 0 0 2 0 1 0 2 0 0 0 2 0 0 0 1 0 1 0 0 0 1 0 1 0 0 0 0 0 1 0 2 0 1 0 0 0 1 0 1 0 1 0 1 0 1 0 47 0 4 0 2 0 8 0 9 0 5 0 2 0 3 0 0 0 1 0 2 0 5 0 1 0 7 0 6 0-212 3 2 0 1 0 1 0 0 0 1 0 1 0 1 0 2 0 0 0 0 0 2 0 1 0 2 0 0 0 0 0 1 0 1 0 0 0 3 0 0 0 2 0 0 0 0 0 1 0 0 0 1 0 0 0 0 0 2 0 2 0 0 0 0 0 1 0 1 0 1 0 0 0 0 0 2 0 2 0 0 0 1 0 0 0 0 0 1 0 1 0 0 0 0 0 1 0 0 0 1 0 1 0 2 0 1 0 1 0 0 0 0 0 3 0 2 0 2 0 0 0 1 0 2 0 1 0 2 0 1 0 0 0 2 0 1 0 0 0 1 0 4 0 0 0 1 0 2 0 3 0 0 0 1 0 0 0 0 0 1 0 0 0 1 0 0 0 3 0 0 0 1 0 1 0 0 0 1 0 0 0 1 0 1 0 1 0 1 0 1 0 0 0 1 0 1 0 0 0 1 0 0 0 1 0 1 0 1 0 0 0 1 0 0 0 1 0 0 0 1 0 1 0 2 0 0 0 0 0 1 0 1 0 1 0 0 0 0 0 1 0 0 0 1 0 0 0 1 0 3 0 53 0 0 0 23 0 1 0 0 0 1 0 2 0 0 0 5 0 1 0 1 0 0 0 0 0 2 0 1 0 1 0 3 0 1 0 0 0 0 0 1 0 4 0 4 0 3 0 0 0-238 3 0 0 0 0 1 0 3 0 1 0 1 0 0 0 0 0 1 0 1 0 1 0 0 0 0 0 1 0 0 0 0 0 2 0 0 0 1 0 1 0 0 0 0 0 1 0 0 0 0 0 1 0 0 0 0 0 1 0 1 0 0 0 0 0 1 0 0 0 0 0 1 0 0 0 0 0 1 0 0 0 0 0 1 0 0 0 0 0 1 0 0 0 0 0 1 0 0 0 1 0 0 0 0 0 1 0 0 0 0 0 1 0 0 0 1 0 0 0 0 0 1 0 0 0 0 0 1 0 0 0 1 0 0 0 1 0 0 0 0 0 1 0 1 0 0 0 0 0 1 0 0 0 0 0 1 0 0 0 1 0 0 0 0 0 1 0 0 0 1 0 0 0 1 0 1 0 0 0 0 0 1 0 0 0 0 0 1 0 0 0 1 0 0 0 0 0 1 0 0 0 0 0 1 0 0 0 1 0 0 0 0 0 1 0 0 0 0 0 1 0 0 0 1 0 0 0 0 0 1 0 0 0 0 0 1 0 0 0 0 0 1 0 0 0 0 0 1 0 0 0 1 0 0 0 0 0 1 0 0 0 1 0 0 0 0 0 1 0 0 0 1 0 1 0 0 0 1 0 0 0 1 0 0 0 1 0 0 0 1 0 0 0 0 0 1 0 0 0 0 0 1 0 0 0 1 0 0 0 0 0 1 0 0 0 1 0 0 0 0 0 1 0 0 0 0 0 1 0 0 0 0 0 1 0 0 0 0 0 1 0 0 0 1 0 0 0 0 0 1 0 0 0 1 0 0 0 1 0 0 0 0 0 1 0 0 0 0 0 1 0 0 0 0 0 1 0 0 0 0 0 1 0 0 0 1 0 0 0 0 0 1 0 0 0 0 0 1 0 0 0 1 0 0 0 0 0 1 0 0 0 1 0 0 0 0 0 1 0 0 0 0 0 1 0 0 0 0 0 1 0 0 0 1 0 0 0 1 0 0 0 0 0 1 0 0 0 1 0 0 0 0 0 1 0 0 0 0 0 1 0 0 0 1 0 1 0 0 0 1 0 1 0 0 0 0 0 1 0 0 0 0 0 1 0 0 0 0 0 1 0 0 0 1 0 0 0 1 0 0 0 1 0 0 0 1 0 0 0 1 0 0 0 1 0 0 0 1 0 0 0 1 0 0 0 1 0 1 0 1 0 0 0 0 0 1 0 0 0 1 0 1 0 1 0 1 0 0 0 1 0 0 0 0 0 1 0 0 0 0 0 1 0 1 0 0 0 1 0 0 0 3 0 107 0 0 0 2 0 1 0 0 0 1 0 1 0 0 0"/>
<path class="r" clip-path="url(#c11)" d="M786.5 537.5l11 25-19 16-1 3-1 3 26 16 5 3-10 3 11 0-12 3-18 4-2 3 6 15 15 4 19 0-38 9 27 0-12 6-17 3 2 3 15 0 1 0 1 0-9 4 13 0-28 3 13 0 10 0 26 0-47 3 4 0 5 0 2 0 0 0 21 0-28 3 16 0 5 0 15 0 5 0 0 0-39 3 2 0 4 0 1 0 2 0 9 0 0 0 0 0 34 0-48 3 1 0 0 0 9 0 1 0 17 0 1 0-36 3 2 0 8 0 24 0-30 4 2 0 0 0 1 0 3 0 4 0 11 0 4 0 7 0-38 3 2 0 1 0 4 0 1 0 2 0 1 0 1 0 1 0 1 0 5 0 5 0 6 0 1 0 11 0-22 3 0 0 4 0 1 0 3 0 4 0 9 0 10 0-53 3 6 0 4 0 2 0 0 0 2 0 2 0 0 0 2 0 13 0 11 0-39 3 1 0 2 0 2 0 3 0 0 0 0 0 2 0 0 0 9 0 0 0 1 0 0 0 6 0 3 0 1 0 3 0 9 0 10 0-52 3 5 0 1 0 0 0 2 0 1 0 2 0 6 0 6 0 5 0 3 0 3 0 8 0 11 0 1 0-57 3 1 0 2 0 2 0 1 0 2 0 0 0 0 0 2 0 4 0 1 0 5 0 1 0 2 0 0 0 0 0 8 0 0 0 5 0 2 0 5 0 13 0 5 0-59 4 1 0 0 0 0 0 1 0 0 0 0 0 8 0 5 0 1 0 4 0 12 0 0 0 6 0 1 0 4 0 7 0 1 0 0 0 3 0 1 0-58 3 2 0 2 0 1 0 0 0 0 0 1 0 3 0 1 0 1 0 0 0 0 0 1 0 2 0 2 0 5 0 0 0 0 0 2 0 0 0 3 0 0 0 1 0 10 0 14 0 4 0-54 3 2 0 6 0 3 0 0 0 1 0 0 0 2 0 1 0 1 0 1 0 6 0 3 0 3 0 4 0 2 0 1 0 1 0 0 0 2 0 1 0 10 0 2 0-55 3 3 0 0 0 1 0 0 0 1 0 0 0 2 0 2 0 0 0 0 0 1 0 0 0 1 0 1 0 1 0 0 0 2 0 1 0 0 0 1 0 2 0 1 0 0 0 0 0 5 0 1 0 1 0 2 0 1 0 1 0 2 0 2 0 3 0 2 0 0 0 2 0 5 0 4 0 1 0 3 0 7 0-61 3 1 0 0 0 1 0 1 0 0 0 0 0 1 0 1 0 0 0 0 0 1 0 1 0 0 0 0 0 1 0 1 0 0 0 1 0 1 0 3 0 3 0 4 0 1 0 0 0 2 0 2 0 1 0 3 0 0 0 2 0 0 0 3 0 0 0 3 0 0 0 0 0 6 0 4 0 2 0 0 0-50 3 1 0 1 0 1 0 0 0 1 0 0 0 1 0 1 0 0 0 1 0 0 0 0 0 1 0 1 0 1 0 0 0 1 0 0 0 0 0 1 0 2 0 0 0 0 0 1 0 0 0 1 0 1 0 5 0 2 0 0 0 0 0 5 0 0 0 1 0 1 0 0 0 1 0 0 0 1 0 3 0 0 0 1 0 0 0 5 0 3 0 1 0 3 0 0 0 9 0 2 0 3 0 4 0-73 3 1 0 0 0 1 0 1 0 1 0 0 0 1 0 1 0 1 0 1 0 0 0 2 0 5 0 0 0 1 0 0 0 0 0 1 0 1 0 1 0 0 0 1 0 0 0 1 0 0 0 1 0 1 0 0 0 0 0 1 0 0 0 1 0 1 0 1 0 1 0 1 0 0 0 1 0 1 0 0 0 2 0 4 0 2 0 0 0 5 0 0 0 1 0 0 0 2 0 0 0 0 0 2 0 2 0 0 0 1 0 1 0 1 0 0 0 2 0 2 0 2 0 4 0 2 0 2 0 0 0 1 0 4 0 2 0 7 0-90 3 8 0 2 0 0 0 0 0 1 0 0 0 1 0 0 0 2 0 1 0 1 0 0 0 1 0 2 0 1 0 0 0 0 0 1 0 0 0 1 0 1 0 1 0 1 0 0 0 1 0 0 0 1 0 2 0 0 0 1 0 1 0 2 0 1 0 1 0 1 0 1 0 1 0 0 0 4 0 0 0 1 0 1 0 2 0 0 0 1 0 2 0 1 0 0 0 2 0 1 0 2 0 1 0 1 0 0 0 2 0 1 0 2 0 7 0 2 0 2 0 3 0-73 4 6 0 0 0 0 0 1 0 1 0 0 0 0 0 1 0 1 0 1 0 1 0 1 0 0 0 1 0 0 0 0 0 1 0 0 0 1 0 1 0 1 0 0 0 1 0 0 0 1 0 0 0 0 0 1 0 0 0 0 0 1 0 3 0 1 0 0 0 1 0 0 0 0 0 1 0 1 0 0 0 0 0 1 0 0 0 1 0 1 0 1 0 0 0 1 0 0 0 1 0 2 0 1 0 1 0 1 0 1 0 0 0 1 0 0 0 1 0 1 0 1 0 0 0 2 0 1 0 1 0 2 0 1 0 0 0 2 0 0 0 1 0 2 0 3 0 0 0 2 0 1 0 2 0 5 0 2 0 2 0 3 0 2 0 6 0 3 0-88 3 2 0 2 0 0 0 1 0 1 0 0 0 0 0 1 0 0 0 1 0 0 0 1 0 0 0 2 0 2 0 0 0 1 0 1 0 1 0 2 0 1 0 1 0 0 0 1 0 1 0 0 0 3 0 1 0 0 0 1 0 2 0 1 0 2 0 1 0 0 0 1 0 0 0 1 0 0 0 1 0 1 0 1 0 1 0 1 0 1 0 0 0 1 0 0 0 3 0 0 0 1 0 2 0 1 0 0 0 1 0 0 0 2 0 0 0 2 0 0 0 1 0 1 0 2 0 1 0 0 0 0 0 2 0 0 0 2 0 0 0 1 0 1 0 0 0 1 0 0 0 3 0 0 0 1 0 2 0 0 0 4 0 3 0 0 0 3 0 0 0 6 0 5 0-96 3 0 0 3 0 1 0 0 0 0 0 1 0 0 0 0 0 1 0 2 0 1 0 0 0 0 0 1 0 1 0 2 0 0 0 2 0 0 0 1 0 0 0 1 0 1 0 2 0 2 0 0 0 1 0 2 0 1 0 0 0 1 0 0 0 1 0 0 0 1 0 1 0 0 0 1 0 4 0 1 0 1 0 1 0 1 0 4 0 1 0 2 0 1 0 1 0 0 0 1 0 1 0 4 0 1 0 2 0 0 0 0 0 1 0 1 0 0 0 2 0 0 0 0 0 1 0 0 0 1 0 1 0 2 0 1 0 1 0 1 0 0 0 1 0 3 0 0 0 0 0 5 0 2 0 3 0 0 0 1 0 2 0 5 0 1 0 7 0 6 0-111 3 2 0 3 0 0 0 1 0 2 0 0 0 1 0 2 0 1 0 0 0 0 0 1 0 0 0 2 0 1 0 2 0 1 0 1 0 2 0 0 0 1 0 2 0 2 0 1 0 0 0 1 0 1 0 0 0 1 0 0 0 1 0 0 0 1 0 1 0 1 0 1 0 2 0 0 0 2 0 3 0 0 0 2 0 0 0 1 0 1 0 1 0 2 0 0 0 1 0 1 0 0 0 0 0 1 0 0 0 1 0 0 0 1 0 1 0 2 0 0 0 1 0 1 0 0 0 0 0 2 0 1 0 2 0 0 0 1 0 1 0 1 0 1 0 1 0 1 0 0 0 0 0 1 0 2 0 1 0 1 0 1 0 1 0 4 0 0 0 1 0 0 0 1 0 2 0 0 0 1 0 2 0 1 0 1 0 1 0 1 0 0 0 2 0 0 0 1 0 1 0 2 0 1 0 1 0 0 0 0 0 1 0 2 0 2 0 4 0 3 0 0 0-114 3 1 0 1 0 0 0 0 0 1 0 0 0 0 0 1 0 0 0 0 0 1 0 0 0 0 0 1 0 0 0 1 0 0 0 0 0 1 0 0 0 0 0 1 0 0 0 1 0 0 0 1 0 0 0 1 0 0 0 1 0 0 0 1 0 0 0 0 0 1 0 0 0 1 0 0 0 0 0 1 0 0 0 0 0 1 0 0 0 0 0 1 0 0 0 1 0 0 0 0 0 1 0 0 0 1 0 0 0 1 0 1 0 0 0 1 0 0 0 0 0 1 0 1 0 1 0 1 0 1 0 0 0 1 0 1 0 1 0 0 0 1 0 1 0 0 0 0 0 1 0 0 0 0 0 1 0 0 0 1 0 0 0 1 0 0 0 1 0 0 0 1 0 1 0 0 0 0 0 1 0 1 0 0 0 1 0 0 0 1 0 0 0 1 0 0 0 0 0 1 0 0 0 0 0 1 0 1 0 0 0 1 0 0 0 1 0 0 0 1 0 0 0 0 0 1 0 1 0 0 0 2 0 1 0 0 0 1 0 0 0 0 0 1 0 0 0 1 0 0 0 1 0 1 0 0 0 1 0 1 0 0 0 0 0 1 0 1 0 1 0 0 0 0 0 2 0 1 0 0 0 1 0 0 0 1 0 0 0 1 0 1 0 0 0 1 0 0 0 1 0 0 0 0 0 1 0 0 0 1 0 0 0 0 0 1 0 0 0 1 0 0 0 1 0 0 0 0 0 1 0 0 0 0 0 1 0 0 0 0 0 1 0 0 0 0 0 1 0 0 0 1 0 1 0 0 0 1 0 0 0 1 0 0 0 0 0 1 0 1 0 0 0 0 0 1 0 1 0 0 0 1 0 0 0 0 0 1 0 0 0 1 0 0 0 1 0 0 0 0 0 1 0 0 0 1 0 0 0 1 0 0 0 1 0 0 0 1 0 0 0 0 0 1 0 0 0 1 0 0 0 1 0 0 0 1 0 0 0 0 0 1 0 0 0 0 0 1 0 0 0 0 0 1 0 0 0 0 0 1 0 0 0 0 0 1 0 0 0 0 0 1 0 0 0 0 0 1 0 1 0 0 0"/>
<path class="tk" d="M589.5 741.5v-5.5M589.5 459.5v5.5M627.5 741.5v-5.5M627.5 459.5v5.5M665.5 741.5v-5.5M665.5 459.5v5.5M703.5 741.5v-5.5M703.5 459.5v5.5M741.5 741.5v-5.5M741.5 459.5v5.5M778.5 741.5v-5.5M778.5 459.5v5.5M816.5 741.5v-5.5M816.5 459.5v5.5M854.5 741.5v-5.5M854.5 459.5v5.5M892.5 741.5v-5.5M892.5 459.5v5.5M589.5 741.5h5.5M892.5 741.5h-5.5M589.5 710.5h5.5M892.5 710.5h-5.5M589.5 678.5h5.5M892.5 678.5h-5.5M589.5 647.5h5.5M892.5 647.5h-5.5M589.5 616.5h5.5M892.5 616.5h-5.5M589.5 584.5h5.5M892.5 584.5h-5.5M589.5 553.5h5.5M892.5 553.5h-5.5M589.5 522.5h5.5M892.5 522.5h-5.5M589.5 490.5h5.5M892.5 490.5h-5.5M589.5 459.5h5.5M892.5 459.5h-5.5"/>
<rect class="ax" x="589.5" y="459.5" width="303" height="282"/>
<text class="t" x="589.3" y="759.4" text-anchor="middle">−4</text>
<text class="t" x="627.2" y="759.4" text-anchor="middle">−2</text>
<text class="t" x="665.1" y="759.4" text-anchor="middle">0</text>
<text class="t" x="703" y="759.4" text-anchor="middle">2</text>
<text class="t" x="740.9" y="759.4" text-anchor="middle">4</text>
<text class="t" x="778.9" y="759.4" text-anchor="middle">6</text>
<text class="t" x="816.8" y="759.4" text-anchor="middle">8</text>
<text class="t" x="854.7" y="759.4" text-anchor="middle">10</text>
<text class="t" x="892.6" y="759.4" text-anchor="middle">12</text>
<text class="t" x="584.5" y="746.5" text-anchor="end">0</text>
<text class="t" x="584.5" y="715.1" text-anchor="end">10</text>
<text class="t" x="584.5" y="683.7" text-anchor="end">20</text>
<text class="t" x="584.5" y="652.4" text-anchor="end">30</text>
<text class="t" x="584.5" y="621" text-anchor="end">40</text>
<text class="t" x="584.5" y="589.6" text-anchor="end">50</text>
<text class="t" x="584.5" y="558.2" text-anchor="end">60</text>
<text class="t" x="584.5" y="526.9" text-anchor="end">70</text>
<text class="t" x="584.5" y="495.5" text-anchor="end">80</text>
<text class="t" x="584.5" y="464.1" text-anchor="end">90</text>
</g>
<g id="ax12">
<path class="b" clip-path="url(#c12)" d="M1153.5 481.5l29 25-34 28 2 3-37 3 82 16-19 3-70 3 8 0-11 7 55 0-18 3-31 6 34 0-35 3 2 0 29 0 31 0 28 0-90 3-3 3 35 0 38 10-68 3 88 0 8 0 3 3-94 3 11 0 86 0-104 3 45 0 8 0 46 0-97 4 8 0 29 0 49 0-92 3 93 0-58 3 7 0 43 0-51 3 2 3 8 0 6 0 22 0 19 0-101 3 8 0 8 0 61 0-5 3 24 0-79 4 18 0 72 3-101 3 4 0 4 0 36 0-34 3 33 0 9 0 9 0 13 0 14 0 11 0-102 3 15 0 98 0-102 3 37 0 8 0 49 0-98 3 50 0 16 0 35 0-92 3 15 0 8 0 20 0 4 0 1 0 27 0 9 0-101 4 10 0 4 0 35 0 20 0 11 0 39 0-119 3 3 0 3 0 1 0 3 0 2 0 39 0 25 0 27 0 12 0 5 0-108 3 1 0 22 0 60 0-90 3 14 0 23 0 28 0 9 0 18 0 3 0 1 0 23 0-117 3 9 0 19 0 16 0 2 0 5 0 2 0 10 0 1 0 30 0 3 0 1 0 2 0 13 0-121 3 1 0 14 0 5 0 36 0 5 0 13 0 3 0 16 0 1 0 6 0 12 0 4 0 3 0-122 3 13 0 0 0 0 0 1 0 2 0 1 0 6 0 4 0 3 0 8 0 27 0 2 0 10 0 9 0 1 0 0 0 14 0 27 0-123 4 1 0 6 0 2 0 1 0 3 0 1 0 2 0 1 0 1 0 5 0 0 0 1 0 31 0 8 0 1 0 5 0 1 0 2 0 2 0 1 0 2 0 9 0 25 0 6 0 1 0 0 0 1 0-128 3 10 0 2 0 0 0 9 0 4 0 7 0 1 0 1 0 3 0 1 0 0 0 5 0 3 0 10 0 9 0 1 0 3 0 5 0 2 0 1 0 6 0 1 0 5 0 2 0 5 0 2 0 2 0 1 0 2 0 7 0 1 0 19 0-128 3 15 0 1 0 10 0 17 0 0 0 2 0 2 0 1 0 4 0 6 0 5 0 1 0 4 0 5 0 8 0 3 0 1 0 6 0 1 0 2 0 5 0 3 0 8 0 11 0-129 3 3 0 2 0 1 0 9 0 3 0 7 0 2 0 10 0 9 0 0 0 9 0 6 0 0 0 5 0 0 0 3 0 1 0 2 0 1 0 1 0 3 0 6 0 0 0 5 0 5 0 0 0 3 0 0 0 3 0 5 0 5 0 3 0 0 0 1 0 5 0 2 0 4 0 4 0 0 0 10 0 0 0-129 3 11 0 0 0 8 0 1 0 0 0 4 0 5 0 5 0 14 0 0 0 4 0 3 0 4 0 5 0 2 0 7 0 2 0 2 0 5 0 1 0 0 0 3 0 2 0 1 0 9 0 5 0 1 0 0 0 7 0 5 0 3 0 1 0 0 0 1 0 0 0 7 0 1 0-131 3 9 0 2 0 4 0 1 0 5 0 1 0 1 0 4 0 4 0 8 0 6 0 1 0 2 0 7 0 5 0 1 0 2 0 1 0 1 0 3 0 5 0 2 0 1 0 6 0 3 0 0 0 0 0 5 0 1 0 3 0 0 0 1 0 5 0 6 0 3 0 1 0 3 0 3 0 1 0 1 0 4 0 2 0-115 3 2 0 2 0 4 0 3 0 1 0 1 0 6 0 6 0 10 0 2 0 1 0 2 0 5 0 3 0 4 0 0 0 1 0 2 0 1 0 2 0 4 0 1 0 1 0 11 0 3 0 7 0 2 0 0 0 3 0 1 0 3 0 0 0 0 0 1 0 1 0 1 0 1 0 0 0 1 0 3 0 2 0 1 0 2 0 1 0 1 0 9 0 1 0 2 0-151 4 18 0 9 0 1 0 0 0 0 0 2 0 0 0 2 0 3 0 6 0 0 0 4 0 2 0 2 0 3 0 6 0 0 0 4 0 3 0 6 0 1 0 1 0 0 0 3 0 8 0 2 0 3 0 3 0 5 0 1 0 0 0 2 0 4 0 1 0 1 0 0 0 1 0 2 0 0 0 1 0 1 0 6 0 1 0 2 0 0 0 1 0 2 0 2 0 1 0 2 0 0 0 1 0 1 0 0 0 2 0 0 0 3 0 0 0 1 0 3 0 1 0 0 0 1 0 11 0 8 0-152 3 14 0 3 0 4 0 1 0 1 0 2 0 1 0 2 0 3 0 2 0 1 0 0 0 2 0 0 0 2 0 2 0 0 0 1 0 0 0 17 0 0 0 8 0 1 0 3 0 7 0 2 0 1 0 1 0 0 0 0 0 1 0 2 0 13 0 4 0 2 0 4 0 3 0 2 0 5 0 5 0 5 0 3 0 1 0 2 0 1 0 2 0 3 0 2 0 3 0 4 0 5 0-164 3 18 0 12 0 3 0 2 0 11 0 5 0 1 0 2 0 8 0 3 0 1 0 1 0 1 0 4 0 1 0 1 0 1 0 2 0 3 0 0 0 0 0 1 0 0 0 1 0 0 0 1 0 1 0 0 0 5 0 1 0 1 0 2 0 2 0 0 0 2 0 3 0 1 0 0 0 2 0 7 0 7 0 2 0 1 0 0 0 0 0 5 0 2 0 5 0 4 0 3 0 3 0 1 0 1 0 3 0 1 0 0 0 1 0 0 0 0 0 2 0 6 0-144 3 10 0 11 0 6 0 2 0 1 0 0 0 5 0 5 0 1 0 1 0 1 0 1 0 5 0 5 0 1 0 8 0 0 0 1 0 4 0 0 0 2 0 8 0 1 0 0 0 3 0 1 0 1 0 7 0 1 0 0 0 1 0 0 0 2 0 1 0 0 0 1 0 2 0 0 0 1 0 1 0 1 0 1 0 0 0 1 0 3 0 2 0 2 0 0 0 4 0 1 0 0 0 1 0 1 0 1 0 5 0 0 0 0 0 2 0 0 0 2 0 4 0 0 0 1 0 5 0 0 0 1 0 1 0 0 0 6 0 0 0 1 0 1 0 0 0 1 0-163 3 4 0 6 0 0 0 2 0 1 0 3 0 16 0 2 0 4 0 0 0 1 0 1 0 1 0 0 0 1 0 2 0 3 0 2 0 0 0 4 0 0 0 1 0 3 0 0 0 1 0 1 0 4 0 1 0 1 0 6 0 2 0 1 0 1 0 3 0 1 0 11 0 0 0 2 0 0 0 2 0 1 0 2 0 0 0 1 0 4 0 3 0 1 0 2 0 1 0 0 0 1 0 3 0 0 0 1 0 2 0 0 0 3 0 6 0 3 0 14 0 2 0 0 0 2 0 1 0 2 0 1 0 2 0 2 0 5 0 0 0 4 0 2 0-151 3 7 0 3 0 7 0 1 0 1 0 1 0 2 0 2 0 0 0 2 0 4 0 0 0 2 0 1 0 1 0 1 0 2 0 0 0 5 0 0 0 5 0 0 0 5 0 1 0 0 0 8 0 0 0 2 0 0 0 1 0 0 0 1 0 2 0 2 0 2 0 1 0 0 0 1 0 0 0 6 0 1 0 0 0 2 0 1 0 0 0 0 0 1 0 1 0 0 0 1 0 0 0 2 0 0 0 1 0 2 0 1 0 2 0 0 0 1 0 2 0 1 0 4 0 1 0 2 0 4 0 0 0 5 0 5 0 9 0 1 0 3 0 0 0 5 0 3 0 1 0 0 0 7 0-166 3 3 0 9 0 1 0 6 0 2 0 14 0 2 0 0 0 1 0 1 0 1 0 3 0 0 0 3 0 2 0 0 0 0 0 1 0 0 0 3 0 1 0 0 0 1 0 1 0 3 0 3 0 2 0 5 0 1 0 4 0 6 0 4 0 1 0 0 0 0 0 1 0 0 0 3 0 0 0 0 0 4 0 1 0 2 0 0 0 2 0 0 0 2 0 1 0 1 0 3 0 1 0 1 0 1 0 1 0 1 0 0 0 1 0 1 0 3 0 1 0 4 0 4 0 1 0 3 0 5 0 0 0 1 0 18 0 3 0 0 0 1 0 0 0 6 0 0 0 3 0 5 0-169 3 24 0 3 0 1 0 2 0 4 0 6 0 5 0 2 0 1 0 1 0 1 0 1 0 3 0 1 0 3 0 1 0 2 0 0 0 1 0 5 0 2 0 3 0 0 0 2 0 1 0 0 0 2 0 0 0 0 0 3 0 1 0 0 0 1 0 0 0 1 0 0 0 1 0 0 0 4 0 3 0 0 0 1 0 2 0 0 0 2 0 2 0 2 0 3 0 0 0 1 0 1 0 0 0 1 0 1 0 1 0 1 0 1 0 0 0 0 0 1 0 1 0 2 0 1 0 1 0 3 0 0 0 1 0 0 0 0 0 1 0 1 0 2 0 0 0 3 0 1 0 2 0 2 0 5 0 0 0 0 0 5 0 0 0 0 0 6 0 0 0 1 0 2 0 3 0 4 0 0 0 2 0 0 0 1 0 1 0 3 0 1 0 1 0 1 0 2 0-179 4 6 0 22 0 5 0 4 0 3 0 1 0 1 0 1 0 0 0 1 0 2 0 0 0 1 0 3 0 0 0 0 0 4 0 1 0 0 0 0 0 1 0 1 0 0 0 1 0 0 0 1 0 0 0 1 0 1 0 2 0 1 0 0 0 1 0 1 0 4 0 3 0 0 0 3 0 0 0 1 0 2 0 2 0 2 0 0 0 0 0 1 0 0 0 0 0 6 0 1 0 1 0 0 0 1 0 2 0 1 0 0 0 0 0 2 0 1 0 0 0 1 0 0 0 0 0 1 0 1 0 0 0 2 0 0 0 2 0 3 0 2 0 1 0 0 0 0 0 1 0 3 0 0 0 5 0 3 0 1 0 0 0 1 0 2 0 7 0 3 0 1 0 0 0 1 0 6 0 22 0 0 0 4 0 0 0 4 0 1 0 0 0 3 0-182 3 9 0 11 0 8 0 1 0 5 0 10 0 1 0 0 0 1 0 1 0 0 0 4 0 0 0 2 0 1 0 0 0 1 0 0 0 2 0 1 0 0 0 1 0 1 0 0 0 3 0 0 0 1 0 0 0 0 0 1 0 1 0 1 0 0 0 1 0 1 0 0 0 2 0 1 0 2 0 2 0 0 0 3 0 0 0 4 0 1 0 2 0 1 0 1 0 1 0 0 0 0 0 2 0 0 0 0 0 2 0 1 0 2 0 0 0 2 0 0 0 1 0 0 0 0 0 1 0 1 0 0 0 1 0 1 0 1 0 2 0 1 0 1 0 0 0 1 0 3 0 2 0 2 0 0 0 4 0 1 0 0 0 0 0 2 0 3 0 5 0 1 0 0 0 1 0 4 0 0 0 5 0 1 0 1 0 23 0 1 0 11 0 0 0 1 0 4 0-199 3 6 0 14 0 4 0 5 0 1 0 0 0 5 0 3 0 0 0 2 0 0 0 4 0 1 0 0 0 1 0 6 0 2 0 6 0 1 0 0 0 1 0 1 0 1 0 0 0 1 0 0 0 0 0 1 0 1 0 0 0 1 0 1 0 1 0 1 0 0 0 1 0 0 0 1 0 1 0 2 0 2 0 2 0 0 0 1 0 3 0 2 0 1 0 0 0 1 0 3 0 3 0 2 0 0 0 2 0 1 0 1 0 1 0 2 0 1 0 1 0 1 0 1 0 0 0 1 0 0 0 1 0 0 0 1 0 0 0 0 0 1 0 1 0 0 0 1 0 1 0 2 0 0 0 1 0 1 0 1 0 1 0 0 0 2 0 0 0 2 0 0 0 1 0 1 0 0 0 0 0 1 0 1 0 0 0 13 0 14 0 41 0 2 0 1 0-200 3 1 0 0 0 2 0 2 0 2 0 0 0 1 0 0 0 1 0 1 0 0 0 2 0 1 0 1 0 0 0 1 0 1 0 1 0 0 0 0 0 1 0 0 0 0 0 2 0 0 0 3 0 0 0 2 0 1 0 0 0 1 0 0 0 1 0 1 0 0 0 0 0 1 0 0 0 1 0 1 0 2 0 0 0 1 0 0 0 1 0 3 0 1 0 0 0 3 0 1 0 0 0 2 0 1 0 2 0 2 0 1 0 1 0 2 0 1 0 1 0 0 0 1 0 1 0 2 0 3 0 0 0 1 0 2 0 1 0 1 0 1 0 0 0 2 0 0 0 3 0 0 0 2 0 1 0 1 0 1 0 0 0 0 0 1 0 1 0 1 0 1 0 3 0 1 0 1 0 0 0 2 0 2 0 0 0 0 0 1 0 2 0 1 0 1 0 0 0 0 0 2 0 1 0 0 0 1 0 1 0 0 0 0 0 2 0 1 0 1 0 0 0 0 0 1 0 0 0 2 0 2 0 4 0 1 0 1 0 1 0 1 0 1 0 1 0 1 0 1 0 0 0 1 0 1 0 0 0 75 0-259 3 1 0 0 0 0 0 1 0 1 0 1 0 0 0 1 0 1 0 0 0 2 0 0 0 0 0 1 0 0 0 1 0 0 0 1 0 4 0 1 0 0 0 0 0 1 0 0 0 0 0 1 0 0 0 1 0 0 0 0 0 1 0 0 0 1 0 2 0 0 0 1 0 1 0 0 0 2 0 0 0 0 0 1 0 0 0 0 0 1 0 1 0 1 0 0 0 0 0 1 0 0 0 0 0 1 0 0 0 0 0 1 0 0 0 0 0 1 0 0 0 1 0 0 0 0 0 1 0 0 0 0 0 1 0 0 0 0 0 1 0 0 0 0 0 1 0 0 0 0 0 1 0 0 0 1 0 1 0 0 0 0 0 1 0 0 0 2 0 0 0 0 0 1 0 0 0 0 0 1 0 0 0 0 0 1 0 0 0 0 0 1 0 0 0 0 0 1 0 0 0 0 0 1 0 0 0 0 0 1 0 0 0 0 0 1 0 0 0 0 0 1 0 0 0 0 0 1 0 0 0 0 0 1 0 0 0 0 0 1 0 0 0 1 0 0 0 0 0 1 0 0 0 0 0 1 0 0 0 1 0 0 0 0 0 1 0 0 0 1 0 0 0 0 0 1 0 0 0 0 0 1 0 0 0 0 0 1 0 0 0 0 0 1 0 0 0 1 0 0 0 0 0 1 0 0 0 0 0 1 0 0 0 0 0 1 0 0 0 1 0 0 0 0 0 1 0 0 0 0 0 1 0 0 0 0 0 1 0 0 0 1 0 0 0 0 0 1 0 0 0 0 0 1 0 0 0 0 0 1 0 0 0 0 0 1 0 0 0 0 0 1 0 0 0 0 0 1 0 0 0 1 0 0 0 1 0 0 0 1 0 0 0 1 0 0 0 0 0 1 0 0 0 1 0 0 0 0 0 1 0 0 0 0 0 2 0 3 0 9 0 2 0 2 0 0 0 0 0 5 0 1 0 2 0 1 0 6 0 0 0 1 0 1 0 4 0 1 0 1 0 3 0 2 0 0 0 5 0 5 0 0 0 1 0 1 0 2 0 105 0 2 0 0 0 1 0 0 0 0 0"/>
<path class="r" clip-path="url(#c12)" d="M1195.5 556.5l3 25 8 19 3 3 3 3-5 3-11 4 1 3-8 3 6 6-5 6 11 7-2 6 11 3-8 3 3 3-8 3 18 4-43 3 27 0 12 0 5 0-25 3 2 3 4 0 23 0-23 3 3 0 1 0 2 0 13 0-28 3 19 0 4 0 3 0-21 3 27 0-12 4 6 0 1 0 0 0 1 0-72 3 47 0 7 0 1 0 19 0-29 3 3 0 8 0 11 0-25 3 5 0 3 0 0 0 1 0 5 0 2 0 4 0 4 0 0 0 10 0 0 0-31 3 5 0 1 0 0 0 7 0 5 0 3 0 1 0 0 0 1 0 0 0 7 0 1 0-31 3 6 0 3 0 1 0 3 0 3 0 1 0 1 0 4 0 2 0-30 3 2 0 0 0 3 0 1 0 3 0 0 0 1 0 1 0 1 0 1 0 0 0 1 0 3 0 2 0 1 0 2 0 1 0 1 0 9 0 1 0 2 0-45 4 4 0 7 0 1 0 2 0 1 0 2 0 2 0 1 0 2 0 1 0 1 0 0 0 0 0 2 0 0 0 1 0 1 0 1 0 0 0 0 0 1 0 3 0 1 0 0 0 1 0 11 0 8 0-49 3 7 0 2 0 5 0 5 0 5 0 3 0 1 0 2 0 1 0 2 0 3 0 2 0 3 0 4 0 5 0-47 3 2 0 1 0 0 0 5 0 2 0 5 0 1 0 1 0 0 0 2 0 1 0 2 0 3 0 1 0 1 0 1 0 2 0 1 0 0 0 1 0 0 0 0 0 2 0 6 0-51 3 6 0 1 0 1 0 1 0 1 0 0 0 1 0 2 0 0 0 1 0 2 0 2 0 0 0 4 0 1 0 0 0 1 0 1 0 1 0 2 0 0 0 1 0 2 0 0 0 0 0 1 0 1 0 2 0 4 0 0 0 0 0 1 0 5 0 0 0 1 0 1 0 0 0 6 0 0 0 1 0 1 0 0 0 1 0-57 3 3 0 0 0 1 0 3 0 0 0 0 0 1 0 2 0 1 0 0 0 1 0 1 0 2 0 1 0 0 0 1 0 1 0 0 0 1 0 0 0 0 0 3 0 2 0 1 0 1 0 1 0 0 0 0 0 1 0 2 0 2 0 0 0 2 0 1 0 1 0 0 0 2 0 0 0 0 0 2 0 1 0 2 0 1 0 1 0 0 0 1 0 2 0 5 0 0 0 4 0 2 0-60 3 3 0 1 0 2 0 1 0 0 0 1 0 1 0 2 0 0 0 1 0 1 0 1 0 2 0 2 0 0 0 1 0 4 0 4 0 0 0 1 0 1 0 2 0 1 0 0 0 1 0 1 0 1 0 1 0 0 0 1 0 0 0 0 0 1 0 3 0 0 0 5 0 3 0 1 0 0 0 7 0-62 3 1 0 1 0 3 0 5 0 2 0 3 0 4 0 1 0 3 0 0 0 2 0 2 0 1 0 0 0 1 0 2 0 1 0 2 0 0 0 7 0 0 0 2 0 0 0 1 0 2 0 0 0 1 0 3 0 0 0 0 0 1 0 0 0 6 0 0 0 3 0 5 0-69 3 3 0 0 0 2 0 1 0 1 0 0 0 2 0 1 0 0 0 0 0 1 0 0 0 1 0 1 0 1 0 0 0 1 0 0 0 1 0 3 0 0 0 1 0 0 0 0 0 1 0 1 0 2 0 0 0 1 0 1 0 1 0 0 0 1 0 1 0 1 0 1 0 1 0 1 0 1 0 0 0 2 0 1 0 0 0 0 0 2 0 1 0 0 0 0 0 1 0 1 0 0 0 1 0 1 0 1 0 0 0 0 0 1 0 1 0 1 0 0 0 1 0 0 0 2 0 2 0 0 0 1 0 0 0 0 0 2 0 0 0 2 0 2 0 0 0 1 0 1 0 3 0 1 0 1 0 1 0 2 0-68 4 1 0 0 0 1 0 3 0 4 0 1 0 1 0 0 0 2 0 0 0 1 0 1 0 2 0 4 0 0 0 1 0 0 0 1 0 1 0 2 0 1 0 1 0 0 0 1 0 0 0 1 0 2 0 1 0 1 0 1 0 1 0 2 0 1 0 1 0 1 0 2 0 1 0 0 0 1 0 0 0 2 0 1 0 1 0 0 0 1 0 1 0 2 0 4 0 0 0 1 0 1 0 1 0 1 0 0 0 1 0 0 0 3 0 1 0 0 0 3 0-73 3 4 0 1 0 1 0 0 0 0 0 1 0 0 0 1 0 1 0 0 0 1 0 1 0 1 0 0 0 2 0 1 0 2 0 0 0 2 0 0 0 1 0 0 0 0 0 1 0 1 0 1 0 0 0 1 0 0 0 3 0 1 0 0 0 5 0 0 0 1 0 0 0 1 0 0 0 1 0 1 0 0 0 1 0 0 0 3 0 0 0 2 0 1 0 0 0 1 0 1 0 0 0 1 0 0 0 0 0 3 0 0 0 1 0 1 0 1 0 0 0 1 0 1 0 0 0 2 0 1 0 1 0 1 0 1 0 2 0 0 0 1 0 0 0 1 0 0 0 2 0 2 0 1 0 0 0 0 0 1 0 4 0-161 3 82 0 6 0 2 0 0 0 3 0 0 0 1 0 0 0 2 0 1 0 0 0 1 0 1 0 0 0 3 0 0 0 5 0 1 0 0 0 1 0 0 0 1 0 1 0 0 0 2 0 1 0 0 0 0 0 3 0 1 0 1 0 2 0 2 0 0 0 1 0 1 0 1 0 1 0 1 0 0 0 3 0 1 0 0 0 2 0 0 0 4 0 0 0 1 0 0 0 1 0 2 0 2 0 0 0 3 0 1 0 1 0 1 0 1 0 1 0 2 0 1 0 1 0 2 0 2 0 1 0-77 3 1 0 0 0 2 0 1 0 0 0 1 0 0 0 1 0 2 0 0 0 0 0 1 0 2 0 0 0 1 0 1 0 0 0 1 0 1 0 2 0 0 0 1 0 0 0 1 0 0 0 1 0 0 0 1 0 0 0 1 0 1 0 2 0 1 0 2 0 0 0 1 0 1 0 0 0 1 0 0 0 1 0 2 0 1 0 1 0 0 0 0 0 2 0 1 0 0 0 0 0 2 0 1 0 1 0 0 0 1 0 1 0 1 0 0 0 2 0 0 0 1 0 1 0 0 0 2 0 2 0 1 0 1 0 2 0 1 0 1 0 2 0 0 0 2 0 0 0 1 0 0 0 0 0 2 0 0 0 1 0 0 0 1 0 0 0 1 0 0 0 0 0 1 0 1 0 1 0 5 0-198 3 4 0 2 0 1 0 3 0 3 0 5 0 3 0 8 0 2 0 0 0 1 0 0 0 0 0 1 0 0 0 0 0 1 0 0 0 0 0 1 0 0 0 0 0 1 0 0 0 0 0 1 0 0 0 0 0 1 0 0 0 0 0 1 0 0 0 0 0 1 0 0 0 0 0 1 0 0 0 0 0 1 0 0 0 0 0 1 0 0 0 0 0 1 0 0 0 0 0 2 0 0 0 0 0 1 0 0 0 0 0 1 0 0 0 0 0 1 0 0 0 1 0 0 0 1 0 0 0 0 0 1 0 0 0 0 0 1 0 0 0 0 0 1 0 1 0 1 0 0 0 0 0 1 0 0 0 1 0 0 0 0 0 1 0 0 0 0 0 2 0 0 0 0 0 1 0 0 0 0 0 1 0 0 0 0 0 1 0 1 0 0 0 1 0 0 0 0 0 1 0 0 0 0 0 1 0 0 0 1 0 0 0 1 0 0 0 0 0 1 0 0 0 0 0 1 0 0 0 0 0 1 0 0 0 1 0 0 0 1 0 1 0 0 0 0 0 1 0 0 0 0 0 1 0 0 0 0 0 1 0 0 0 0 0 1 0 0 0 0 0 1 0 0 0 1 0 0 0 1 0 0 0 0 0 1 0 0 0 0 0 1 0 0 0 1 0 0 0 1 0 0 0 0 0 1 0 0 0 0 0 1 0 0 0 0 0 1 0 0 0 0 0 1 0 0 0 0 0 1 0 0 0 0 0 1 0 0 0 0 0 1 0 0 0 0 0 1 0 0 0 0 0 1 0 0 0 0 0 1 0 0 0 0 0 1 0 0 0 0 0 1 0 0 0 0 0 1 0 0 0 0 0 1 0 0 0 0 0 1 0 0 0 0 0 1 0 0 0 0 0 1 0 0 0 0 0 1 0 0 0 0 0 1 0 0 0 0 0 1 0 0 0 0 0 1 0 0 0 0 0 1 0 0 0 0 0 1 0 0 0 0 0 1 0 0 0 0 0 1 0 0 0 0 0 1 0 0 0 0 0 1 0 0 0 0 0 1 0 0 0 0 0 1 0 0 0 0 0 1 0 0 0 1 0 0 0 0 0 1 0 0 0 0 0 1 0 0 0 0 0 1 0 0 0 1 0 0 0 0 0 1 0 0 0 0 0 1 0 0 0 0 0 1 0 1 0 0 0 1 0 0 0 1 0 0 0 1 0 1 0 0 0 0 0 2 0 0 0 0 0 1 0 0 0 0 0 1 0 1 0 0 0 1 0 1 0 0 0 0 0 2 0 0 0 1 0 0 0 1 0 0 0 2 0 0 0 1 0 0 0 0 0 1 0 1 0 0 0 1 0 1 0 0 0 1 0 0 0 1 0 0 0 0 0 1 0 0 0 1 0 0 0 0 0 1 0 1 0 0 0 1 0 1 0 1 0 0 0 1 0 0 0 1 0 0 0 1 0 0 0 1 0 0 0 1 0 0 0 1 0 1 0 0 0 0 0 1 0 2 0 0 0 1 0 0 0 1 0 0 0 1 0 0 0 0 0 1 0 0 0 1 0 0 0 1 0 1 0 0 0 0 0 1 0 0 0 1 0 0 0 1 0 1 0 0 0 1 0 1 0 0 0 0 0 1 0 0 0 1 0 1 0 0 0 1 0 0 0 0 0 1 0 1 0 0 0 0 0 1 0 0 0 0 0 1 0 1 0 0 0 0 0 1 0 0 0 1 0 0 0 0 0 1 0 0 0 1 0 0 0 0 0 1 0 0 0 0 0 1 0 0 0 1 0 0 0 0 0 1 0 0 0 0 0"/>
<path class="tk" d="M953.5 741.5v-5.5M953.5 459.5v5.5M991.5 741.5v-5.5M991.5 459.5v5.5M1029.5 741.5v-5.5M1029.5 459.5v5.5M1067.5 741.5v-5.5M1067.5 459.5v5.5M1104.5 741.5v-5.5M1104.5 459.5v5.5M1142.5 741.5v-5.5M1142.5 459.5v5.5M1180.5 741.5v-5.5M1180.5 459.5v5.5M1218.5 741.5v-5.5M1218.5 459.5v5.5M1256.5 741.5v-5.5M1256.5 459.5v5.5M953.5 741.5h5.5M1256.5 741.5h-5.5M953.5 710.5h5.5M1256.5 710.5h-5.5M953.5 678.5h5.5M1256.5 678.5h-5.5M953.5 647.5h5.5M1256.5 647.5h-5.5M953.5 616.5h5.5M1256.5 616.5h-5.5M953.5 584.5h5.5M1256.5 584.5h-5.5M953.5 553.5h5.5M1256.5 553.5h-5.5M953.5 522.5h5.5M1256.5 522.5h-5.5M953.5 490.5h5.5M1256.5 490.5h-5.5M953.5 459.5h5.5M1256.5 459.5h-5.5"/>
<rect class="ax" x="953.5" y="459.5" width="303" height="282"/>
<text class="t" x="953.2" y="759.4" text-anchor="middle">−4</text>
<text class="t" x="991.1" y="759.4" text-anchor="middle">−2</text>
<text class="t" x="1029" y="759.4" text-anchor="middle">0</text>
<text class="t" x="1066.9" y="759.4" text-anchor="middle">2</text>
<text class="t" x="1104.9" y="759.4" text-anchor="middle">4</text>
<text class="t" x="1142.8" y="759.4" text-anchor="middle">6</text>
<text class="t" x="1180.7" y="759.4" text-anchor="middle">8</text>
<text class="t" x="1218.6" y="759.4" text-anchor="middle">10</text>
<text class="t" x="1256.5" y="759.4" text-anchor="middle">12</text>
<text class="t" x="948.4" y="746.5" text-anchor="end">0</text>
<text class="t" x="948.4" y="715.1" text-anchor="end">10</text>
<text class="t" x="948.4" y="683.7" text-anchor="end">20</text>
<text class="t" x="948.4" y="652.4" text-anchor="end">30</text>
<text class="t" x="948.4" y="621" text-anchor="end">40</text>
<text class="t" x="948.4" y="589.6" text-anchor="end">50</text>
<text class="t" x="948.4" y="558.2" text-anchor="end">60</text>
<text class="t" x="948.4" y="526.9" text-anchor="end">70</text>
<text class="t" x="948.4" y="495.5" text-anchor="end">80</text>
<text class="t" x="948.4" y="464.1" text-anchor="end">90</text>
</g>
<g id="ax13">
<path class="b" clip-path="url(#c13)" d="M1391.5 481.5l-29 25-39 28 143 3-3 3-65 16 4 3-10 3 82 0-88 7 32 0-72 3 36 6 81 0-111 3 10 0 71 0 10 0-92 3 78 3 19 0-105 10 9 3 29 0 65 0-80 3 22 3 7 0 81 0-96 3 17 0 47 0 18 0-89 4 76 0 49 0 5 0-121 3 41 0-57 3 10 0 13 3-59 3 28 0 16 0 4 0-27 3 9 0 2 0 51 0 35 0-91 3 23 0-57 4 56 0 84 0-86 3 12 3 20 0 4 0 26 0 15 0 28 0-156 3 1 0 4 0 14 0 21 0 24 0 37 0 2 0 19 0-115 3 13 0 0 0 10 0 103 0 1 0-133 3 24 0 27 0 33 0 2 0 26 0-121 3 18 0 3 0 2 0 68 0 1 0 3 0 14 0 23 0 31 0 2 0-152 3 15 0 30 0 58 0 15 0-129 4 3 0 8 0 24 0 6 0 19 0 8 0 72 0 17 0 15 0 4 0-178 3 30 0 32 0 20 0 59 0-136 3 12 0 7 0 29 0 18 0 8 0 1 0 104 0-157 3 2 0 0 0 13 0 1 0 3 0 8 0 22 0 1 0 32 0 17 0 54 0-162 3 7 0 6 0 5 0 1 0 8 0 0 0 14 0 12 0 14 0 6 0 38 0 15 0 1 0 3 0-128 3 16 0 11 0 10 0 2 0 4 0 1 0 10 0 3 0 9 0 5 0 10 0 80 0-163 3 0 0 3 0 4 0 5 0 6 0 8 0 1 0 6 0 18 0 4 0 5 0 0 0 2 0 5 0 5 0 0 0 3 0 53 0-138 4 10 0 1 0 8 0 3 0 5 0 1 0 2 0 0 0 11 0 7 0 9 0 5 0 4 0 0 0 1 0 0 0 5 0 1 0 6 0 1 0 1 0 0 0 19 0 8 0 13 0 7 0-131 3 1 0 0 0 14 0 0 0 5 0 8 0 2 0 0 0 2 0 0 0 11 0 8 0 3 0 2 0 0 0 2 0 2 0 4 0 22 0 1 0 2 0 53 0 10 0-155 3 1 0 12 0 3 0 0 0 0 0 2 0 2 0 9 0 0 0 2 0 5 0 2 0 4 0 5 0 3 0 4 0 0 0 0 0 3 0 3 0 3 0 1 0 5 0 1 0 2 0 1 0 1 0 2 0 0 0 2 0 4 0 4 0 1 0 7 0 2 0 5 0 1 0 5 0 4 0 3 0 4 0 1 0 38 0-153 3 18 0 7 0 0 0 4 0 6 0 1 0 6 0 6 0 3 0 4 0 1 0 4 0 4 0 5 0 0 0 11 0 3 0 9 0 4 0 0 0 2 0 1 0 0 0 4 0 9 0 2 0 2 0 11 0 20 0 2 0 26 0-178 3 9 0 0 0 1 0 0 0 5 0 9 0 2 0 1 0 4 0 0 0 1 0 7 0 0 0 3 0 1 0 16 0 2 0 1 0 10 0 2 0 2 0 4 0 2 0 9 0 2 0 6 0 6 0 0 0 1 0 8 0 7 0 1 0 7 0 0 0 5 0 8 0 12 0 14 0 1 0 6 0 2 0-181 3 1 0 7 0 0 0 1 0 3 0 1 0 9 0 3 0 3 0 2 0 2 0 4 0 1 0 3 0 1 0 8 0 5 0 1 0 1 0 0 0 6 0 2 0 6 0 5 0 1 0 5 0 2 0 1 0 0 0 1 0 0 0 0 0 13 0 0 0 3 0 1 0 6 0 0 0 14 0 2 0 17 0 13 0 34 0 12 0-200 3 1 0 1 0 1 0 0 0 2 0 9 0 1 0 9 0 3 0 3 0 12 0 3 0 0 0 0 0 6 0 10 0 4 0 4 0 1 0 7 0 6 0 0 0 3 0 1 0 3 0 0 0 4 0 2 0 2 0 6 0 2 0 1 0 3 0 7 0 4 0 2 0 1 0 5 0 1 0 10 0 6 0 1 0 12 0-158 4 2 0 1 0 6 0 1 0 3 0 1 0 0 0 0 0 7 0 1 0 1 0 1 0 0 0 8 0 1 0 5 0 1 0 4 0 3 0 0 0 6 0 0 0 3 0 0 0 0 0 5 0 1 0 8 0 1 0 0 0 0 0 5 0 4 0 0 0 2 0 4 0 6 0 6 0 5 0 7 0 2 0 3 0 0 0 2 0 5 0 4 0 6 0 0 0 0 0 1 0 3 0 0 0 16 0 1 0 11 0-156 3 1 0 0 0 1 0 9 0 2 0 1 0 0 0 7 0 0 0 3 0 0 0 3 0 1 0 1 0 1 0 0 0 0 0 1 0 2 0 1 0 0 0 1 0 3 0 1 0 1 0 3 0 1 0 1 0 1 0 4 0 3 0 3 0 0 0 2 0 1 0 0 0 3 0 0 0 1 0 2 0 0 0 4 0 3 0 1 0 6 0 1 0 0 0 0 0 3 0 6 0 2 0 1 0 2 0 10 0 2 0 7 0 28 0 4 0 2 0 14 0 2 0-170 3 4 0 3 0 2 0 2 0 2 0 1 0 1 0 1 0 1 0 2 0 2 0 0 0 1 0 2 0 1 0 1 0 3 0 1 0 5 0 3 0 3 0 3 0 1 0 2 0 3 0 2 0 1 0 0 0 3 0 0 0 0 0 2 0 3 0 2 0 2 0 6 0 2 0 1 0 2 0 2 0 1 0 8 0 1 0 6 0 2 0 0 0 0 0 3 0 5 0 8 0 1 0 1 0 7 0 0 0 9 0 2 0 2 0 3 0 8 0 1 0 0 0 1 0 5 0 10 0 5 0 2 0 9 0 0 0 14 0-193 3 2 0 3 0 0 0 1 0 1 0 1 0 2 0 2 0 0 0 1 0 1 0 2 0 0 0 0 0 1 0 3 0 2 0 1 0 0 0 0 0 2 0 0 0 2 0 3 0 4 0 4 0 0 0 2 0 2 0 1 0 0 0 1 0 1 0 1 0 0 0 1 0 1 0 3 0 1 0 3 0 1 0 2 0 0 0 4 0 0 0 2 0 2 0 1 0 0 0 0 0 1 0 1 0 0 0 1 0 1 0 0 0 4 0 7 0 0 0 4 0 1 0 0 0 5 0 7 0 0 0 0 0 2 0 5 0 3 0 3 0 4 0 1 0 3 0 7 0 1 0 4 0 1 0 0 0 3 0 10 0 3 0 3 0 3 0 3 0 1 0 3 0 0 0 1 0 4 0 0 0 1 0 4 0 3 0 7 0 1 0 4 0-187 3 0 0 2 0 0 0 4 0 1 0 1 0 1 0 1 0 1 0 0 0 0 0 1 0 0 0 1 0 1 0 0 0 1 0 0 0 0 0 1 0 1 0 0 0 0 0 1 0 0 0 0 0 2 0 3 0 1 0 0 0 1 0 2 0 0 0 1 0 0 0 3 0 0 0 1 0 0 0 0 0 1 0 1 0 0 0 1 0 1 0 1 0 1 0 2 0 1 0 0 0 1 0 0 0 1 0 2 0 0 0 2 0 0 0 1 0 2 0 0 0 1 0 3 0 1 0 2 0 0 0 3 0 0 0 2 0 1 0 0 0 0 0 1 0 1 0 1 0 0 0 1 0 2 0 2 0 1 0 0 0 1 0 1 0 1 0 0 0 1 0 1 0 2 0 1 0 4 0 1 0 2 0 2 0 1 0 6 0 4 0 0 0 2 0 1 0 4 0 2 0 0 0 6 0 2 0 3 0 4 0 1 0 2 0 7 0 1 0 7 0 1 0 2 0 6 0 1 0 1 0 3 0 6 0 3 0 7 0 1 0 0 0 1 0 6 0 3 0 6 0 5 0-194 3 2 0 0 0 2 0 0 0 1 0 0 0 1 0 2 0 0 0 2 0 2 0 1 0 0 0 2 0 0 0 1 0 1 0 2 0 5 0 1 0 1 0 0 0 1 0 0 0 1 0 1 0 0 0 0 0 1 0 1 0 3 0 5 0 0 0 3 0 1 0 0 0 3 0 1 0 0 0 3 0 1 0 1 0 0 0 0 0 3 0 0 0 1 0 0 0 1 0 1 0 1 0 2 0 2 0 1 0 2 0 1 0 1 0 3 0 1 0 3 0 1 0 2 0 1 0 2 0 2 0 1 0 1 0 0 0 7 0 0 0 2 0 1 0 1 0 3 0 1 0 2 0 3 0 1 0 1 0 1 0 1 0 6 0 4 0 3 0 0 0 2 0 1 0 7 0 5 0 0 0 2 0 8 0 2 0 2 0 1 0 0 0 1 0 8 0 6 0 1 0 0 0 4 0 8 0 9 0 1 0 0 0-189 3 1 0 1 0 1 0 0 0 1 0 1 0 1 0 0 0 1 0 2 0 0 0 3 0 1 0 0 0 1 0 2 0 1 0 0 0 1 0 1 0 0 0 1 0 0 0 0 0 1 0 0 0 1 0 1 0 0 0 1 0 0 0 1 0 0 0 2 0 0 0 3 0 0 0 1 0 1 0 1 0 1 0 1 0 2 0 0 0 1 0 0 0 1 0 3 0 1 0 0 0 0 0 3 0 0 0 1 0 1 0 1 0 1 0 0 0 1 0 1 0 0 0 4 0 1 0 1 0 0 0 1 0 1 0 0 0 1 0 2 0 1 0 0 0 0 0 1 0 0 0 3 0 2 0 1 0 0 0 1 0 0 0 2 0 0 0 2 0 0 0 1 0 0 0 0 0 1 0 0 0 4 0 1 0 0 0 3 0 0 0 0 0 1 0 4 0 0 0 2 0 0 0 1 0 0 0 1 0 1 0 4 0 1 0 1 0 3 0 0 0 0 0 3 0 0 0 1 0 1 0 0 0 0 0 3 0 3 0 4 0 1 0 1 0 1 0 3 0 2 0 2 0 3 0 2 0 4 0 1 0 0 0 4 0 6 0 1 0 0 0 0 0 2 0 1 0 4 0 0 0 0 0 5 0 8 0 2 0 1 0 9 0 0 0 2 0-185 3 0 0 1 0 1 0 1 0 2 0 1 0 2 0 0 0 1 0 1 0 0 0 3 0 1 0 1 0 0 0 0 0 2 0 1 0 0 0 0 0 1 0 0 0 2 0 1 0 4 0 1 0 1 0 0 0 1 0 1 0 0 0 0 0 1 0 0 0 1 0 1 0 0 0 1 0 0 0 2 0 0 0 0 0 1 0 1 0 1 0 0 0 1 0 0 0 1 0 0 0 1 0 0 0 1 0 0 0 1 0 0 0 0 0 1 0 0 0 0 0 1 0 0 0 1 0 0 0 0 0 2 0 0 0 1 0 0 0 0 0 1 0 0 0 1 0 0 0 1 0 0 0 0 0 1 0 1 0 0 0 1 0 0 0 2 0 0 0 1 0 0 0 1 0 1 0 2 0 0 0 2 0 1 0 0 0 1 0 0 0 1 0 0 0 1 0 1 0 1 0 1 0 1 0 0 0 3 0 1 0 1 0 1 0 0 0 2 0 3 0 3 0 1 0 1 0 0 0 1 0 0 0 1 0 1 0 3 0 8 0 3 0 4 0 3 0 0 0 0 0 1 0 3 0 1 0 0 0 2 0 3 0 0 0 2 0 0 0 1 0 2 0 2 0 1 0 2 0 0 0 3 0 1 0 0 0 3 0 1 0 6 0 6 0 0 0 1 0 1 0 1 0 1 0 0 0 7 0 4 0 1 0 1 0 2 0 0 0 1 0 2 0 0 0 2 0 0 0 3 0 0 0 9 0 6 0 8 0-203 4 0 0 2 0 0 0 2 0 0 0 1 0 1 0 0 0 1 0 0 0 1 0 0 0 1 0 0 0 2 0 0 0 0 0 1 0 0 0 0 0 1 0 0 0 1 0 0 0 3 0 0 0 3 0 0 0 0 0 1 0 0 0 1 0 0 0 1 0 0 0 0 0 2 0 0 0 0 0 1 0 1 0 0 0 1 0 1 0 0 0 2 0 0 0 2 0 0 0 0 0 1 0 1 0 1 0 1 0 1 0 0 0 1 0 0 0 1 0 0 0 1 0 0 0 1 0 0 0 0 0 1 0 1 0 2 0 1 0 2 0 0 0 2 0 0 0 1 0 4 0 0 0 1 0 2 0 1 0 1 0 2 0 0 0 1 0 0 0 2 0 1 0 2 0 2 0 1 0 0 0 1 0 2 0 2 0 1 0 0 0 1 0 1 0 0 0 1 0 0 0 0 0 1 0 0 0 0 0 3 0 0 0 1 0 1 0 4 0 1 0 1 0 0 0 2 0 1 0 2 0 1 0 3 0 1 0 1 0 0 0 0 0 1 0 1 0 0 0 1 0 5 0 7 0 0 0 1 0 0 0 1 0 1 0 4 0 0 0 1 0 0 0 4 0 2 0 1 0 4 0 0 0 2 0 2 0 5 0 0 0 2 0 5 0 1 0 1 0 1 0 0 0 3 0 0 0 1 0 2 0 1 0 4 0 1 0 5 0 2 0 3 0 1 0 1 0 9 0 3 0-194 3 1 0 1 0 0 0 1 0 0 0 1 0 1 0 0 0 1 0 1 0 1 0 1 0 0 0 1 0 1 0 1 0 1 0 0 0 1 0 1 0 1 0 0 0 0 0 1 0 0 0 0 0 2 0 0 0 0 0 1 0 0 0 0 0 2 0 0 0 0 0 1 0 0 0 1 0 1 0 1 0 1 0 0 0 1 0 1 0 1 0 1 0 0 0 1 0 1 0 0 0 2 0 0 0 1 0 0 0 1 0 0 0 2 0 1 0 1 0 1 0 2 0 0 0 1 0 1 0 0 0 1 0 1 0 0 0 1 0 1 0 3 0 0 0 7 0 0 0 2 0 0 0 1 0 1 0 2 0 0 0 1 0 5 0 0 0 3 0 0 0 2 0 0 0 1 0 1 0 6 0 0 0 1 0 1 0 1 0 0 0 1 0 0 0 0 0 1 0 0 0 1 0 0 0 1 0 0 0 1 0 0 0 1 0 0 0 0 0 2 0 1 0 2 0 0 0 2 0 0 0 1 0 0 0 3 0 3 0 0 0 0 0 1 0 0 0 1 0 1 0 0 0 2 0 2 0 2 0 2 0 2 0 2 0 1 0 1 0 1 0 0 0 4 0 0 0 1 0 7 0 0 0 8 0 0 0 1 0 3 0 1 0 2 0 3 0 0 0 1 0 5 0 0 0 2 0 2 0 2 0 1 0 2 0 0 0 2 0 1 0 8 0 0 0 6 0 3 0 4 0-195 3 0 0 1 0 1 0 1 0 1 0 0 0 1 0 1 0 2 0 1 0 1 0 1 0 2 0 0 0 1 0 0 0 1 0 0 0 1 0 2 0 0 0 0 0 2 0 3 0 1 0 0 0 1 0 0 0 0 0 1 0 1 0 1 0 0 0 1 0 2 0 2 0 6 0 6 0 0 0 0 0 46 0 2 0 6 0 0 0 1 0 0 0 2 0 0 0 1 0 5 0 1 0 11 0 0 0 1 0 0 0 7 0 3 0 2 0 1 0 1 0 1 0 1 0 1 0 1 0 3 0 0 0 1 0 0 0 1 0 2 0 3 0 1 0 0 0 3 0 6 0 4 0 2 0 1 0 1 0 2 0 4 0 8 0 1 0 1 0 0 0 0 0 5 0 1 0 1 0 3 0 1 0 1 0 1 0 7 0-203 3 1 0 1 0 0 0 0 0 4 0 1 0 0 0 1 0 1 0 1 0 1 0 0 0 1 0 0 0 2 0 4 0 0 0 2 0 0 0 1 0 0 0 0 0 3 0 81 0 0 0 0 0 1 0 25 0 7 0 1 0 0 0 1 0 15 0 1 0 1 0 0 0 4 0 1 0 8 0 0 0 1 0 1 0 5 0 0 0 1 0 0 0 9 0 5 0 5 0 2 0 2 0-201 3 0 0 1 0 0 0 1 0 1 0 0 0 0 0 1 0 0 0 0 0 1 0 0 0 0 0 1 0 0 0 0 0 1 0 0 0 1 0 1 0 0 0 1 0 0 0 2 0 1 0 0 0 2 0 4 0 238 0 2 0 1 0 1 0 4 0 2 0 3 0 3 0 4 0 5 0 5 0 4 0 4 0 3 0 3 0"/>
<path class="r" clip-path="url(#c13)" d="M1466.5 537.5l-3 3-61 19 72 3-11 16-20 3 5 6-2 13 30 6-32 3 18 0-13 4 49 0 5 0-55 15 15 7-9 6 28 0-34 3 11 3-20 3 11 3 31 0 2 0-34 3 11 4 17 0 15 0 4 0-37 3 43 3-58 3 54 0-51 3 15 0 1 0 3 0 33 3-35 3-58 4 41 0 7 0-44 3 55 0 10 0-73 3 4 0 15 0 13 0 43 0-61 3 4 0 3 0 4 0 13 0 11 0 20 0 2 0 26 0-98 3 13 0 6 0 6 0 1 0 8 0 7 0 1 0 7 0 0 0 5 0 8 0 12 0 14 0 1 0 6 0 2 0-96 3 0 0 13 0 4 0 22 0 17 0 13 0 34 0 12 0-135 3 18 0 7 0 4 0 2 0 8 0 3 0 3 0 7 0 4 0 2 0 1 0 5 0 1 0 10 0 6 0 1 0 12 0-88 4 5 0 4 0 2 0 4 0 12 0 5 0 12 0 0 0 2 0 9 0 6 0 0 0 0 0 1 0 3 0 0 0 16 0 1 0 11 0-94 3 3 0 8 0 6 0 1 0 0 0 9 0 2 0 3 0 10 0 9 0 28 0 4 0 2 0 14 0 2 0-114 3 5 0 2 0 10 0 5 0 9 0 1 0 6 0 2 0 3 0 5 0 26 0 2 0 2 0 3 0 8 0 1 0 0 0 1 0 5 0 10 0 5 0 2 0 9 0 0 0 14 0-159 3 6 0 16 0 10 0 1 0 0 0 20 0 0 0 5 0 7 0 18 0 10 0 1 0 4 0 1 0 0 0 3 0 10 0 3 0 3 0 3 0 3 0 1 0 3 0 0 0 1 0 4 0 0 0 1 0 4 0 3 0 7 0 1 0 4 0-144 3 12 0 5 0 3 0 2 0 1 0 0 0 0 0 1 0 2 0 2 0 2 0 1 0 1 0 0 0 10 0 2 0 2 0 11 0 2 0 13 0 9 0 1 0 2 0 7 0 1 0 7 0 1 0 2 0 6 0 1 0 1 0 3 0 6 0 3 0 7 0 1 0 0 0 1 0 6 0 3 0 6 0 5 0-143 3 0 0 6 0 4 0 2 0 0 0 1 0 3 0 5 0 3 0 1 0 9 0 7 0 0 0 7 0 6 0 1 0 1 0 2 0 15 0 1 0 7 0 5 0 0 0 2 0 8 0 2 0 2 0 1 0 0 0 1 0 8 0 6 0 1 0 0 0 4 0 8 0 9 0 1 0 0 0-150 3 3 0 1 0 7 0 0 0 0 0 8 0 1 0 1 0 0 0 3 0 1 0 0 0 7 0 5 0 1 0 1 0 0 0 0 0 5 0 3 0 0 0 1 0 7 0 1 0 1 0 4 0 1 0 4 0 0 0 5 0 0 0 0 0 10 0 2 0 1 0 3 0 2 0 2 0 3 0 2 0 4 0 1 0 0 0 4 0 6 0 1 0 0 0 0 0 2 0 1 0 4 0 0 0 0 0 5 0 8 0 2 0 1 0 9 0 0 0 2 0-164 3 9 0 1 0 5 0 4 0 2 0 2 0 1 0 1 0 3 0 2 0 2 0 1 0 1 0 1 0 4 0 1 0 2 0 0 0 3 0 2 0 1 0 1 0 1 0 0 0 5 0 5 0 3 0 3 0 2 0 1 0 20 0 3 0 1 0 9 0 0 0 2 0 0 0 1 0 2 0 2 0 1 0 2 0 0 0 3 0 1 0 0 0 3 0 1 0 6 0 6 0 0 0 1 0 1 0 1 0 1 0 0 0 7 0 4 0 1 0 1 0 2 0 0 0 1 0 2 0 0 0 2 0 0 0 3 0 0 0 9 0 6 0 8 0-181 4 11 0 1 0 4 0 1 0 3 0 1 0 3 0 3 0 0 0 0 0 3 0 2 0 0 0 1 0 0 0 1 0 0 0 0 0 1 0 0 0 2 0 2 0 2 0 3 0 1 0 1 0 0 0 0 0 1 0 0 0 1 0 1 0 2 0 5 0 1 0 1 0 1 0 0 0 1 0 4 0 1 0 4 0 7 0 5 0 1 0 0 0 0 0 8 0 7 0 1 0 0 0 1 0 1 0 4 0 0 0 1 0 0 0 4 0 2 0 1 0 4 0 0 0 2 0 2 0 5 0 0 0 2 0 2 0 3 0 1 0 1 0 1 0 0 0 3 0 0 0 1 0 2 0 1 0 4 0 1 0 5 0 2 0 3 0 1 0 1 0 9 0 3 0-163 3 2 0 2 0 0 0 1 0 4 0 2 0 6 0 1 0 0 0 1 0 1 0 2 0 1 0 0 0 1 0 1 0 2 0 1 0 4 0 2 0 1 0 1 0 1 0 0 0 1 0 0 0 2 0 1 0 0 0 2 0 1 0 0 0 1 0 1 0 1 0 0 0 1 0 0 0 1 0 0 0 1 0 4 0 1 0 1 0 1 0 1 0 0 0 3 0 2 0 2 0 1 0 5 0 6 0 0 0 1 0 2 0 4 0 6 0 3 0 0 0 1 0 1 0 0 0 0 0 1 0 1 0 2 0 0 0 1 0 7 0 0 0 8 0 0 0 1 0 1 0 2 0 1 0 1 0 1 0 1 0 0 0 2 0 0 0 1 0 5 0 0 0 2 0 2 0 2 0 1 0 2 0 0 0 2 0 1 0 8 0 0 0 6 0 3 0 4 0-186 3 7 0 8 0 0 0 1 0 0 0 1 0 2 0 0 0 0 0 1 0 0 0 0 0 2 0 1 0 0 0 1 0 0 0 0 0 1 0 0 0 1 0 0 0 1 0 1 0 0 0 1 0 0 0 1 0 1 0 1 0 1 0 1 0 1 0 0 0 1 0 0 0 1 0 0 0 1 0 1 0 0 0 1 0 1 0 0 0 1 0 1 0 0 0 1 0 0 0 0 0 1 0 1 0 0 0 0 0 1 0 0 0 1 0 1 0 0 0 1 0 1 0 0 0 4 0 1 0 0 0 1 0 1 0 0 0 1 0 1 0 0 0 1 0 1 0 1 0 3 0 1 0 0 0 2 0 0 0 0 0 1 0 0 0 0 0 1 0 0 0 0 0 1 0 0 0 1 0 1 0 1 0 1 0 1 0 0 0 2 0 0 0 0 0 1 0 1 0 1 0 0 0 1 0 1 0 0 0 0 0 1 0 3 0 0 0 1 0 1 0 0 0 1 0 0 0 1 0 0 0 1 0 0 0 0 0 1 0 4 0 1 0 0 0 0 0 1 0 1 0 1 0 0 0 1 0 1 0 0 0 1 0 0 0 1 0 0 0 1 0 1 0 0 0 1 0 2 0 0 0 1 0 0 0 2 0 1 0 1 0 2 0 1 0 0 0 1 0 2 0 2 0 1 0 1 0 1 0 1 0 1 0 1 0 3 0 0 0 1 0 0 0 0 0 1 0 2 0 0 0 3 0 1 0 0 0 3 0 6 0 4 0 2 0 1 0 1 0 2 0 4 0 8 0 1 0 1 0 0 0 0 0 5 0 1 0 1 0 3 0 1 0 1 0 1 0 7 0-192 3 5 0 2 0 1 0 2 0 0 0 2 0 2 0 0 0 2 0 0 0 1 0 1 0 1 0 0 0 1 0 0 0 1 0 1 0 1 0 1 0 1 0 0 0 1 0 1 0 0 0 1 0 1 0 0 0 0 0 3 0 0 0 1 0 1 0 0 0 2 0 0 0 1 0 1 0 1 0 0 0 0 0 1 0 0 0 1 0 0 0 0 0 2 0 0 0 0 0 1 0 3 0 0 0 1 0 1 0 1 0 1 0 1 0 1 0 0 0 1 0 0 0 1 0 1 0 1 0 1 0 0 0 1 0 0 0 0 0 1 0 0 0 1 0 0 0 3 0 1 0 1 0 1 0 1 0 1 0 0 0 2 0 1 0 1 0 2 0 0 0 1 0 0 0 1 0 1 0 1 0 0 0 1 0 1 0 1 0 1 0 1 0 0 0 2 0 1 0 0 0 1 0 2 0 0 0 3 0 2 0 1 0 1 0 0 0 1 0 1 0 1 0 0 0 2 0 1 0 2 0 0 0 1 0 1 0 1 0 0 0 1 0 0 0 1 0 1 0 1 0 0 0 2 0 0 0 0 0 1 0 3 0 0 0 1 0 1 0 1 0 1 0 0 0 1 0 0 0 0 0 1 0 3 0 0 0 0 0 1 0 1 0 0 0 0 0 3 0 0 0 1 0 2 0 1 0 0 0 1 0 2 0 0 0 1 0 4 0 0 0 1 0 1 0 0 0 3 0 0 0 1 0 4 0 0 0 0 0 2 0 2 0 1 0 0 0 1 0 1 0 5 0 0 0 1 0 0 0 2 0 4 0 3 0 4 0 1 0 1 0 0 0 2 0 2 0 2 0 2 0-196 3 2 0 2 0 0 0 1 0 2 0 0 0 1 0 0 0 0 0 1 0 0 0 1 0 1 0 0 0 0 0 1 0 0 0 0 0 1 0 0 0 1 0 0 0 1 0 0 0 1 0 0 0 1 0 1 0 0 0 0 0 1 0 0 0 1 0 0 0 1 0 0 0 1 0 0 0 0 0 1 0 0 0 1 0 0 0 1 0 0 0 1 0 0 0 1 0 0 0 1 0 0 0 1 0 0 0 0 0 1 0 1 0 0 0 1 0 0 0 0 0 1 0 0 0 0 0 1 0 0 0 1 0 1 0 0 0 1 0 0 0 0 0 1 0 0 0 1 0 0 0 0 0 1 0 0 0 0 0 1 0 0 0 1 0 0 0 1 0 1 0 0 0 1 0 1 0 0 0 1 0 0 0 1 0 1 0 1 0 0 0 1 0 0 0 1 0 1 0 0 0 1 0 0 0 0 0 1 0 0 0 1 0 2 0 0 0 1 0 0 0 0 0 1 0 0 0 1 0 2 0 0 0 1 0 0 0 1 0 0 0 1 0 0 0 1 0 0 0 0 0 1 0 0 0 1 0 1 0 0 0 1 0 0 0 1 0 0 0 0 0 1 0 0 0 1 0 0 0 0 0 1 0 0 0 0 0 1 0 0 0 1 0 0 0 1 0 0 0 1 0 0 0 0 0 1 0 0 0 0 0 1 0 1 0 1 0 0 0 0 0 1 0 0 0 0 0 1 0 0 0 1 0 1 0 0 0 1 0 0 0 0 0 1 0 0 0 1 0 1 0 0 0 1 0 0 0 1 0 0 0 0 0 1 0 0 0 0 0 1 0 0 0 0 0 1 0 1 0 0 0 0 0 1 0 0 0 1 0 0 0 1 0 1 0 0 0 1 0 0 0 0 0 1 0 0 0 1 0 0 0 1 0 0 0 1 0 0 0 1 0 0 0 1 0 0 0 1 0 1 0 0 0 1 0 0 0 1 0 0 0 1 0 0 0 0 0 1 0 1 0 1 0 0 0 1 0 1 0 0 0 1 0 0 0 1 0 0 0 0 0 1 0 0 0 1 0 0 0 1 0 0 0 1 0 1 0 0 0 1 0 0 0 0 0 1 0 0 0 1 0 0 0 0 0 1 0 0 0 0 0 1 0 1 0 0 0 1 0 1 0 0 0 0 0 1 0 0 0 0 0 1 0 0 0 1 0 0 0 1 0 0 0 1 0 0 0 1 0 1 0 0 0 1 0 0 0 0 0 1 0 0 0 0 0 1 0 0 0 1 0 0 0 0 0 1 0 0 0 1 0 0 0 1 0 0 0 1 0 0 0 0 0 1 0 0 0 0 0 1 0 0 0 0 0 1 0 0 0 0 0 1 0 0 0 1 0 0 0 1 0 0 0 0 0 1 0 0 0 1 0 0 0 0 0 1 0 0 0 1 0 0 0 1 0 0 0 1 0 0 0 0 0 1 0 0 0 1 0 0 0 0 0 1 0 1 0 0 0 0 0 1 0 0 0 1 0 0 0 0 0 1 0 0 0 1 0 1 0 0 0 1 0 0 0 1 0 0 0 0 0 1 0 0 0 0 0 1 0 0 0 0 0 1 0 0 0 0 0 1 0 0 0 1 0 1 0 0 0 0 0 1 0 0 0 1 0 0 0 1 0 0 0 0 0 1 0 0 0 0 0 1 0 0 0 1 0 0 0 0 0 1 0 0 0 1 0 1 0 0 0 0 0 1 0 0 0 1 0 0 0 0 0 1 0 0 0 1 0 0 0 0 0 1 0 1 0 0 0 0 0 1 0 0 0 1 0 0 0 0 0 1 0 0 0 1 0 0 0 0 0 1 0 0 0 1 0 0 0 0 0 1 0 0 0 1 0 0 0 0 0 1 0 0 0 0 0 1 0 0 0 0 0 1 0 0 0 0 0 1 0 0 0 0 0 1 0 0 0 0 0 1 0 0 0 0 0 1 0 0 0 0 0 1 0 0 0 0 0 1 0 0 0 0 0 1 0 0 0 0 0 1 0 0 0 0 0 1 0 0 0 0 0 1 0 0 0 0 0 1 0 0 0 0 0 1 0 0 0 0 0 1 0 0 0 0 0 1 0 0 0 0 0 1 0 0 0 0 0 1 0 0 0 0 0 1 0 0 0 0 0 1 0 0 0 0 0 1 0 0 0 0 0 1 0 0 0 0 0 1 0 0 0 0 0 1 0 0 0 0 0 1 0 0 0 0 0 1 0 0 0 0 0 1 0 0 0 0 0 1 0 0 0 0 0 1 0 0 0 0 0 1 0 0 0 0 0 1 0 0 0 0 0 1 0 0 0 0 0 1 0 0 0 0 0 1 0 0 0 0 0 1 0 0 0 0 0 1 0 0 0 0 0 1 0 0 0 0 0 1 0 0 0 0 0 1 0 0 0 0 0 1 0 0 0 0 0 1 0 0 0 0 0 1 0 0 0 0 0 1 0 0 0 0 0 1 0 0 0 0 0 1 0 0 0 0 0 1 0 0 0 0 0 1 0 0 0 0 0 1 0 0 0 0 0 1 0 0 0 0 0 1 0 0 0 0 0 1 0 0 0 0 0 1 0 0 0 0 0 1 0 0 0 0 0 1 0 0 0 0 0 1 0 4 0 2 0 3 0 3 0 4 0 5 0 5 0 4 0 4 0 3 0 3 0"/>
<path class="tk" d="M1317.5 741.5v-5.5M1317.5 459.5v5.5M1360.5 741.5v-5.5M1360.5 459.5v5.5M1403.5 741.5v-5.5M1403.5 459.5v5.5M1447.5 741.5v-5.5M1447.5 459.5v5.5M1490.5 741.5v-5.5M1490.5 459.5v5.5M1533.5 741.5v-5.5M1533.5 459.5v5.5M1577.5 741.5v-5.5M1577.5 459.5v5.5M1620.5 741.5v-5.5M1620.5 459.5v5.5M1317.5 741.5h5.5M1620.5 741.5h-5.5M1317.5 710.5h5.5M1620.5 710.5h-5.5M1317.5 678.5h5.5M1620.5 678.5h-5.5M1317.5 647.5h5.5M1620.5 647.5h-5.5M1317.5 616.5h5.5M1620.5 616.5h-5.5M1317.5 584.5h5.5M1620.5 584.5h-5.5M1317.5 553.5h5.5M1620.5 553.5h-5.5M1317.5 522.5h5.5M1620.5 522.5h-5.5M1317.5 490.5h5.5M1620.5 490.5h-5.5M1317.5 459.5h5.5M1620.5 459.5h-5.5"/>
<rect class="ax" x="1317.5" y="459.5" width="303" height="282"/>
<text class="t" x="1317.1" y="759.4" text-anchor="middle">0</text>
<text class="t" x="1360.5" y="759.4" text-anchor="middle">10</text>
<text class="t" x="1403.8" y="759.4" text-anchor="middle">20</text>
<text class="t" x="1447.1" y="759.4" text-anchor="middle">30</text>
<text class="t" x="1490.4" y="759.4" text-anchor="middle">40</text>
<text class="t" x="1533.8" y="759.4" text-anchor="middle">50</text>
<text class="t" x="1577.1" y="759.4" text-anchor="middle">60</text>
<text class="t" x="1620.4" y="759.4" text-anchor="middle">70</text>
<text class="t" x="1312.3" y="746.5" text-anchor="end">0</text>
<text class="t" x="1312.3" y="715.1" text-anchor="end">10</text>
<text class="t" x="1312.3" y="683.7" text-anchor="end">20</text>
<text class="t" x="1312.3" y="652.4" text-anchor="end">30</text>
<text class="t" x="1312.3" y="621" text-anchor="end">40</text>
<text class="t" x="1312.3" y="589.6" text-anchor="end">50</text>
<text class="t" x="1312.3" y="558.2" text-anchor="end">60</text>
<text class="t" x="1312.3" y="526.9" text-anchor="end">70</text>
<text class="t" x="1312.3" y="495.5" text-anchor="end">80</text>
<text class="t" x="1312.3" y="464.1" text-anchor="end">90</text>
</g>
<g id="ax20">
<path class="b" clip-path="url(#c20)" d="M227.5 820.5l30 25 30 28-61 3 0 3 29 16-22 3-8 3 1 3 1 3 1 4-3 6 21 3 78 0-98 3 0 3 56 10-57 3 93 0 51 0 18 3-50 3-110 3 1 0 100 0-102 3 61 0-60 4 48 0-48 3 32 0-31 3-1 3 2 0 11 0 2 0 73 0-76 3-14 3 13 0 3 0 16 0-32 3 0 0 3 0 16 0-19 3 0 0 0 0 76 0-76 4 0 0 1 0 0 0 20 3 1 0 16 0 31 0 15 0-67 3 33 0 53 0-103 3 0 0 40 0 7 0 22 0-69 3 0 0 0 0 2 0 25 0 6 0 4 0 33 0 18 0 9 0-97 3 0 0 1 0 1 0 56 0 7 0 5 0 15 0 5 0 3 0 13 0-106 3 1 0 15 0 4 0 21 0 15 0 33 0-88 4 0 0 3 0 2 0 14 0 6 0 61 0 7 0-94 3 3 0 0 0 7 0 2 0 49 0 6 0 24 0-91 3 0 0 0 0 5 0 1 0 1 0 52 0 20 0 1 0 6 0 9 0-95 3 1 0 0 0 0 0 4 0 102 0 8 0-115 3 2 0 2 0 11 0 14 0 11 0 41 0 14 0-95 3 0 0 0 0 1 0 1 0 3 0 1 0 10 0 4 0 1 0 4 0 10 0 11 0 2 0 7 0 5 0 9 0 16 0 13 0 24 0-122 3 1 0 0 0 0 0 1 0 2 0 36 0 13 0 1 0 8 0 0 0 9 0 39 0-110 4 0 0 1 0 0 0 0 0 2 0 1 0 3 0 3 0 11 0 4 0 11 0 8 0 2 0 12 0 19 0 6 0 37 0 5 0 26 0-151 3 0 0 1 0 0 0 4 0 6 0 7 0 2 0 3 0 13 0 2 0 1 0 2 0 0 0 7 0 9 0 1 0 9 0 9 0 31 0 16 0 7 0 21 0 20 0-171 3 1 0 0 0 1 0 0 0 1 0 1 0 0 0 7 0 0 0 9 0 12 0 6 0 5 0 3 0 7 0 10 0 0 0 2 0 12 0 24 0 3 0 3 0 14 0-121 3 1 0 3 0 2 0 2 0 2 0 1 0 6 0 11 0 5 0 0 0 1 0 7 0 6 0 5 0 2 0 1 0 3 0 2 0 6 0 2 0 6 0 2 0 7 0 29 0 17 0 9 0-138 3 0 0 2 0 0 0 3 0 2 0 1 0 6 0 1 0 0 0 2 0 6 0 3 0 4 0 9 0 1 0 2 0 1 0 5 0 1 0 5 0 5 0 0 0 8 0 4 0 8 0 1 0 1 0 1 0 2 0 18 0 10 0 18 0 0 0 8 0 7 0 7 0-152 3 0 0 1 0 0 0 2 0 2 0 7 0 3 0 5 0 0 0 7 0 0 0 5 0 0 0 2 0 4 0 10 0 1 0 1 0 0 0 8 0 1 0 3 0 3 0 3 0 1 0 1 0 4 0 2 0 5 0 17 0 4 0 0 0 0 0 1 0 7 0 2 0 18 0 25 0 3 0 6 0 3 0 6 0 9 0-182 3 1 0 1 0 0 0 0 0 11 0 0 0 4 0 3 0 11 0 4 0 2 0 14 0 0 0 2 0 4 0 4 0 0 0 3 0 13 0 3 0 3 0 5 0 0 0 3 0 4 0 4 0 0 0 9 0 16 0 1 0 3 0 16 0 2 0 8 0-154 3 0 0 0 0 1 0 0 0 1 0 2 0 14 0 5 0 1 0 3 0 6 0 1 0 0 0 4 0 3 0 6 0 2 0 0 0 1 0 0 0 1 0 0 0 9 0 7 0 2 0 5 0 2 0 3 0 1 0 2 0 5 0 1 0 5 0 2 0 0 0 10 0 1 0 4 0 13 0 1 0 0 0 11 0 4 0 31 0 4 0-174 4 1 0 1 0 0 0 0 0 9 0 2 0 1 0 3 0 3 0 5 0 7 0 0 0 2 0 5 0 5 0 6 0 10 0 4 0 1 0 2 0 2 0 2 0 6 0 4 0 1 0 1 0 2 0 1 0 14 0 3 0 6 0 2 0 4 0 1 0 5 0 10 0 4 0 2 0 6 0 19 0 3 0 4 0 0 0 11 0-180 3 0 0 1 0 0 0 2 0 0 0 0 0 3 0 18 0 2 0 3 0 0 0 1 0 1 0 1 0 2 0 0 0 5 0 5 0 1 0 4 0 1 0 8 0 0 0 1 0 4 0 4 0 1 0 0 0 0 0 1 0 4 0 3 0 0 0 1 0 9 0 4 0 0 0 10 0 0 0 0 0 2 0 0 0 1 0 2 0 1 0 8 0 0 0 1 0 5 0 4 0 0 0 6 0 1 0 13 0 0 0 1 0 6 0 6 0 11 0 3 0 1 0-172 3 1 0 0 0 0 0 1 0 0 0 0 0 1 0 0 0 3 0 3 0 0 0 5 0 0 0 0 0 4 0 0 0 2 0 0 0 3 0 1 0 1 0 2 0 3 0 1 0 0 0 1 0 0 0 3 0 0 0 0 0 1 0 1 0 1 0 1 0 0 0 2 0 5 0 1 0 3 0 2 0 2 0 5 0 3 0 4 0 1 0 6 0 6 0 1 0 7 0 2 0 4 0 0 0 2 0 4 0 6 0 6 0 0 0 14 0 0 0 8 0 1 0 3 0 4 0 3 0 1 0 3 0 5 0 3 0 1 0 4 0 1 0 14 0 0 0-176 3 0 0 0 0 1 0 1 0 1 0 0 0 1 0 1 0 1 0 1 0 5 0 0 0 1 0 3 0 2 0 2 0 2 0 2 0 2 0 1 0 1 0 2 0 0 0 2 0 2 0 1 0 3 0 1 0 2 0 2 0 2 0 0 0 1 0 4 0 1 0 1 0 2 0 1 0 0 0 1 0 1 0 1 0 1 0 1 0 2 0 3 0 0 0 0 0 4 0 1 0 0 0 1 0 0 0 3 0 4 0 1 0 6 0 0 0 12 0 2 0 9 0 1 0 4 0 3 0 27 0 7 0 4 0 2 0 1 0 9 0 3 0 3 0 5 0 2 0 1 0 1 0 2 0 2 0-185 3 0 0 1 0 0 0 1 0 0 0 2 0 3 0 5 0 2 0 1 0 1 0 2 0 0 0 3 0 0 0 3 0 0 0 2 0 0 0 0 0 1 0 1 0 0 0 1 0 0 0 1 0 1 0 0 0 0 0 1 0 2 0 1 0 3 0 2 0 1 0 0 0 3 0 0 0 0 0 1 0 1 0 0 0 0 0 2 0 0 0 1 0 1 0 0 0 1 0 0 0 0 0 1 0 0 0 1 0 1 0 1 0 2 0 1 0 2 0 0 0 0 0 1 0 0 0 1 0 1 0 0 0 2 0 1 0 2 0 0 0 1 0 0 0 4 0 0 0 6 0 0 0 5 0 3 0 2 0 1 0 0 0 1 0 0 0 2 0 2 0 5 0 2 0 3 0 2 0 4 0 4 0 4 0 3 0 2 0 3 0 5 0 1 0 5 0 3 0 1 0 1 0 2 0 6 0 9 0 1 0 0 0 2 0 1 0 1 0 2 0 16 0 0 0 72 0-255 3 0 0 0 0 1 0 0 0 1 0 0 0 0 0 1 0 1 0 2 0 1 0 1 0 0 0 0 0 1 0 1 0 0 0 3 0 0 0 2 0 0 0 1 0 2 0 0 0 1 0 3 0 1 0 1 0 2 0 0 0 1 0 1 0 1 0 1 0 1 0 0 0 2 0 1 0 1 0 2 0 1 0 1 0 1 0 2 0 2 0 1 0 0 0 1 0 1 0 0 0 0 0 1 0 0 0 1 0 2 0 1 0 1 0 1 0 1 0 1 0 0 0 0 0 1 0 0 0 0 0 1 0 1 0 0 0 1 0 0 0 1 0 1 0 0 0 2 0 1 0 0 0 1 0 2 0 4 0 1 0 1 0 0 0 2 0 1 0 0 0 1 0 0 0 1 0 0 0 1 0 2 0 1 0 2 0 2 0 1 0 1 0 7 0 13 0 0 0 3 0 3 0 3 0 1 0 0 0 1 0 1 0 5 0 1 0 1 0 1 0 2 0 1 0 4 0 3 0 1 0 2 0 7 0 1 0 0 0 12 0 6 0 9 0 4 0 2 0 0 0 1 0 9 0-192 3 1 0 1 0 0 0 0 0 1 0 1 0 0 0 1 0 1 0 0 0 1 0 0 0 3 0 0 0 0 0 1 0 1 0 0 0 2 0 0 0 0 0 1 0 0 0 0 0 1 0 0 0 1 0 1 0 1 0 1 0 0 0 2 0 0 0 1 0 0 0 1 0 0 0 0 0 1 0 1 0 0 0 1 0 1 0 0 0 1 0 0 0 0 0 1 0 1 0 1 0 0 0 1 0 0 0 1 0 0 0 0 0 1 0 0 0 1 0 0 0 1 0 0 0 1 0 0 0 0 0 1 0 1 0 0 0 1 0 0 0 1 0 0 0 1 0 0 0 1 0 1 0 0 0 1 0 0 0 1 0 0 0 1 0 1 0 1 0 0 0 1 0 0 0 1 0 0 0 1 0 0 0 0 0 2 0 1 0 1 0 0 0 1 0 0 0 0 0 1 0 2 0 1 0 0 0 0 0 1 0 0 0 0 0 1 0 1 0 0 0 2 0 0 0 1 0 1 0 0 0 0 0 1 0 0 0 1 0 2 0 3 0 0 0 1 0 1 0 3 0 0 0 1 0 0 0 1 0 1 0 0 0 2 0 0 0 1 0 0 0 2 0 0 0 0 0 2 0 5 0 4 0 1 0 2 0 0 0 1 0 0 0 3 0 10 0 2 0 3 0 0 0 1 0 1 0 0 0 7 0 3 0 6 0 1 0 6 0 1 0 1 0 1 0 3 0 3 0 4 0 11 0 5 0 3 0 0 0 4 0 1 0 1 0 1 0 1 0 5 0 1 0 1 0 28 0 32 0-255 4 0 0 0 0 1 0 1 0 0 0 2 0 0 0 1 0 1 0 0 0 1 0 1 0 1 0 1 0 0 0 0 0 1 0 1 0 0 0 1 0 1 0 0 0 0 0 3 0 1 0 1 0 1 0 1 0 0 0 1 0 0 0 0 0 1 0 0 0 0 0 1 0 0 0 1 0 1 0 0 0 0 0 1 0 1 0 0 0 0 0 1 0 1 0 1 0 0 0 1 0 0 0 1 0 1 0 0 0 1 0 1 0 0 0 1 0 0 0 1 0 1 0 1 0 0 0 1 0 0 0 0 0 1 0 0 0 2 0 1 0 0 0 1 0 0 0 1 0 1 0 1 0 0 0 1 0 0 0 0 0 1 0 0 0 2 0 0 0 2 0 0 0 0 0 2 0 1 0 0 0 4 0 0 0 1 0 1 0 1 0 1 0 0 0 1 0 0 0 0 0 1 0 1 0 0 0 4 0 0 0 1 0 1 0 0 0 0 0 3 0 1 0 0 0 1 0 0 0 0 0 1 0 0 0 0 0 2 0 0 0 1 0 1 0 2 0 2 0 0 0 1 0 0 0 2 0 0 0 2 0 2 0 0 0 0 0 1 0 0 0 1 0 1 0 1 0 0 0 2 0 1 0 2 0 0 0 1 0 4 0 2 0 1 0 1 0 1 0 6 0 5 0 0 0 1 0 1 0 4 0 5 0 1 0 1 0 0 0 5 0 0 0 2 0 4 0 2 0 1 0 3 0 0 0 1 0 12 0 6 0 2 0 2 0 5 0 2 0 6 0 2 0 1 0 2 0 0 0 1 0 6 0 11 0 1 0 23 0 16 0-254 3 0 0 1 0 1 0 0 0 1 0 1 0 0 0 1 0 1 0 0 0 2 0 2 0 1 0 0 0 3 0 0 0 0 0 2 0 0 0 0 0 1 0 0 0 1 0 4 0 0 0 2 0 5 0 0 0 1 0 0 0 5 0 1 0 0 0 5 0 1 0 0 0 0 0 2 0 3 0 4 0 1 0 13 0 3 0 8 0 1 0 5 0 1 0 0 0 3 0 0 0 1 0 2 0 2 0 1 0 0 0 0 0 4 0 5 0 0 0 1 0 0 0 2 0 5 0 1 0 2 0 1 0 3 0 1 0 0 0 1 0 0 0 1 0 0 0 2 0 0 0 1 0 1 0 2 0 1 0 7 0 2 0 1 0 4 0 3 0 0 0 3 0 2 0 1 0 3 0 4 0 1 0 1 0 2 0 9 0 8 0 8 0 14 0 2 0 2 0 27 0 11 0 13 0-147 3 1 0 0 0 0 0 3 0 0 0 1 0 9 0 2 0 5 0 0 0 1 0 1 0 2 0 2 0 1 0 0 0 3 0 1 0 1 0 3 0 1 0 0 0 0 0 6 0 0 0 3 0 3 0 0 0 1 0 0 0 2 0 0 0 2 0 1 0 0 0 0 0 1 0 1 0 2 0 1 0 1 0 3 0 1 0 1 0 0 0 4 0 1 0 1 0 1 0 0 0 5 0 0 0 2 0 4 0 1 0 5 0 1 0 3 0 1 0 6 0 1 0 3 0 1 0 5 0 1 0 5 0 1 0 1 0 1 0 2 0 0 0 14 0 4 0 3 0 7 0-19 3 3 0 0 0 0 0 9 0 1 0 4 0 0 0 1 0 0 0 2 0 1 0 1 0 1 0 0 0 1 0 2 0 0 0 2 0"/>
<path class="r" clip-path="url(#c20)" d="M324.5 920.5l-37 31-12 4 40 9-14 12 8 7-15 6 1 3-12 3 12 0 36 0-50 3 33 0-83 4 85 3-11 3 6 0 9 0 12 3 8 0-86 3 31 3 11 3 39 0-64 4 74 0 31 0-75 3 75 0 20 0-128 3 20 0 44 0 14 0-47 3 9 0 29 0-33 3 5 0 18 0 10 0 33 0-133 3 8 0 7 0 23 0 0 0 18 0 2 0 32 0 28 0 25 0 9 0 9 0 9 0-125 3 23 0 8 0 11 0 9 0 17 0 3 0 16 0 10 0-120 3 48 0 6 0 5 0 2 0 10 0 18 0 1 0 15 0 31 0 4 0-97 4 5 0 4 0 14 0 3 0 6 0 6 0 1 0 5 0 10 0 4 0 2 0 6 0 22 0 4 0 0 0 11 0-130 3 8 0 5 0 5 0 1 0 4 0 13 0 14 0 0 0 2 0 0 0 3 0 1 0 8 0 6 0 4 0 0 0 6 0 14 0 0 0 1 0 6 0 17 0 3 0-140 3 49 0 7 0 2 0 4 0 6 0 12 0 14 0 0 0 9 0 3 0 8 0 11 0 5 0-131 3 8 0 3 0 9 0 6 0 9 0 5 0 1 0 8 0 6 0 0 0 14 0 9 0 1 0 4 0 30 0 11 0 2 0 1 0 9 0 3 0 3 0 5 0 2 0 2 0 2 0 2 0-159 3 18 0 4 0 0 0 7 0 2 0 16 0 6 0 8 0 3 0 1 0 2 0 9 0 3 0 2 0 17 0 9 0 8 0 2 0 2 0 6 0 10 0 0 0 2 0 1 0 19 0 0 0 72 0-248 3 17 0 7 0 14 0 0 0 2 0 1 0 9 0 1 0 3 0 13 0 3 0 2 0 4 0 2 0 4 0 20 0 6 0 3 0 1 0 1 0 6 0 2 0 11 0 10 0 13 0 6 0 9 0 4 0 2 0 0 0 1 0 9 0-190 3 0 0 5 0 9 0 2 0 2 0 5 0 7 0 1 0 3 0 0 0 2 0 0 0 2 0 3 0 6 0 3 0 1 0 0 0 4 0 1 0 1 0 2 0 1 0 0 0 3 0 2 0 2 0 0 0 0 0 1 0 3 0 8 0 1 0 0 0 2 0 0 0 0 0 5 0 0 0 11 0 1 0 2 0 0 0 1 0 3 0 15 0 0 0 2 0 7 0 9 0 7 0 1 0 2 0 3 0 3 0 4 0 11 0 5 0 3 0 0 0 4 0 1 0 1 0 1 0 1 0 5 0 1 0 29 0 32 0-252 4 9 0 5 0 2 0 1 0 1 0 1 0 4 0 2 0 0 0 0 0 2 0 2 0 1 0 1 0 1 0 5 0 5 0 0 0 0 0 1 0 2 0 0 0 2 0 1 0 0 0 3 0 1 0 0 0 2 0 2 0 1 0 2 0 1 0 3 0 0 0 0 0 3 0 0 0 2 0 0 0 2 0 1 0 1 0 0 0 0 0 3 0 1 0 0 0 1 0 0 0 1 0 3 0 6 0 0 0 2 0 4 0 0 0 1 0 0 0 3 0 2 0 0 0 3 0 0 0 7 0 1 0 1 0 12 0 0 0 1 0 5 0 7 0 5 0 0 0 2 0 4 0 2 0 1 0 3 0 0 0 1 0 12 0 6 0 2 0 2 0 5 0 2 0 6 0 2 0 1 0 2 0 0 0 1 0 6 0 11 0 1 0 23 0 16 0-254 3 0 0 0 0 1 0 0 0 0 0 1 0 1 0 0 0 0 0 1 0 1 0 0 0 1 0 1 0 1 0 1 0 0 0 2 0 0 0 0 0 2 0 0 0 1 0 0 0 0 0 2 0 0 0 1 0 0 0 1 0 0 0 0 0 3 0 1 0 1 0 2 0 0 0 1 0 1 0 1 0 1 0 1 0 0 0 3 0 0 0 0 0 2 0 0 0 0 0 1 0 0 0 1 0 1 0 0 0 3 0 0 0 2 0 1 0 0 0 1 0 0 0 1 0 1 0 1 0 1 0 0 0 0 0 2 0 2 0 2 0 0 0 1 0 0 0 1 0 0 0 1 0 0 0 0 0 1 0 0 0 1 0 0 0 1 0 0 0 0 0 1 0 0 0 1 0 2 0 0 0 1 0 0 0 1 0 1 0 0 0 0 0 1 0 1 0 0 0 0 0 4 0 0 0 1 0 0 0 1 0 0 0 0 0 3 0 0 0 4 0 0 0 2 0 0 0 1 0 0 0 1 0 2 0 0 0 2 0 1 0 0 0 3 0 0 0 2 0 4 0 1 0 1 0 1 0 1 0 0 0 5 0 2 0 1 0 3 0 1 0 0 0 1 0 0 0 1 0 2 0 0 0 1 0 1 0 10 0 2 0 1 0 4 0 3 0 5 0 1 0 3 0 5 0 3 0 9 0 32 0 2 0 27 0 11 0 13 0-255 3 1 0 0 0 1 0 0 0 0 0 1 0 0 0 1 0 0 0 1 0 1 0 1 0 0 0 1 0 0 0 0 0 1 0 1 0 0 0 1 0 0 0 1 0 0 0 1 0 1 0 1 0 1 0 1 0 1 0 0 0 0 0 1 0 0 0 1 0 0 0 1 0 1 0 1 0 2 0 0 0 0 0 1 0 1 0 1 0 2 0 0 0 0 0 2 0 0 0 2 0 0 0 1 0 0 0 1 0 0 0 0 0 1 0 0 0 1 0 1 0 1 0 1 0 0 0 0 0 2 0 1 0 0 0 1 0 1 0 0 0 2 0 1 0 1 0 1 0 1 0 0 0 0 0 1 0 1 0 1 0 1 0 2 0 0 0 0 0 2 0 2 0 1 0 2 0 0 0 1 0 1 0 0 0 1 0 1 0 0 0 1 0 1 0 0 0 1 0 0 0 2 0 1 0 0 0 1 0 0 0 2 0 1 0 0 0 1 0 0 0 2 0 1 0 0 0 1 0 1 0 0 0 2 0 0 0 0 0 1 0 0 0 1 0 1 0 0 0 2 0 0 0 1 0 0 0 1 0 0 0 1 0 0 0 1 0 1 0 0 0 0 0 1 0 1 0 1 0 0 0 2 0 0 0 1 0 1 0 0 0 1 0 1 0 2 0 1 0 0 0 3 0 0 0 1 0 4 0 2 0 1 0 0 0 1 0 0 0 1 0 1 0 1 0 5 0 0 0 1 0 1 0 2 0 0 0 2 0 1 0 3 0 1 0 1 0 3 0 1 0 0 0 0 0 4 0 2 0 0 0 3 0 3 0 0 0 0 0 1 0 2 0 0 0 2 0 1 0 0 0 0 0 1 0 1 0 2 0 1 0 1 0 2 0 1 0 1 0 1 0 0 0 4 0 1 0 1 0 1 0 0 0 5 0 0 0 2 0 4 0 1 0 5 0 1 0 3 0 1 0 6 0 1 0 3 0 1 0 5 0 1 0 5 0 1 0 1 0 1 0 2 0 0 0 14 0 4 0 3 0 7 0-258 3 1 0 0 0 0 0 1 0 0 0 0 0 1 0 0 0 1 0 0 0 1 0 1 0 0 0 1 0 0 0 1 0 0 0 0 0 1 0 0 0 1 0 0 0 1 0 0 0 1 0 0 0 1 0 0 0 1 0 0 0 1 0 0 0 0 0 1 0 1 0 0 0 1 0 0 0 1 0 1 0 1 0 0 0 1 0 1 0 0 0 1 0 0 0 1 0 0 0 1 0 0 0 0 0 1 0 0 0 1 0 0 0 1 0 0 0 1 0 0 0 0 0 1 0 0 0 1 0 0 0 1 0 1 0 0 0 1 0 0 0 1 0 0 0 1 0 1 0 0 0 1 0 0 0 1 0 0 0 0 0 1 0 0 0 0 0 1 0 1 0 0 0 1 0 1 0 0 0 1 0 0 0 1 0 0 0 1 0 0 0 1 0 1 0 0 0 0 0 1 0 0 0 1 0 0 0 1 0 1 0 0 0 1 0 1 0 0 0 0 0 1 0 0 0 1 0 0 0 1 0 0 0 0 0 1 0 0 0 1 0 0 0 0 0 1 0 0 0 1 0 1 0 1 0 1 0 0 0 1 0 0 0 1 0 0 0 1 0 1 0 1 0 1 0 1 0 1 0 1 0 1 0 0 0 0 0 2 0 0 0 1 0 1 0 0 0 0 0 1 0 0 0 1 0 0 0 1 0 0 0 1 0 0 0 1 0 0 0 0 0 1 0 0 0 0 0 1 0 0 0 1 0 1 0 0 0 1 0 1 0 0 0 0 0 1 0 1 0 1 0 0 0 0 0 1 0 0 0 1 0 0 0 0 0 1 0 0 0 1 0 0 0 1 0 0 0 1 0 1 0 0 0 1 0 0 0 1 0 0 0 1 0 0 0 0 0 1 0 1 0 0 0 1 0 0 0 1 0 0 0 0 0 1 0 0 0 0 0 1 0 0 0 0 0 1 0 0 0 1 0 0 0 0 0 1 0 0 0 0 0 1 0 0 0 0 0 1 0 0 0 0 0 1 0 0 0 0 0 1 0 0 0 0 0 1 0 0 0 1 0 0 0 1 0 0 0 0 0 1 0 0 0 1 0 0 0 0 0 1 0 0 0 1 0 0 0 1 0 0 0 1 0 0 0 0 0 1 0 0 0 1 0 0 0 1 0 0 0 0 0 1 0 0 0 1 0 0 0 0 0 1 0 0 0 0 0 1 0 0 0 0 0 1 0 0 0 0 0 1 0 0 0 0 0 1 0 0 0 1 0 0 0 1 0 1 0 0 0 0 0 1 0 0 0 0 0 1 0 0 0 0 0 1 0 1 0 0 0 0 0 1 0 0 0 1 0 0 0 0 0 1 0 0 0 1 0 0 0 1 0 0 0 1 0 0 0 0 0 1 0 0 0 0 0 1 0 0 0 1 0 0 0 1 0 0 0 0 0 1 0 0 0 0 0 1 0 0 0 0 0 1 0 0 0 0 0 1 0 0 0 0 0 1 0 0 0 0 0 1 0 0 0 1 0 1 0 0 0 1 0 0 0 1 0 0 0 0 0 1 0 0 0 1 0 0 0 1 0 0 0 0 0 1 0 0 0 1 0 0 0 1 0 0 0 1 0 0 0 1 0 1 0 0 0 1 0 0 0 0 0 1 0 0 0 0 0 1 0 0 0 1 0 0 0 0 0 1 0 1 0 0 0 1 0 0 0 0 0 1 0 0 0 0 0 1 0 0 0 1 0 0 0 0 0 1 0 0 0 0 0 1 0 0 0 1 0 0 0 0 0 1 0 0 0 0 0 1 0 0 0 0 0 1 0 0 0 0 0 1 0 0 0 0 0 1 0 0 0 1 0 0 0 1 0 0 0 0 0 1 0 0 0 0 0 1 0 0 0 0 0 1 0 0 0 1 0 1 0 0 0 0 0 1 0 0 0 0 0 1 0 0 0 1 0 0 0 0 0 1 0 0 0 0 0 1 0 0 0 1 0 0 0 0 0 1 0 0 0 0 0 1 0 0 0 0 0 1 0 0 0 1 0 0 0 1 0 0 0 0 0 1 0 0 0 0 0 1 0 0 0 1 0 0 0 0 0 1 0 0 0 1 0 0 0 0 0 1 0 0 0 0 0 1 0 0 0 0 0 1 0 0 0 1 0 0 0 0 0 1 0 0 0 0 0 1 0 0 0 0 0 1 0 0 0 0 0 1 0 0 0 0 0 1 0 0 0 1 0 0 0 0 0 1 0 0 0 1 0 0 0 1 0 0 0 0 0 1 0 0 0 0 0 1 0 0 0 0 0 1 0 0 0 1 0 0 0 1 0 0 0 1 0 0 0 0 0 1 0 0 0 1 0 0 0 0 0 1 0 0 0 0 0 1 0 0 0 0 0 1 0 0 0 0 0 1 0 0 0 0 0 1 0 0 0 0 0 1 0 0 0 0 0 1 0 0 0 1 0 0 0 0 0 9 0 1 0 4 0 0 0 1 0 0 0 2 0 1 0 1 0 1 0 0 0 1 0 2 0 0 0 2 0"/>
<path class="tk" d="M225.5 1080.5v-5.5M225.5 798.5v5.5M312.5 1080.5v-5.5M312.5 798.5v5.5M398.5 1080.5v-5.5M398.5 798.5v5.5M485.5 1080.5v-5.5M485.5 798.5v5.5M225.5 1080.5h5.5M528.5 1080.5h-5.5M225.5 1049.5h5.5M528.5 1049.5h-5.5M225.5 1017.5h5.5M528.5 1017.5h-5.5M225.5 986.5h5.5M528.5 986.5h-5.5M225.5 955.5h5.5M528.5 955.5h-5.5M225.5 923.5h5.5M528.5 923.5h-5.5M225.5 892.5h5.5M528.5 892.5h-5.5M225.5 860.5h5.5M528.5 860.5h-5.5M225.5 829.5h5.5M528.5 829.5h-5.5M225.5 798.5h5.5M528.5 798.5h-5.5"/>
<rect class="ax" x="225.5" y="798.5" width="303" height="282"/>
<text class="t" x="225.4" y="1098.2" text-anchor="middle">0</text>
<text class="t" x="312" y="1098.2" text-anchor="middle">2000</text>
<text class="t" x="398.7" y="1098.2" text-anchor="middle">4000</text>
<text class="t" x="485.3" y="1098.2" text-anchor="middle">6000</text>
<text class="t" x="220.6" y="1085.3" text-anchor="end">0</text>
<text class="t" x="220.6" y="1053.9" text-anchor="end">10</text>
<text class="t" x="220.6" y="1022.6" text-anchor="end">20</text>
<text class="t" x="220.6" y="991.2" text-anchor="end">30</text>
<text class="t" x="220.6" y="959.8" text-anchor="end">40</text>
<text class="t" x="220.6" y="928.4" text-anchor="end">50</text>
<text class="t" x="220.6" y="897.1" text-anchor="end">60</text>
<text class="t" x="220.6" y="865.7" text-anchor="end">70</text>
<text class="t" x="220.6" y="834.3" text-anchor="end">80</text>
<text class="t" x="220.6" y="802.9" text-anchor="end">90</text>
<text class="t" x="376.6" y="1119.8" text-anchor="middle">cape</text>
<text class="yl" transform="translate(188.6 939.4) rotate(-90)" text-anchor="middle">N reports</text>
<rect x="314.5" y="808.5" width="204" height="64" fill="#fff" stroke="#000" stroke-width="1.39"/>
<path class="b" d="M342.5 824.5h0"/>
<path class="r" d="M342.5 853.5h0"/>
<text class="tt" x="377.7" y="830.8">all points</text>
<text class="tt" x="377.7" y="859.8">pts &gt; 2sigma</text>
</g>
<g id="ax21">
<path class="b" clip-path="url(#c21)" d="M752.5 820.5l11 25-4 28 27 3-16 3-8 16-1 3 14 3 22 0-55 6 27 0-10 4-38 6 57 0-24 3 10 0 1 0 12 0-1 3-15 3 13 0 6 10-32 3 32 0 22 0 5 3-44 3 34 0 11 0-66 3 17 0 37 0-43 3 16 0 9 0-24 4 22 0 4 0-28 3 21 0 7 0-28 3 11 0-4 3 19 0-28 3 9 0 4 0 4 0-10 3 25 0-62 3 77 0 19 0-62 3-25 4 2 0 23 0 13 0-72 3 40 0 20 0 14 0 9 0 27 0-60 3 8 0 3 0 7 0 1 0 4 0 3 0 4 0-24 3 1 0 1 0 8 0 1 0 2 0 1 0 1 0 1 0 6 0 1 0 19 0-54 3 6 0 6 0 5 0 3 0 2 0 1 0 4 0 4 0 6 0-22 3 3 0 6 0 2 0 1 0 1 0 0 0 2 0 0 0 2 0 7 0 15 0 1 0 1 0-92 3 14 0 24 0 8 0 3 0 3 0 0 0 1 0 0 0 2 0 0 0 1 0 0 0 1 0 1 0 0 0 1 0 1 0 0 0 1 0 1 0 4 0 1 0 3 0 13 0 13 0-65 4 15 0 1 0 1 0 0 0 3 0 1 0 0 0 3 0 3 0 1 0 0 0 7 0 1 0 1 0 0 0 2 0 2 0 9 0 10 0 26 0-78 3 10 0 2 0 13 0 0 0 1 0 4 0 0 0 1 0 2 0 0 0 2 0 5 0 2 0 0 0 21 0-71 3 18 0 0 0 10 0 1 0 0 0 8 0 4 0 0 0 0 0 2 0 0 0 16 0 5 0 15 0 5 0 0 0-120 3 37 0 8 0 3 0 5 0 1 0 1 0 1 0 6 0 4 0 2 0 3 0 1 0 2 0 0 0 7 0 2 0 4 0 1 0 2 0 9 0 0 0 0 0 34 0-162 3 66 0 3 0 5 0 6 0 2 0 7 0 2 0 0 0 0 0 3 0 0 0 2 0 1 0 0 0 1 0 2 0 8 0 6 0 1 0 0 0 9 0 1 0 17 0 1 0-116 3 12 0 24 0 10 0 0 0 1 0 5 0 4 0 3 0 0 0 4 0 0 0 1 0 1 0 0 0 1 0 0 0 1 0 1 0 0 0 2 0 0 0 0 0 1 0 0 0 1 0 0 0 1 0 0 0 1 0 0 0 1 0 0 0 3 0 2 0 2 0 8 0 24 0-91 3 10 0 2 0 10 0 2 0 2 0 0 0 2 0 3 0 0 0 2 0 0 0 1 0 0 0 3 0 2 0 0 0 1 0 2 0 1 0 1 0 0 0 1 0 0 0 3 0 1 0 0 0 2 0 0 0 0 0 2 0 1 0 7 0 2 0 0 0 1 0 3 0 4 0 11 0 4 0 7 0-108 4 15 0 23 0 1 0 5 0 1 0 1 0 2 0 2 0 0 0 2 0 1 0 0 0 2 0 1 0 2 0 0 0 0 0 1 0 0 0 1 0 2 0 0 0 0 0 2 0 0 0 0 0 3 0 1 0 0 0 1 0 1 0 0 0 1 0 0 0 0 0 1 0 1 0 4 0 1 0 2 0 1 0 1 0 1 0 1 0 5 0 5 0 6 0 1 0 11 0-88 3 5 0 8 0 5 0 3 0 4 0 2 0 4 0 1 0 0 0 3 0 0 0 1 0 1 0 6 0 0 0 3 0 1 0 3 0 16 0 0 0 4 0 1 0 3 0 4 0 9 0 10 0-89 3 1 0 5 0 2 0 3 0 2 0 1 0 0 0 1 0 0 0 3 0 3 0 0 0 2 0 1 0 0 0 1 0 0 0 0 0 1 0 0 0 1 0 0 0 1 0 0 0 1 0 2 0 1 0 1 0 0 0 1 0 1 0 0 0 1 0 1 0 1 0 1 0 3 0 4 0 2 0 0 0 2 0 2 0 0 0 2 0 13 0 11 0-98 3 19 0 1 0 11 0 2 0 1 0 1 0 1 0 0 0 1 0 1 0 0 0 1 0 0 0 0 0 1 0 0 0 2 0 0 0 1 0 0 0 1 0 2 0 2 0 0 0 1 0 1 0 1 0 1 0 0 0 1 0 3 0 1 0 2 0 1 0 2 0 2 0 0 0 3 0 0 0 0 0 2 0 0 0 9 0 0 0 1 0 0 0 6 0 3 0 1 0 3 0 9 0 10 0-86 3 1 0 0 0 8 0 0 0 1 0 0 0 7 0 2 0 1 0 2 0 0 0 1 0 1 0 0 0 0 0 1 0 0 0 1 0 1 0 0 0 0 0 2 0 0 0 3 0 1 0 1 0 1 0 4 0 1 0 0 0 0 0 2 0 1 0 2 0 6 0 6 0 5 0 3 0 3 0 8 0 11 0 1 0-105 3 8 0 10 0 0 0 1 0 0 0 1 0 0 0 1 0 0 0 0 0 1 0 1 0 3 0 0 0 2 0 2 0 1 0 0 0 1 0 0 0 0 0 2 0 1 0 0 0 1 0 0 0 1 0 0 0 1 0 0 0 1 0 2 0 1 0 0 0 1 0 0 0 2 0 0 0 2 0 0 0 1 0 0 0 1 0 0 0 1 0 1 0 2 0 1 0 2 0 0 0 2 0 4 0 1 0 5 0 1 0 2 0 0 0 0 0 8 0 0 0 5 0 2 0 5 0 13 0 5 0-150 3 36 0 13 0 3 0 6 0 1 0 2 0 2 0 2 0 3 0 0 0 1 0 0 0 1 0 0 0 0 0 1 0 0 0 1 0 0 0 2 0 1 0 1 0 1 0 1 0 1 0 0 0 0 0 1 0 0 0 1 0 0 0 0 0 4 0 1 0 0 0 1 0 0 0 1 0 1 0 0 0 2 0 0 0 0 0 1 0 0 0 0 0 1 0 0 0 8 0 5 0 1 0 4 0 12 0 0 0 6 0 1 0 4 0 7 0 1 0 0 0 3 0 1 0-146 3 41 0 8 0 7 0 2 0 1 0 2 0 1 0 0 0 1 0 0 0 1 0 1 0 1 0 0 0 1 0 1 0 0 0 1 0 1 0 0 0 1 0 0 0 1 0 2 0 1 0 0 0 1 0 0 0 1 0 0 0 1 0 0 0 1 0 0 0 1 0 0 0 1 0 0 0 1 0 0 0 0 0 1 0 1 0 0 0 0 0 2 0 2 0 0 0 0 0 1 0 1 0 0 0 0 0 1 0 1 0 1 0 0 0 0 0 1 0 3 0 1 0 1 0 0 0 0 0 1 0 2 0 2 0 5 0 0 0 0 0 2 0 0 0 3 0 0 0 1 0 10 0 14 0 4 0-125 4 8 0 6 0 3 0 4 0 12 0 1 0 3 0 4 0 0 0 0 0 3 0 1 0 0 0 1 0 1 0 1 0 0 0 1 0 0 0 1 0 1 0 2 0 1 0 0 0 1 0 1 0 0 0 1 0 1 0 0 0 1 0 0 0 1 0 0 0 1 0 1 0 0 0 1 0 1 0 0 0 0 0 1 0 0 0 0 0 1 0 0 0 1 0 0 0 1 0 0 0 1 0 0 0 2 0 0 0 1 0 1 0 0 0 1 0 0 0 5 0 3 0 0 0 1 0 0 0 2 0 1 0 1 0 1 0 6 0 3 0 3 0 4 0 2 0 1 0 1 0 0 0 2 0 1 0 10 0 2 0-150 3 21 0 19 0 19 0 2 0 4 0 1 0 3 0 1 0 1 0 0 0 2 0 0 0 2 0 1 0 1 0 1 0 0 0 1 0 0 0 1 0 0 0 1 0 0 0 1 0 0 0 1 0 1 0 0 0 1 0 1 0 1 0 0 0 1 0 1 0 1 0 0 0 0 0 2 0 1 0 1 0 0 0 1 0 0 0 1 0 1 0 0 0 1 0 0 0 0 0 1 0 0 0 1 0 0 0 1 0 1 0 2 0 0 0 0 0 1 0 0 0 1 0 1 0 1 0 0 0 0 0 2 0 1 0 0 0 1 0 2 0 1 0 0 0 0 0 5 0 1 0 1 0 2 0 1 0 1 0 2 0 2 0 3 0 2 0 0 0 2 0 5 0 4 0 1 0 3 0 7 0-114 3 11 0 4 0 2 0 2 0 7 0 1 0 1 0 1 0 1 0 2 0 1 0 1 0 0 0 0 0 1 0 1 0 1 0 0 0 1 0 1 0 0 0 1 0 2 0 1 0 1 0 1 0 0 0 2 0 1 0 0 0 0 0 1 0 0 0 2 0 0 0 1 0 0 0 1 0 1 0 0 0 1 0 1 0 0 0 1 0 1 0 0 0 1 0 0 0 1 0 0 0 0 0 1 0 1 0 0 0 1 0 1 0 0 0 3 0 3 0 4 0 1 0 0 0 2 0 2 0 1 0 3 0 0 0 2 0 0 0 3 0 0 0 3 0 0 0 0 0 6 0 4 0 2 0 0 0-151 3 37 0 6 0 19 0 2 0 1 0 1 0 1 0 1 0 3 0 0 0 2 0 0 0 1 0 1 0 1 0 0 0 4 0 1 0 1 0 1 0 1 0 0 0 1 0 0 0 1 0 0 0 1 0 1 0 0 0 1 0 0 0 1 0 1 0 2 0 1 0 0 0 1 0 1 0 1 0 0 0 1 0 0 0 3 0 0 0 1 0 0 0 1 0 1 0 0 0 1 0 0 0 2 0 0 0 1 0 0 0 1 0 1 0 1 0 0 0 1 0 0 0 1 0 2 0 0 0 1 0 0 0 1 0 1 0 5 0 2 0 0 0 5 0 0 0 1 0 1 0 0 0 1 0 0 0 1 0 3 0 0 0 1 0 0 0 5 0 3 0 1 0 3 0 0 0 9 0 2 0 3 0 4 0-145 3 23 0 9 0 0 0 2 0 2 0 5 0 1 0 1 0 0 0 1 0 0 0 1 0 0 0 0 0 1 0 0 0 0 0 2 0 1 0 0 0 1 0 1 0 0 0 1 0 0 0 1 0 1 0 1 0 0 0 2 0 0 0 0 0 1 0 1 0 0 0 1 0 0 0 1 0 0 0 0 0 1 0 2 0 1 0 0 0 1 0 1 0 0 0 1 0 0 0 1 0 0 0 1 0 1 0 1 0 1 0 0 0 2 0 1 0 0 0 1 0 0 0 2 0 0 0 1 0 2 0 1 0 1 0 2 0 1 0 0 0 0 0 1 0 1 0 1 0 1 0 0 0 0 0 1 0 0 0 1 0 1 0 1 0 0 0 1 0 0 0 1 0 1 0 1 0 1 0 1 0 0 0 2 0 0 0 2 0 4 0 2 0 0 0 5 0 0 0 1 0 0 0 2 0 0 0 0 0 2 0 2 0 0 0 1 0 1 0 1 0 0 0 2 0 2 0 2 0 4 0 2 0 2 0 0 0 1 0 4 0 2 0 7 0-156 3 10 0 4 0 14 0 1 0 0 0 0 0 13 0 1 0 0 0 0 0 1 0 0 0 1 0 1 0 0 0 2 0 0 0 1 0 0 0 1 0 0 0 1 0 0 0 1 0 1 0 0 0 1 0 1 0 1 0 0 0 1 0 1 0 0 0 0 0 2 0 1 0 0 0 1 0 0 0 0 0 1 0 0 0 1 0 0 0 0 0 1 0 1 0 1 0 0 0 1 0 0 0 0 0 3 0 0 0 1 0 0 0 2 0 0 0 1 0 0 0 1 0 1 0 0 0 0 0 1 0 0 0 2 0 0 0 1 0 1 0 1 0 0 0 2 0 0 0 1 0 0 0 0 0 1 0 0 0 1 0 0 0 1 0 0 0 0 0 1 0 1 0 1 0 1 0 2 0 1 0 1 0 2 0 1 0 1 0 1 0 1 0 1 0 0 0 4 0 0 0 1 0 1 0 0 0 2 0 1 0 2 0 1 0 0 0 2 0 1 0 2 0 1 0 1 0 0 0 2 0 1 0 2 0 7 0 2 0 2 0 3 0-187 3 3 0 10 0 12 0 8 0 1 0 2 0 17 0 17 0 2 0 4 0 3 0 0 0 7 0 1 0 0 0 0 0 1 0 1 0 2 0 2 0 1 0 1 0 1 0 1 0 0 0 0 0 1 0 1 0 0 0 0 0 1 0 0 0 1 0 1 0 0 0 1 0 0 0 2 0 0 0 1 0 0 0 1 0 0 0 1 0 1 0 1 0 0 0 1 0 0 0 2 0 1 0 0 0 0 0 1 0 0 0 0 0 1 0 1 0 1 0 0 0 0 0 1 0 1 0 1 0 0 0 1 0 1 0 1 0 0 0 1 0 1 0 1 0 0 0 1 0 0 0 1 0 0 0 0 0 1 0 0 0 2 0 0 0 1 0 2 0 0 0 0 0 1 0 0 0 1 0 0 0 2 0 0 0 0 0 1 0 0 0 1 0 0 0 0 0 1 0 1 0 0 0 0 0 1 0 0 0 0 0 1 0 0 0 0 0 1 0 1 0 0 0 1 0 0 0 1 0 0 0 2 0 1 0 1 0 1 0 1 0 0 0 1 0 0 0 1 0 0 0 1 0 1 0 0 0 2 0 1 0 1 0 2 0 1 0 0 0 2 0 0 0 1 0 2 0 3 0 0 0 2 0 1 0 2 0 5 0 2 0 2 0 3 0 2 0 6 0 3 0-196 4 30 0 2 0 2 0 0 0 5 0 8 0 5 0 1 0 1 0 5 0 3 0 5 0 5 0 1 0 0 0 0 0 1 0 0 0 3 0 1 0 1 0 1 0 0 0 1 0 1 0 1 0 0 0 1 0 1 0 0 0 1 0 0 0 0 0 1 0 0 0 1 0 0 0 1 0 0 0 0 0 1 0 0 0 1 0 1 0 0 0 1 0 1 0 0 0 1 0 0 0 1 0 0 0 1 0 1 0 0 0 0 0 1 0 0 0 1 0 1 0 1 0 0 0 0 0 1 0 0 0 1 0 1 0 1 0 0 0 0 0 1 0 0 0 0 0 1 0 1 0 1 0 0 0 0 0 1 0 0 0 1 0 0 0 0 0 1 0 0 0 1 0 0 0 0 0 1 0 0 0 0 0 1 0 0 0 1 0 0 0 1 0 1 0 0 0 1 0 0 0 1 0 0 0 1 0 0 0 1 0 1 0 1 0 0 0 0 0 1 0 1 0 0 0 1 0 0 0 0 0 1 0 0 0 0 0 1 0 0 0 1 0 1 0 0 0 2 0 2 0 1 0 1 0 0 0 2 0 0 0 1 0 1 0 0 0 0 0 1 0 1 0 0 0 1 0 0 0 1 0 1 0 1 0 0 0 1 0 1 0 0 0 0 0 3 0 1 0 0 0 2 0 0 0 1 0 0 0 1 0 0 0 2 0 0 0 2 0 0 0 1 0 1 0 2 0 1 0 0 0 0 0 2 0 0 0 2 0 0 0 1 0 1 0 0 0 1 0 0 0 3 0 0 0 1 0 2 0 0 0 4 0 3 0 0 0 3 0 0 0 6 0 5 0-185 3 11 0 7 0 2 0 1 0 1 0 5 0 1 0 4 0 0 0 1 0 4 0 1 0 1 0 5 0 0 0 4 0 0 0 1 0 1 0 1 0 0 0 1 0 0 0 1 0 2 0 1 0 2 0 2 0 0 0 0 0 2 0 0 0 2 0 1 0 0 0 1 0 0 0 1 0 0 0 1 0 0 0 1 0 1 0 1 0 0 0 1 0 2 0 1 0 0 0 2 0 0 0 2 0 0 0 1 0 1 0 0 0 2 0 1 0 0 0 0 0 1 0 1 0 0 0 1 0 1 0 0 0 1 0 0 0 0 0 3 0 0 0 1 0 0 0 1 0 1 0 2 0 0 0 3 0 1 0 0 0 1 0 0 0 0 0 1 0 1 0 1 0 0 0 1 0 1 0 0 0 1 0 0 0 1 0 1 0 0 0 1 0 0 0 1 0 0 0 2 0 1 0 1 0 0 0 0 0 1 0 1 0 2 0 0 0 3 0 1 0 3 0 0 0 0 0 1 0 2 0 0 0 2 0 3 0 1 0 1 0 0 0 0 0 1 0 1 0 4 0 0 0 0 0 1 0 1 0 0 0 2 0 0 0 4 0 2 0 2 0 0 0 1 0 1 0 1 0 1 0 3 0 0 0 0 0 5 0 2 0 3 0 0 0 1 0 2 0 5 0 1 0 7 0 6 0-212 3 2 0 1 0 1 0 0 0 1 0 1 0 1 0 2 0 0 0 0 0 2 0 1 0 2 0 0 0 0 0 1 0 1 0 0 0 3 0 0 0 2 0 0 0 0 0 1 0 0 0 1 0 0 0 0 0 2 0 2 0 0 0 0 0 1 0 1 0 1 0 0 0 0 0 2 0 2 0 0 0 1 0 0 0 0 0 1 0 0 0 1 0 0 0 0 0 1 0 0 0 1 0 1 0 2 0 1 0 1 0 0 0 0 0 3 0 2 0 2 0 0 0 1 0 2 0 1 0 2 0 1 0 0 0 2 0 1 0 0 0 1 0 4 0 0 0 1 0 2 0 3 0 0 0 1 0 0 0 1 0 0 0 1 0 0 0 3 0 0 0 1 0 1 0 1 0 0 0 1 0 1 0 1 0 1 0 0 0 1 0 0 0 1 0 1 0 0 0 1 0 0 0 1 0 1 0 0 0 1 0 2 0 0 0 1 0 1 0 0 0 2 0 0 0 1 0 1 0 1 0 0 0 0 0 2 0 2 0 1 0 2 0 1 0 1 0 0 0 1 0 2 0 0 0 1 0 0 0 1 0 1 0 1 0 0 0 3 0 0 0 1 0 1 0 2 0 0 0 1 0 5 0 29 0 0 0 12 0 5 0 2 0 1 0 4 0 0 0 1 0 0 0 1 0 2 0 0 0 1 0 2 0 2 0 1 0 1 0 0 0 0 0 2 0 0 0 1 0 3 0 1 0 1 0 0 0 0 0 1 0 2 0 2 0 4 0 3 0 0 0-238 3 0 0 0 0 1 0 3 0 1 0 1 0 0 0 0 0 1 0 1 0 1 0 0 0 0 0 1 0 0 0 0 0 2 0 0 0 1 0 1 0 0 0 0 0 1 0 0 0 0 0 1 0 0 0 0 0 1 0 1 0 0 0 0 0 1 0 0 0 0 0 1 0 0 0 0 0 1 0 0 0 0 0 1 0 0 0 0 0 1 0 0 0 0 0 1 0 0 0 1 0 0 0 0 0 1 0 0 0 0 0 1 0 0 0 1 0 0 0 1 0 0 0 0 0 1 0 0 0 0 0 1 0 0 0 0 0 1 0 0 0 0 0 1 0 0 0 1 0 0 0 0 0 1 0 0 0 0 0 1 0 0 0 0 0 1 0 0 0 0 0 1 0 1 0 0 0 1 0 0 0 1 0 0 0 0 0 1 0 0 0 0 0 1 0 1 0 0 0 0 0 1 0 1 0 0 0 0 0 1 0 0 0 1 0 0 0 0 0 1 0 0 0 1 0 0 0 0 0 1 0 0 0 1 0 0 0 0 0 1 0 0 0 1 0 0 0 1 0 0 0 0 0 1 0 0 0 0 0 1 0 0 0 0 0 1 0 0 0 1 0 0 0 0 0 1 0 0 0 1 0 0 0 1 0 0 0 1 0 0 0 1 0 0 0 0 0 1 0 0 0 0 0 1 0 0 0 0 0 1 0 0 0 0 0 1 0 1 0 0 0 0 0 1 0 0 0 0 0 1 0 0 0 0 0 1 0 0 0 0 0 1 0 0 0 0 0 1 0 0 0 0 0 1 0 0 0 1 0 0 0 1 0 0 0 0 0 1 0 0 0 1 0 0 0 1 0 0 0 0 0 1 0 0 0 1 0 0 0 1 0 0 0 0 0 1 0 0 0 0 0 1 0 0 0 1 0 0 0 1 0 0 0 0 0 1 0 0 0 0 0 1 0 0 0 0 0 1 0 0 0 1 0 0 0 1 0 0 0 0 0 1 0 0 0 0 0 1 0 0 0 0 0 1 0 0 0 0 0 1 0 0 0 1 0 1 0 1 0 0 0 1 0 0 0 0 0 1 0 0 0 0 0 1 0 0 0 0 0 1 0 0 0 1 0 0 0 1 0 0 0 1 0 0 0 1 0 0 0 1 0 0 0 1 0 0 0 1 0 0 0 0 0 1 0 0 0 0 0 1 0 1 0 0 0 1 0 0 0 1 0 0 0 1 0 0 0 0 0 1 0 0 0 0 0 1 0 1 0 0 0 0 0 1 0 0 0 1 0 0 0 0 0 1 0 0 0 1 0 0 0 1 0 0 0 1 0 1 0 0 0 0 0 1 0 0 0 0 0 1 0 0 0 0 0 1 0 0 0 0 0 1 0 0 0 1 0 0 0 0 0 1 0 0 0 1 0 0 0 1 0 1 0 0 0 1 0 0 0 0 0 1 0 1 0 0 0 1 0 0 0 1 0 0 0 2 0 94 0 1 0 1 0 1 0 0 0"/>
<path class="r" clip-path="url(#c21)" d="M807.5 942.5l9 31 4 29-2 6-32 3 11 0 34 0-19 3 0 6-7 4 0 9 12 0-14 6 12 0 13 0 5 0-49 3 40 7-8 3 15 0-40 3 1 0 16 0 12 0 0 0-44 3 25 0 2 0 16 0 0 0 14 0-45 3 15 0 15 0 4 0 6 0 2 0 2 0 14 0-40 3 5 0 2 0 3 0 11 0-25 3 0 0 5 0 3 0 1 0 2 0 6 0 2 0 8 0 4 0 3 0-53 4 2 0 4 0 2 0 8 0 19 0 0 0 0 0 2 0 2 0 1 0 5 0 0 0 3 0 4 0 3 0 0 0-56 3 0 0 1 0 0 0 1 0 0 0 0 0 1 0 0 0 1 0 1 0 1 0 0 0 2 0 1 0 1 0 0 0 1 0 1 0 0 0 3 0 0 0 1 0 2 0 0 0 1 0 1 0 0 0 2 0 0 0 0 0 1 0 5 0 0 0 0 0 1 0 0 0 1 0 0 0 1 0 0 0 1 0 0 0 1 0 0 0 2 0 1 0 1 0 3 0 0 0 1 0 1 0 1 0 4 0 0 0 0 0 7 0 3 0 0 0 16 0-78 3 0 0 1 0 0 0 1 0 1 0 0 0 0 0 1 0 0 0 1 0 0 0 0 0 1 0 0 0 1 0 0 0 0 0 1 0 1 0 1 0 0 0 1 0 1 0 1 0 0 0 0 0 2 0 0 0 1 0 0 0 1 0 1 0 1 0 1 0 0 0 1 0 1 0 1 0 0 0 1 0 1 0 0 0 0 0 1 0 1 0 0 0 1 0 0 0 1 0 2 0 1 0 0 0 1 0 0 0 1 0 0 0 2 0 0 0 1 0 1 0 0 0 1 0 1 0 0 0 1 0 1 0 0 0 1 0 1 0 0 0 3 0 1 0 1 0 1 0 1 0 4 0 1 0 0 0 1 0 2 0 1 0 2 0 1 0 1 0 0 0 1 0 1 0 0 0 2 0 0 0 1 0 1 0 2 0 1 0 1 0 0 0 1 0 2 0 2 0 4 0 3 0 0 0-97 3 0 0 1 0 0 0 0 0 1 0 0 0 0 0 1 0 0 0 0 0 1 0 0 0 0 0 1 0 0 0 0 0 1 0 0 0 0 0 1 0 0 0 0 0 1 0 0 0 0 0 1 0 0 0 1 0 0 0 0 0 1 0 0 0 0 0 1 0 0 0 1 0 0 0 0 0 1 0 0 0 1 0 1 0 0 0 1 0 0 0 0 0 1 0 1 0 0 0 1 0 2 0 0 0 1 0 0 0 1 0 1 0 0 0 1 0 0 0 1 0 1 0 0 0 0 0 1 0 0 0 1 0 1 0 1 0 0 0 0 0 1 0 0 0 1 0 0 0 0 0 1 0 0 0 1 0 1 0 0 0 0 0 1 0 0 0 1 0 1 0 0 0 0 0 1 0 0 0 1 0 0 0 1 0 0 0 1 0 0 0 1 0 0 0 0 0 1 0 0 0 0 0 1 0 0 0 0 0 1 0 0 0 1 0 0 0 1 0 1 0 0 0 1 0 0 0 1 0 0 0 1 0 0 0 1 0 1 0 1 0 0 0 1 0 0 0 1 0 0 0 0 0 1 0 0 0 0 0 1 0 0 0 0 0 1 0 0 0 0 0 1 0 0 0 0 0 1 0 0 0 1 0 0 0 1 0 0 0 0 0 1 0 0 0 0 0 1 0 0 0 0 0 1 0 0 0 0 0 1 0 0 0 1 0 0 0 1 0 0 0 1 0 0 0 0 0 1 0 1 0 0 0 0 0 1 0 0 0 1 0 0 0 0 0 1 0 0 0 1 0 0 0 0 0 1 0 0 0 1 0 0 0 0 0 1 0 0 0 1 0 0 0 1 0 0 0 0 0 1 0 0 0 1 0 0 0 0 0 1 0 0 0 1 0 0 0 1 0 0 0 0 0 1 0 0 0 0 0 1 0 0 0 1 0 0 0 0 0 1 0 0 0 0 0 1 0 0 0 1 0 0 0 0 0 1 0 0 0 0 0 1 0 1 0 0 0"/>
<path class="tk" d="M589.5 1080.5v-5.5M589.5 798.5v5.5M627.5 1080.5v-5.5M627.5 798.5v5.5M665.5 1080.5v-5.5M665.5 798.5v5.5M703.5 1080.5v-5.5M703.5 798.5v5.5M741.5 1080.5v-5.5M741.5 798.5v5.5M778.5 1080.5v-5.5M778.5 798.5v5.5M816.5 1080.5v-5.5M816.5 798.5v5.5M854.5 1080.5v-5.5M854.5 798.5v5.5M892.5 1080.5v-5.5M892.5 798.5v5.5M589.5 1080.5h5.5M892.5 1080.5h-5.5M589.5 1049.5h5.5M892.5 1049.5h-5.5M589.5 1017.5h5.5M892.5 1017.5h-5.5M589.5 986.5h5.5M892.5 986.5h-5.5M589.5 955.5h5.5M892.5 955.5h-5.5M589.5 923.5h5.5M892.5 923.5h-5.5M589.5 892.5h5.5M892.5 892.5h-5.5M589.5 860.5h5.5M892.5 860.5h-5.5M589.5 829.5h5.5M892.5 829.5h-5.5M589.5 798.5h5.5M892.5 798.5h-5.5"/>
<rect class="ax" x="589.5" y="798.5" width="303" height="282"/>
<text class="t" x="589.3" y="1098.2" text-anchor="middle">−4</text>
<text class="t" x="627.2" y="1098.2" text-anchor="middle">−2</text>
<text class="t" x="665.1" y="1098.2" text-anchor="middle">0</text>
<text class="t" x="703" y="1098.2" text-anchor="middle">2</text>
<text class="t" x="740.9" y="1098.2" text-anchor="middle">4</text>
<text class="t" x="778.9" y="1098.2" text-anchor="middle">6</text>
<text class="t" x="816.8" y="1098.2" text-anchor="middle">8</text>
<text class="t" x="854.7" y="1098.2" text-anchor="middle">10</text>
<text class="t" x="892.6" y="1098.2" text-anchor="middle">12</text>
<text class="t" x="584.5" y="1085.3" text-anchor="end">0</text>
<text class="t" x="584.5" y="1053.9" text-anchor="end">10</text>
<text class="t" x="584.5" y="1022.6" text-anchor="end">20</text>
<text class="t" x="584.5" y="991.2" text-anchor="end">30</text>
<text class="t" x="584.5" y="959.8" text-anchor="end">40</text>
<text class="t" x="584.5" y="928.4" text-anchor="end">50</text>
<text class="t" x="584.5" y="897.1" text-anchor="end">60</text>
<text class="t" x="584.5" y="865.7" text-anchor="end">70</text>
<text class="t" x="584.5" y="834.3" text-anchor="end">80</text>
<text class="t" x="584.5" y="802.9" text-anchor="end">90</text>
<text class="t" x="740.5" y="1119.8" text-anchor="middle">gamma</text>
</g>
<g id="ax22">
<path class="b" clip-path="url(#c22)" d="M1153.5 820.5l29 25-34 28 2 3-37 3 82 16-19 3-70 3 8 0-11 6 55 0-18 4-31 6 34 0-35 3 2 0 29 0 31 0 28 0-90 3-3 3 35 0 38 10-68 3 88 0 8 0 3 3-94 3 11 0 86 0-104 3 45 0 8 0 46 0-97 3 8 0 29 0 49 0-92 4 93 0-58 3 7 0 43 0-51 3 2 3 8 0 6 0 22 0 19 0-101 3 8 0 8 0 61 0-5 3 24 0-79 3 18 0 72 3-101 4 4 0 4 0 36 0-34 3 33 0 9 0 9 0 13 0 14 0 11 0-102 3 15 0 98 0-102 3 37 0 8 0 49 0-98 3 50 0 16 0 35 0-92 3 15 0 8 0 20 0 4 0 1 0 27 0 9 0-101 3 10 0 4 0 35 0 20 0 11 0 39 0-119 4 3 0 3 0 1 0 3 0 2 0 39 0 25 0 27 0 12 0 5 0-108 3 1 0 22 0 60 0-90 3 14 0 23 0 28 0 9 0 18 0 3 0 1 0 23 0-117 3 9 0 19 0 16 0 2 0 5 0 2 0 10 0 1 0 30 0 3 0 1 0 2 0 13 0-121 3 1 0 14 0 5 0 36 0 5 0 13 0 3 0 16 0 1 0 6 0 12 0 4 0 3 0-122 3 13 0 0 0 0 0 1 0 2 0 1 0 6 0 4 0 3 0 8 0 27 0 2 0 10 0 9 0 1 0 0 0 14 0 27 0-123 3 1 0 6 0 2 0 1 0 3 0 1 0 2 0 1 0 1 0 5 0 0 0 1 0 31 0 8 0 1 0 5 0 1 0 2 0 2 0 1 0 2 0 9 0 25 0 6 0 1 0 0 0 1 0-128 4 10 0 2 0 0 0 9 0 4 0 7 0 1 0 1 0 3 0 1 0 0 0 5 0 3 0 10 0 9 0 1 0 3 0 5 0 2 0 1 0 6 0 1 0 5 0 2 0 5 0 2 0 2 0 1 0 2 0 7 0 1 0 19 0-128 3 15 0 1 0 10 0 17 0 0 0 2 0 2 0 1 0 4 0 6 0 5 0 1 0 4 0 5 0 8 0 3 0 1 0 6 0 1 0 2 0 5 0 3 0 8 0 11 0-129 3 3 0 2 0 1 0 9 0 3 0 7 0 2 0 10 0 9 0 0 0 9 0 6 0 0 0 5 0 0 0 3 0 1 0 2 0 1 0 1 0 3 0 6 0 0 0 5 0 5 0 0 0 3 0 0 0 3 0 5 0 5 0 3 0 0 0 1 0 5 0 2 0 4 0 4 0 0 0 10 0 0 0-129 3 11 0 0 0 8 0 1 0 0 0 4 0 5 0 5 0 14 0 0 0 4 0 3 0 4 0 5 0 2 0 7 0 2 0 2 0 5 0 1 0 0 0 3 0 2 0 1 0 9 0 5 0 1 0 0 0 7 0 5 0 3 0 1 0 0 0 1 0 0 0 7 0 1 0-131 3 9 0 2 0 4 0 1 0 5 0 1 0 1 0 4 0 4 0 8 0 6 0 1 0 2 0 7 0 5 0 1 0 2 0 1 0 1 0 3 0 5 0 2 0 1 0 6 0 3 0 0 0 0 0 5 0 1 0 3 0 0 0 1 0 5 0 6 0 3 0 1 0 3 0 3 0 1 0 1 0 4 0 2 0-115 3 2 0 2 0 4 0 3 0 1 0 1 0 6 0 6 0 10 0 2 0 1 0 2 0 5 0 3 0 4 0 0 0 1 0 2 0 1 0 2 0 4 0 1 0 1 0 11 0 3 0 7 0 2 0 0 0 3 0 1 0 3 0 0 0 0 0 1 0 1 0 1 0 1 0 0 0 1 0 3 0 2 0 1 0 2 0 1 0 1 0 9 0 1 0 2 0-151 3 18 0 9 0 1 0 0 0 0 0 2 0 0 0 2 0 3 0 6 0 0 0 4 0 2 0 2 0 3 0 6 0 0 0 4 0 3 0 6 0 1 0 1 0 0 0 3 0 8 0 2 0 3 0 3 0 5 0 1 0 0 0 2 0 4 0 1 0 1 0 0 0 1 0 2 0 0 0 1 0 1 0 6 0 1 0 2 0 0 0 1 0 2 0 2 0 1 0 2 0 0 0 1 0 1 0 0 0 0 0 2 0 0 0 1 0 1 0 1 0 0 0 1 0 3 0 1 0 0 0 1 0 11 0 8 0-152 3 14 0 3 0 4 0 1 0 1 0 2 0 1 0 2 0 3 0 2 0 1 0 0 0 2 0 0 0 2 0 2 0 0 0 1 0 0 0 17 0 0 0 8 0 1 0 3 0 7 0 2 0 1 0 1 0 0 0 0 0 1 0 2 0 13 0 4 0 2 0 4 0 3 0 2 0 5 0 5 0 5 0 3 0 1 0 2 0 1 0 2 0 3 0 2 0 3 0 4 0 5 0-164 4 18 0 12 0 3 0 2 0 11 0 5 0 1 0 2 0 8 0 3 0 1 0 1 0 1 0 4 0 1 0 1 0 1 0 2 0 3 0 0 0 0 0 1 0 0 0 1 0 0 0 1 0 1 0 0 0 5 0 1 0 1 0 2 0 2 0 0 0 2 0 3 0 1 0 0 0 2 0 7 0 7 0 2 0 1 0 0 0 0 0 5 0 2 0 5 0 1 0 1 0 0 0 2 0 1 0 2 0 3 0 1 0 1 0 1 0 2 0 1 0 0 0 1 0 0 0 0 0 2 0 6 0-144 3 10 0 11 0 6 0 2 0 1 0 0 0 5 0 5 0 1 0 1 0 1 0 1 0 5 0 5 0 1 0 8 0 0 0 1 0 4 0 0 0 2 0 8 0 1 0 0 0 3 0 1 0 1 0 7 0 1 0 0 0 1 0 0 0 2 0 1 0 0 0 1 0 2 0 0 0 1 0 1 0 1 0 1 0 0 0 1 0 2 0 0 0 1 0 2 0 2 0 0 0 4 0 1 0 0 0 1 0 1 0 1 0 2 0 0 0 1 0 2 0 0 0 0 0 1 0 1 0 0 0 2 0 4 0 0 0 0 0 1 0 5 0 0 0 1 0 1 0 0 0 6 0 0 0 1 0 1 0 0 0 1 0-163 3 4 0 6 0 0 0 2 0 1 0 3 0 16 0 2 0 4 0 0 0 1 0 1 0 1 0 0 0 1 0 2 0 3 0 2 0 0 0 0 0 4 0 0 0 1 0 3 0 0 0 1 0 1 0 4 0 1 0 1 0 6 0 2 0 1 0 1 0 3 0 1 0 11 0 0 0 2 0 0 0 2 0 1 0 2 0 0 0 1 0 4 0 3 0 1 0 2 0 1 0 0 0 0 0 1 0 3 0 0 0 1 0 2 0 0 0 1 0 0 0 1 0 1 0 2 0 1 0 0 0 1 0 1 0 0 0 1 0 0 0 3 0 2 0 1 0 1 0 1 0 0 0 0 0 1 0 2 0 2 0 0 0 2 0 1 0 1 0 0 0 2 0 0 0 0 0 3 0 2 0 1 0 1 0 0 0 1 0 2 0 5 0 0 0 4 0 2 0-151 3 7 0 3 0 7 0 1 0 1 0 1 0 2 0 2 0 0 0 2 0 4 0 2 0 1 0 1 0 1 0 2 0 0 0 5 0 0 0 5 0 0 0 5 0 1 0 0 0 8 0 0 0 2 0 0 0 1 0 0 0 1 0 2 0 2 0 2 0 1 0 0 0 1 0 0 0 6 0 1 0 0 0 2 0 1 0 0 0 0 0 1 0 1 0 0 0 1 0 0 0 2 0 0 0 1 0 2 0 1 0 2 0 0 0 1 0 2 0 1 0 0 0 1 0 1 0 0 0 2 0 0 0 1 0 1 0 1 0 2 0 2 0 0 0 1 0 4 0 4 0 2 0 1 0 1 0 1 0 0 0 1 0 1 0 1 0 1 0 0 0 1 0 0 0 1 0 3 0 0 0 5 0 3 0 1 0 0 0 7 0-166 3 3 0 9 0 1 0 6 0 2 0 14 0 2 0 0 0 1 0 1 0 1 0 3 0 0 0 3 0 2 0 0 0 1 0 0 0 3 0 1 0 0 0 1 0 1 0 3 0 3 0 2 0 5 0 1 0 4 0 6 0 4 0 1 0 0 0 0 0 1 0 0 0 3 0 0 0 0 0 4 0 1 0 2 0 0 0 2 0 0 0 2 0 1 0 1 0 3 0 1 0 1 0 1 0 1 0 1 0 0 0 1 0 1 0 3 0 1 0 1 0 3 0 4 0 1 0 3 0 2 0 2 0 1 0 0 0 1 0 2 0 1 0 2 0 0 0 7 0 0 0 2 0 0 0 0 0 1 0 2 0 0 0 1 0 3 0 0 0 0 0 1 0 0 0 6 0 0 0 3 0 5 0-169 3 24 0 3 0 1 0 2 0 4 0 6 0 5 0 2 0 1 0 1 0 0 0 1 0 1 0 3 0 1 0 3 0 1 0 2 0 0 0 0 0 1 0 5 0 2 0 3 0 0 0 2 0 1 0 0 0 2 0 0 0 0 0 3 0 1 0 0 0 1 0 0 0 1 0 0 0 1 0 0 0 4 0 3 0 0 0 1 0 2 0 0 0 2 0 2 0 2 0 3 0 1 0 1 0 0 0 1 0 1 0 0 0 1 0 1 0 0 0 1 0 0 0 0 0 1 0 0 0 1 0 1 0 1 0 0 0 1 0 0 0 1 0 3 0 0 0 1 0 0 0 0 0 1 0 1 0 2 0 0 0 0 0 1 0 1 0 1 0 0 0 0 0 1 0 1 0 1 0 1 0 1 0 1 0 1 0 0 0 2 0 1 0 0 0 0 0 2 0 1 0 0 0 0 0 1 0 1 0 0 0 1 0 1 0 1 0 0 0 1 0 1 0 1 0 0 0 0 0 1 0 0 0 2 0 2 0 0 0 1 0 0 0 2 0 0 0 2 0 0 0 2 0 0 0 1 0 1 0 3 0 1 0 1 0 1 0 2 0-179 3 6 0 22 0 5 0 4 0 3 0 1 0 1 0 1 0 0 0 1 0 2 0 0 0 1 0 3 0 0 0 0 0 4 0 1 0 0 0 0 0 1 0 1 0 0 0 1 0 1 0 0 0 1 0 1 0 2 0 1 0 0 0 1 0 1 0 4 0 3 0 0 0 3 0 0 0 1 0 2 0 2 0 2 0 0 0 0 0 1 0 0 0 0 0 6 0 1 0 1 0 0 0 1 0 2 0 1 0 0 0 0 0 2 0 1 0 0 0 1 0 0 0 0 0 1 0 1 0 0 0 2 0 0 0 2 0 3 0 2 0 1 0 0 0 1 0 3 0 4 0 0 0 1 0 1 0 0 0 2 0 1 0 0 0 1 0 2 0 4 0 0 0 0 0 1 0 0 0 1 0 1 0 2 0 0 0 0 0 1 0 1 0 0 0 0 0 1 0 0 0 1 0 2 0 1 0 1 0 1 0 0 0 1 0 2 0 0 0 1 0 1 0 1 0 2 0 1 0 0 0 1 0 0 0 0 0 2 0 1 0 0 0 1 0 0 0 1 0 1 0 1 0 1 0 4 0 0 0 1 0 1 0 1 0 0 0 1 0 0 0 1 0 0 0 3 0 1 0 0 0 3 0-182 4 9 0 11 0 8 0 1 0 5 0 10 0 1 0 0 0 1 0 1 0 0 0 4 0 0 0 2 0 1 0 0 0 1 0 0 0 2 0 1 0 0 0 1 0 1 0 0 0 3 0 0 0 1 0 0 0 0 0 1 0 1 0 0 0 1 0 0 0 1 0 1 0 0 0 2 0 1 0 2 0 2 0 0 0 3 0 0 0 4 0 1 0 2 0 1 0 1 0 1 0 0 0 0 0 2 0 0 0 0 0 2 0 1 0 2 0 0 0 2 0 0 0 1 0 0 0 0 0 1 0 1 0 0 0 1 0 1 0 1 0 2 0 1 0 1 0 0 0 0 0 1 0 3 0 1 0 0 0 1 0 0 0 0 0 1 0 0 0 0 0 1 0 0 0 0 0 1 0 1 0 0 0 1 0 0 0 1 0 1 0 0 0 0 0 2 0 1 0 2 0 0 0 2 0 0 0 1 0 0 0 0 0 1 0 1 0 1 0 0 0 1 0 0 0 3 0 1 0 0 0 1 0 4 0 0 0 1 0 0 0 1 0 0 0 1 0 1 0 0 0 1 0 0 0 0 0 3 0 0 0 1 0 1 0 0 0 1 0 0 0 1 0 1 0 0 0 0 0 1 0 0 0 1 0 2 0 0 0 0 0 1 0 0 0 1 0 1 0 1 0 1 0 0 0 2 0 1 0 1 0 1 0 1 0 2 0 0 0 1 0 0 0 1 0 0 0 2 0 2 0 1 0 0 0 1 0 4 0-199 3 6 0 14 0 4 0 5 0 1 0 0 0 5 0 3 0 0 0 2 0 0 0 4 0 1 0 0 0 1 0 6 0 2 0 6 0 1 0 0 0 1 0 1 0 1 0 0 0 1 0 0 0 0 0 1 0 1 0 0 0 0 0 1 0 1 0 1 0 1 0 0 0 1 0 0 0 1 0 1 0 2 0 2 0 1 0 1 0 0 0 0 0 1 0 3 0 2 0 1 0 0 0 1 0 3 0 3 0 2 0 0 0 0 0 2 0 1 0 1 0 0 0 1 0 2 0 2 0 1 0 0 0 1 0 0 0 0 0 1 0 0 0 1 0 0 0 1 0 0 0 0 0 1 0 1 0 0 0 1 0 1 0 2 0 1 0 1 0 1 0 0 0 1 0 0 0 2 0 0 0 1 0 1 0 0 0 1 0 1 0 0 0 0 0 1 0 1 0 0 0 4 0 0 0 1 0 0 0 0 0 1 0 1 0 0 0 2 0 0 0 3 0 0 0 1 0 4 0 0 0 1 0 0 0 1 0 1 0 1 0 0 0 2 0 0 0 1 0 2 0 0 0 1 0 1 0 0 0 1 0 2 0 2 0 2 0 1 0 0 0 0 0 1 0 0 0 1 0 0 0 1 0 0 0 2 0 1 0 0 0 1 0 1 0 0 0 1 0 0 0 0 0 3 0 0 0 0 0 1 0 0 0 1 0 2 0 0 0 2 0 0 0 0 0 3 0 0 0 1 0 1 0 1 0 1 0 1 0 0 0 1 0 1 0 1 0 1 0 2 0 2 0 1 0-200 3 1 0 0 0 2 0 2 0 2 0 0 0 1 0 0 0 1 0 1 0 0 0 2 0 1 0 1 0 0 0 1 0 1 0 1 0 0 0 0 0 1 0 0 0 0 0 2 0 0 0 3 0 0 0 2 0 1 0 0 0 1 0 0 0 1 0 1 0 0 0 0 0 1 0 0 0 1 0 1 0 2 0 0 0 1 0 0 0 1 0 3 0 1 0 0 0 3 0 1 0 0 0 2 0 1 0 2 0 2 0 1 0 1 0 2 0 1 0 1 0 0 0 1 0 1 0 2 0 3 0 0 0 1 0 2 0 1 0 0 0 1 0 0 0 1 0 2 0 0 0 0 0 3 0 0 0 0 0 2 0 1 0 2 0 0 0 1 0 2 0 0 0 1 0 1 0 2 0 1 0 0 0 1 0 0 0 0 0 2 0 2 0 0 0 0 0 1 0 2 0 1 0 1 0 0 0 0 0 2 0 0 0 1 0 0 0 1 0 1 0 0 0 2 0 1 0 2 0 3 0 1 0 2 0 1 0 0 0 0 0 1 0 1 0 0 0 1 0 1 0 1 0 0 0 1 0 1 0 1 0 1 0 1 0 1 0 0 0 1 0 1 0 0 0 1 0 2 0 0 0 3 0 1 0 1 0 2 0 2 0 0 0 1 0 0 0 1 0 1 0 0 0 1 0 2 0 1 0 1 0 0 0 3 0 0 0 1 0 1 0 1 0 0 0 1 0 0 0 1 0 1 0 0 0 1 0 0 0 1 0 2 0 1 0 0 0 2 0 1 0 1 0 1 0 1 0 1 0 0 0 1 0 0 0 5 0 2 0 1 0 0 0 1 0 2 0 1 0 1 0 0 0 1 0 0 0 1 0 0 0 0 0 2 0 0 0 1 0 1 0 1 0 1 0 0 0 1 0 0 0 1 0 0 0 0 0 1 0 1 0 1 0 5 0-259 3 1 0 0 0 0 0 1 0 1 0 1 0 0 0 1 0 1 0 0 0 2 0 0 0 0 0 1 0 0 0 1 0 0 0 1 0 4 0 1 0 0 0 0 0 1 0 0 0 0 0 1 0 0 0 1 0 0 0 0 0 1 0 0 0 1 0 2 0 0 0 1 0 1 0 0 0 2 0 0 0 0 0 1 0 0 0 0 0 1 0 1 0 1 0 0 0 0 0 1 0 0 0 0 0 1 0 0 0 0 0 1 0 0 0 0 0 1 0 0 0 1 0 0 0 0 0 1 0 0 0 0 0 1 0 0 0 0 0 1 0 0 0 0 0 1 0 0 0 0 0 1 0 0 0 1 0 1 0 0 0 0 0 1 0 0 0 2 0 0 0 0 0 1 0 0 0 0 0 1 0 0 0 0 0 1 0 0 0 0 0 1 0 0 0 0 0 1 0 0 0 0 0 1 0 0 0 0 0 1 0 0 0 0 0 1 0 0 0 0 0 1 0 0 0 0 0 1 0 0 0 0 0 1 0 0 0 0 0 1 0 0 0 1 0 0 0 0 0 1 0 0 0 0 0 1 0 0 0 1 0 0 0 0 0 1 0 0 0 0 0 1 0 0 0 0 0 1 0 0 0 1 0 0 0 1 0 0 0 1 0 0 0 1 0 0 0 0 0 1 0 0 0 0 0 1 0 0 0 0 0 1 0 0 0 1 0 0 0 1 0 0 0 1 0 0 0 1 0 1 0 0 0 0 0 1 0 0 0 0 0 1 0 0 0 0 0 1 0 0 0 0 0 1 0 0 0 0 0 1 0 0 0 0 0 1 0 0 0 0 0 1 0 0 0 1 0 0 0 0 0 1 0 0 0 1 0 1 0 0 0 1 0 0 0 1 0 0 0 0 0 2 0 1 0 2 0 0 0 28 0 5 0 0 0 1 0 0 0 0 0 1 0 0 0 1 0 0 0 0 0 1 0 0 0 0 0 1 0 0 0 1 0 0 0 0 0 1 0 0 0 0 0 1 0 0 0 0 0 1 0 0 0 0 0 1 0 1 0 0 0 1 0 0 0 0 0 1 0 0 0 1 0 0 0 1 0 0 0 1 0 0 0 0 0 1 0 0 0 1 0 0 0 2 0 0 0 0 0 1 0 0 0 1 0 0 0 0 0 1 0 1 0 0 0 1 0 0 0 0 0 1 0 0 0 0 0 1 0 0 0 1 0 0 0 1 0 0 0 0 0 1 0 1 0 1 0 0 0 1 0 0 0 0 0 1 0 0 0 0 0 1 0 0 0 1 0 0 0 0 0 3 0 1 0 86 0 1 0 1 0 1 0 1 0 0 0 0 0"/>
<path class="r" clip-path="url(#c22)" d="M1197.5 995.5l13 35-5 9-2 3-4 7-2 9 21 0-28 6 15 0-10 3 12 0 15 0-17 4 18 0-151 3 133 0 1 0 27 0-76 3-121 3 4 0 2 0 1 0 3 0 3 0 5 0 3 0 8 0 1 0 0 0 1 0 0 0 0 0 1 0 0 0 0 0 1 0 0 0 0 0 1 0 0 0 0 0 1 0 0 0 0 0 1 0 0 0 0 0 1 0 0 0 0 0 1 0 0 0 0 0 1 0 0 0 0 0 1 0 0 0 0 0 1 0 0 0 0 0 1 0 0 0 0 0 1 0 0 0 0 0 1 0 0 0 0 0 1 0 0 0 0 0 1 0 0 0 0 0 1 0 0 0 0 0 1 0 0 0 0 0 1 0 0 0 0 0 1 0 0 0 0 0 1 0 0 0 0 0 1 0 0 0 0 0 1 0 0 0 0 0 1 0 0 0 0 0 1 0 0 0 0 0 1 0 0 0 0 0 1 0 0 0 0 0 1 0 0 0 0 0 1 0 0 0 0 0 1 0 0 0 0 0 1 0 0 0 0 0 1 0 0 0 0 0 1 0 0 0 0 0 1 0 0 0 0 0 1 0 0 0 0 0 1 0 1 0 3 0 0 0 3 0 0 0 3 0 0 0 0 0 1 0 28 0 0 0 0 0 1 0 0 0 0 0 1 0 0 0 0 0 1 0 0 0 0 0 1 0 0 0 0 0 1 0 0 0 0 0 1 0 0 0 0 0 1 0 0 0 0 0 1 0 0 0 0 0 1 0 0 0 0 0 1 0 0 0 0 0 1 0 0 0 0 0 1 0 0 0 0 0 1 0 0 0 0 0 1 0 0 0 0 0 1 0 0 0 0 0 1 0 0 0 0 0 1 0 0 0 0 0 1 0 0 0 0 0 1 0 0 0 1 0 0 0 0 0 1 0 0 0 0 0 1 0 0 0 0 0 1 0 0 0 0 0 1 0 0 0 0 0 1 0 0 0 0 0 1 0 0 0 0 0 1 0 0 0 0 0 1 0 0 0 0 0 1 0 0 0 0 0 1 0 0 0 0 0 1 0 0 0 0 0 1 0 0 0 0 0 1 0 0 0 0 0 1 0 0 0 0 0 1 0 0 0 0 0 1 0 0 0 0 0 1 0 0 0 0 0 1 0 0 0 0 0 1 0 0 0 0 0 1 0 0 0 0 0 1 0 0 0 0 0 1 0 0 0 0 0 1 0 0 0 0 0 1 0 0 0 0 0 1 0 0 0 0 0 1 0 0 0 0 0 1 0 0 0 0 0 1 0 0 0 0 0 1 0 0 0 0 0 1 0 0 0 0 0 1 0 0 0 0 0 1 0 0 0 0 0 1 0 0 0 0 0 1 0 0 0 0 0 1 0 0 0 0 0 1 0 0 0 0 0 1 0 0 0 0 0 1 0 0 0 0 0 1 0 0 0 0 0 1 0 0 0 0 0 1 0 0 0 0 0 1 0 0 0 0 0 1 0 0 0 0 0 1 0 0 0 0 0 1 0 0 0 0 0 1 0 0 0 0 0 1 0 0 0 0 0 1 0 0 0 0 0 1 0 0 0 0 0 1 0 0 0 0 0 1 0 0 0 0 0 1 0 0 0 0 0 1 0 0 0 0 0 1 0 0 0 0 0 1 0 0 0 0 0 1 0 0 0 0 0 1 0 0 0 0 0 1 0 0 0 0 0 1 0 0 0 0 0 1 0 0 0 0 0 1 0 0 0 0 0 1 0 0 0 0 0 1 0 0 0 0 0 1 0 0 0 0 0 1 0 0 0 0 0 1 0 0 0 0 0 1 0 0 0 0 0 1 0 0 0 0 0 1 0 0 0 0 0 1 0 0 0 0 0 1 0 0 0 0 0"/>
<path class="tk" d="M953.5 1080.5v-5.5M953.5 798.5v5.5M991.5 1080.5v-5.5M991.5 798.5v5.5M1029.5 1080.5v-5.5M1029.5 798.5v5.5M1067.5 1080.5v-5.5M1067.5 798.5v5.5M1104.5 1080.5v-5.5M1104.5 798.5v5.5M1142.5 1080.5v-5.5M1142.5 798.5v5.5M1180.5 1080.5v-5.5M1180.5 798.5v5.5M1218.5 1080.5v-5.5M1218.5 798.5v5.5M1256.5 1080.5v-5.5M1256.5 798.5v5.5M953.5 1080.5h5.5M1256.5 1080.5h-5.5M953.5 1049.5h5.5M1256.5 1049.5h-5.5M953.5 1017.5h5.5M1256.5 1017.5h-5.5M953.5 986.5h5.5M1256.5 986.5h-5.5M953.5 955.5h5.5M1256.5 955.5h-5.5M953.5 923.5h5.5M1256.5 923.5h-5.5M953.5 892.5h5.5M1256.5 892.5h-5.5M953.5 860.5h5.5M1256.5 860.5h-5.5M953.5 829.5h5.5M1256.5 829.5h-5.5M953.5 798.5h5.5M1256.5 798.5h-5.5"/>
<rect class="ax" x="953.5" y="798.5" width="303" height="282"/>
<text class="t" x="953.2" y="1098.2" text-anchor="middle">−4</text>
<text class="t" x="991.1" y="1098.2" text-anchor="middle">−2</text>
<text class="t" x="1029" y="1098.2" text-anchor="middle">0</text>
<text class="t" x="1066.9" y="1098.2" text-anchor="middle">2</text>
<text class="t" x="1104.9" y="1098.2" text-anchor="middle">4</text>
<text class="t" x="1142.8" y="1098.2" text-anchor="middle">6</text>
<text class="t" x="1180.7" y="1098.2" text-anchor="middle">8</text>
<text class="t" x="1218.6" y="1098.2" text-anchor="middle">10</text>
<text class="t" x="1256.5" y="1098.2" text-anchor="middle">12</text>
<text class="t" x="948.4" y="1085.3" text-anchor="end">0</text>
<text class="t" x="948.4" y="1053.9" text-anchor="end">10</text>
<text class="t" x="948.4" y="1022.6" text-anchor="end">20</text>
<text class="t" x="948.4" y="991.2" text-anchor="end">30</text>
<text class="t" x="948.4" y="959.8" text-anchor="end">40</text>
<text class="t" x="948.4" y="928.4" text-anchor="end">50</text>
<text class="t" x="948.4" y="897.1" text-anchor="end">60</text>
<text class="t" x="948.4" y="865.7" text-anchor="end">70</text>
<text class="t" x="948.4" y="834.3" text-anchor="end">80</text>
<text class="t" x="948.4" y="802.9" text-anchor="end">90</text>
<text class="t" x="1104.5" y="1119.8" text-anchor="middle">capeshear</text>
</g>
<g id="ax23">
<path class="b" clip-path="url(#c23)" d="M1391.5 820.5l-29 25-39 28 143 3-3 3-65 16 4 3-10 3 82 0-88 6 32 0-72 4 36 6 81 0-111 3 10 0 71 0 10 0-92 3 78 3 19 0-105 10 9 3 29 0 65 0-80 3 22 3 7 0 81 0-96 3 17 0 47 0 18 0-89 3 76 0 49 0 5 0-121 4 41 0-57 3 10 0 13 3-59 3 28 0 16 0 4 0-27 3 9 0 2 0 51 0 35 0-91 3 23 0-57 3 56 0 84 0-86 3 12 4 20 0 4 0 26 0 15 0 28 0-156 3 1 0 4 0 14 0 21 0 24 0 37 0 2 0 19 0-115 3 13 0 0 0 10 0 103 0 1 0-133 3 24 0 27 0 33 0 2 0 26 0-121 3 18 0 3 0 2 0 68 0 1 0 3 0 14 0 23 0 31 0 2 0-152 3 15 0 30 0 58 0 15 0-129 3 3 0 8 0 24 0 6 0 19 0 8 0 72 0 17 0 15 0 4 0-178 4 30 0 32 0 20 0 59 0-136 3 12 0 7 0 29 0 18 0 8 0 1 0 104 0-157 3 2 0 0 0 13 0 1 0 3 0 8 0 22 0 1 0 32 0 17 0 54 0-162 3 7 0 6 0 5 0 1 0 8 0 0 0 14 0 12 0 14 0 6 0 38 0 15 0 1 0 3 0-128 3 16 0 11 0 10 0 2 0 4 0 1 0 10 0 3 0 9 0 5 0 10 0 80 0-163 3 0 0 3 0 4 0 5 0 6 0 8 0 1 0 6 0 18 0 4 0 5 0 0 0 2 0 5 0 5 0 0 0 3 0 53 0-138 3 10 0 1 0 8 0 3 0 5 0 1 0 2 0 0 0 11 0 7 0 9 0 5 0 4 0 0 0 1 0 0 0 5 0 1 0 6 0 1 0 1 0 0 0 19 0 8 0 13 0 7 0-131 4 1 0 0 0 14 0 0 0 5 0 8 0 2 0 0 0 2 0 0 0 11 0 8 0 3 0 2 0 0 0 2 0 2 0 4 0 22 0 1 0 2 0 53 0 10 0-155 3 1 0 12 0 3 0 0 0 0 0 2 0 2 0 9 0 0 0 2 0 5 0 2 0 4 0 5 0 3 0 4 0 0 0 0 0 3 0 3 0 3 0 1 0 5 0 1 0 2 0 1 0 1 0 2 0 0 0 2 0 4 0 4 0 1 0 7 0 2 0 5 0 1 0 5 0 4 0 3 0 4 0 1 0 38 0-153 3 18 0 7 0 0 0 4 0 6 0 1 0 6 0 6 0 3 0 4 0 1 0 4 0 4 0 5 0 0 0 11 0 3 0 9 0 4 0 0 0 2 0 1 0 0 0 4 0 9 0 2 0 2 0 11 0 20 0 2 0 26 0-178 3 9 0 0 0 1 0 0 0 5 0 9 0 2 0 1 0 4 0 0 0 1 0 7 0 0 0 3 0 1 0 16 0 2 0 1 0 10 0 2 0 2 0 4 0 2 0 9 0 2 0 6 0 6 0 0 0 1 0 8 0 7 0 1 0 7 0 0 0 5 0 8 0 12 0 14 0 1 0 6 0 2 0-181 3 1 0 7 0 0 0 1 0 3 0 1 0 9 0 3 0 3 0 2 0 2 0 4 0 1 0 3 0 1 0 8 0 5 0 1 0 1 0 0 0 6 0 2 0 6 0 5 0 1 0 5 0 2 0 1 0 0 0 1 0 0 0 0 0 13 0 0 0 3 0 1 0 6 0 0 0 14 0 2 0 17 0 13 0 34 0 12 0-200 3 1 0 1 0 1 0 0 0 2 0 9 0 1 0 9 0 3 0 3 0 12 0 3 0 0 0 0 0 6 0 10 0 4 0 4 0 1 0 7 0 6 0 0 0 3 0 1 0 3 0 0 0 4 0 2 0 2 0 6 0 2 0 1 0 3 0 7 0 4 0 2 0 1 0 5 0 1 0 10 0 6 0 1 0 12 0-158 3 2 0 1 0 6 0 1 0 3 0 1 0 0 0 0 0 7 0 1 0 1 0 1 0 0 0 8 0 1 0 5 0 1 0 4 0 3 0 0 0 6 0 0 0 3 0 0 0 0 0 5 0 1 0 8 0 1 0 0 0 0 0 5 0 4 0 0 0 2 0 4 0 6 0 6 0 5 0 7 0 2 0 3 0 0 0 2 0 5 0 4 0 6 0 0 0 0 0 1 0 3 0 0 0 16 0 1 0 11 0-156 3 1 0 0 0 1 0 9 0 2 0 1 0 0 0 7 0 0 0 3 0 0 0 3 0 1 0 1 0 1 0 0 0 0 0 1 0 2 0 1 0 0 0 1 0 3 0 1 0 1 0 3 0 1 0 1 0 1 0 4 0 3 0 3 0 0 0 2 0 1 0 0 0 3 0 0 0 0 0 1 0 2 0 0 0 4 0 3 0 1 0 6 0 1 0 0 0 0 0 3 0 6 0 2 0 1 0 2 0 10 0 2 0 7 0 28 0 4 0 2 0 14 0 2 0-170 4 4 0 3 0 2 0 2 0 2 0 1 0 1 0 1 0 1 0 2 0 2 0 0 0 1 0 2 0 1 0 1 0 3 0 1 0 5 0 3 0 3 0 0 0 3 0 1 0 2 0 3 0 2 0 1 0 0 0 3 0 0 0 0 0 2 0 3 0 2 0 2 0 6 0 2 0 1 0 2 0 2 0 1 0 8 0 1 0 6 0 2 0 0 0 0 0 3 0 5 0 8 0 1 0 1 0 7 0 0 0 9 0 2 0 2 0 3 0 8 0 1 0 0 0 1 0 5 0 10 0 5 0 2 0 9 0 0 0 14 0-193 3 2 0 3 0 0 0 1 0 1 0 1 0 2 0 2 0 0 0 1 0 1 0 2 0 0 0 0 0 1 0 3 0 2 0 1 0 0 0 0 0 2 0 0 0 2 0 3 0 4 0 4 0 0 0 0 0 2 0 2 0 1 0 0 0 1 0 1 0 1 0 0 0 1 0 1 0 3 0 1 0 3 0 1 0 2 0 0 0 4 0 0 0 2 0 2 0 0 0 1 0 0 0 0 0 1 0 1 0 0 0 1 0 1 0 0 0 4 0 7 0 0 0 4 0 1 0 0 0 5 0 7 0 0 0 0 0 2 0 5 0 3 0 3 0 4 0 1 0 3 0 7 0 1 0 4 0 1 0 0 0 3 0 10 0 3 0 3 0 3 0 3 0 1 0 3 0 0 0 1 0 4 0 0 0 1 0 4 0 3 0 7 0 1 0 4 0-187 3 0 0 2 0 0 0 4 0 1 0 1 0 1 0 1 0 1 0 0 0 0 0 1 0 0 0 0 0 1 0 1 0 0 0 1 0 0 0 0 0 1 0 1 0 0 0 1 0 0 0 0 0 2 0 3 0 1 0 0 0 1 0 2 0 0 0 1 0 0 0 3 0 0 0 1 0 0 0 0 0 1 0 1 0 0 0 1 0 1 0 1 0 1 0 2 0 1 0 0 0 1 0 0 0 1 0 2 0 0 0 2 0 0 0 1 0 2 0 0 0 1 0 3 0 1 0 2 0 3 0 0 0 2 0 1 0 0 0 0 0 1 0 1 0 1 0 0 0 1 0 2 0 2 0 1 0 0 0 1 0 1 0 1 0 1 0 1 0 2 0 1 0 4 0 1 0 2 0 2 0 1 0 6 0 4 0 0 0 2 0 1 0 4 0 2 0 0 0 6 0 2 0 3 0 4 0 1 0 2 0 7 0 1 0 7 0 1 0 2 0 6 0 1 0 1 0 3 0 6 0 3 0 7 0 1 0 0 0 1 0 6 0 3 0 6 0 5 0-194 3 2 0 2 0 0 0 1 0 0 0 1 0 2 0 0 0 2 0 2 0 1 0 0 0 2 0 1 0 1 0 2 0 5 0 1 0 0 0 1 0 0 0 1 0 0 0 1 0 1 0 0 0 0 0 1 0 1 0 1 0 2 0 0 0 5 0 0 0 3 0 1 0 0 0 3 0 1 0 0 0 3 0 1 0 1 0 0 0 3 0 0 0 1 0 0 0 1 0 0 0 1 0 1 0 2 0 2 0 0 0 1 0 2 0 1 0 1 0 3 0 1 0 3 0 1 0 2 0 1 0 2 0 2 0 1 0 1 0 0 0 7 0 0 0 2 0 1 0 1 0 3 0 1 0 2 0 3 0 1 0 1 0 1 0 1 0 6 0 4 0 3 0 0 0 2 0 1 0 7 0 5 0 0 0 2 0 8 0 2 0 2 0 1 0 0 0 1 0 8 0 6 0 1 0 0 0 4 0 8 0 9 0 1 0 0 0-189 3 1 0 1 0 1 0 0 0 1 0 1 0 1 0 0 0 0 0 1 0 2 0 0 0 3 0 1 0 0 0 1 0 2 0 1 0 0 0 1 0 1 0 0 0 1 0 0 0 0 0 1 0 0 0 1 0 1 0 0 0 1 0 0 0 1 0 2 0 0 0 0 0 3 0 0 0 1 0 1 0 1 0 1 0 1 0 2 0 0 0 1 0 1 0 4 0 0 0 0 0 3 0 1 0 1 0 1 0 1 0 0 0 1 0 1 0 0 0 4 0 0 0 1 0 1 0 0 0 1 0 0 0 1 0 0 0 1 0 2 0 1 0 0 0 0 0 1 0 0 0 3 0 2 0 1 0 1 0 0 0 2 0 0 0 2 0 0 0 1 0 0 0 1 0 0 0 0 0 4 0 1 0 0 0 3 0 0 0 0 0 1 0 4 0 0 0 2 0 0 0 1 0 0 0 1 0 1 0 4 0 1 0 1 0 3 0 0 0 0 0 3 0 0 0 1 0 1 0 0 0 0 0 3 0 3 0 4 0 1 0 1 0 1 0 3 0 2 0 2 0 3 0 2 0 4 0 1 0 0 0 4 0 6 0 1 0 0 0 2 0 1 0 4 0 0 0 0 0 5 0 8 0 2 0 1 0 9 0 0 0 2 0-185 3 0 0 1 0 1 0 1 0 2 0 1 0 2 0 0 0 1 0 1 0 0 0 3 0 1 0 1 0 0 0 0 0 2 0 1 0 0 0 0 0 1 0 0 0 2 0 0 0 1 0 4 0 1 0 1 0 0 0 1 0 1 0 0 0 0 0 1 0 0 0 1 0 2 0 0 0 2 0 0 0 0 0 1 0 1 0 1 0 0 0 1 0 0 0 1 0 0 0 1 0 0 0 1 0 0 0 1 0 0 0 0 0 1 0 0 0 0 0 1 0 0 0 1 0 0 0 2 0 1 0 0 0 0 0 1 0 0 0 1 0 0 0 1 0 0 0 0 0 1 0 1 0 1 0 2 0 0 0 1 0 0 0 1 0 1 0 2 0 0 0 2 0 1 0 0 0 1 0 0 0 1 0 0 0 0 0 1 0 1 0 1 0 0 0 1 0 1 0 0 0 3 0 1 0 1 0 1 0 0 0 2 0 3 0 3 0 1 0 1 0 0 0 1 0 0 0 1 0 1 0 3 0 8 0 3 0 4 0 3 0 0 0 0 0 1 0 3 0 1 0 0 0 2 0 3 0 0 0 2 0 0 0 1 0 2 0 2 0 1 0 2 0 0 0 3 0 1 0 0 0 3 0 1 0 6 0 6 0 0 0 1 0 1 0 1 0 1 0 0 0 7 0 4 0 1 0 1 0 2 0 0 0 1 0 2 0 0 0 2 0 0 0 3 0 0 0 9 0 6 0 8 0-203 3 0 0 2 0 0 0 2 0 0 0 1 0 1 0 0 0 1 0 0 0 1 0 0 0 1 0 0 0 2 0 0 0 0 0 1 0 0 0 0 0 1 0 0 0 1 0 0 0 3 0 0 0 3 0 0 0 0 0 1 0 1 0 0 0 1 0 0 0 0 0 2 0 0 0 0 0 1 0 1 0 0 0 1 0 1 0 0 0 2 0 2 0 0 0 0 0 1 0 0 0 1 0 1 0 1 0 1 0 0 0 1 0 0 0 1 0 0 0 1 0 0 0 1 0 0 0 1 0 1 0 2 0 1 0 2 0 0 0 2 0 0 0 1 0 1 0 0 0 1 0 0 0 0 0 1 0 0 0 1 0 0 0 1 0 0 0 0 0 2 0 1 0 1 0 0 0 2 0 0 0 1 0 0 0 1 0 1 0 1 0 1 0 1 0 0 0 0 0 1 0 1 0 1 0 0 0 1 0 2 0 2 0 1 0 0 0 1 0 0 0 1 0 0 0 1 0 0 0 0 0 1 0 0 0 0 0 3 0 0 0 1 0 1 0 4 0 1 0 1 0 0 0 2 0 1 0 2 0 1 0 3 0 1 0 1 0 0 0 0 0 1 0 1 0 0 0 1 0 5 0 7 0 0 0 1 0 0 0 1 0 1 0 4 0 0 0 1 0 0 0 4 0 2 0 1 0 4 0 0 0 2 0 2 0 5 0 0 0 2 0 2 0 3 0 1 0 1 0 1 0 0 0 3 0 0 0 1 0 2 0 1 0 4 0 1 0 5 0 2 0 3 0 1 0 1 0 9 0 3 0-194 4 1 0 1 0 0 0 1 0 0 0 1 0 1 0 0 0 1 0 1 0 0 0 1 0 1 0 1 0 0 0 1 0 1 0 1 0 1 0 0 0 1 0 1 0 0 0 0 0 1 0 0 0 0 0 2 0 0 0 0 0 1 0 0 0 0 0 1 0 1 0 0 0 1 0 0 0 1 0 1 0 1 0 0 0 1 0 0 0 1 0 1 0 1 0 1 0 0 0 1 0 0 0 1 0 0 0 1 0 1 0 1 0 0 0 1 0 0 0 1 0 1 0 1 0 0 0 1 0 0 0 1 0 1 0 0 0 1 0 0 0 1 0 1 0 0 0 1 0 1 0 0 0 1 0 0 0 0 0 1 0 1 0 0 0 2 0 0 0 1 0 0 0 1 0 0 0 0 0 1 0 0 0 1 0 0 0 1 0 0 0 1 0 0 0 0 0 1 0 0 0 1 0 0 0 1 0 0 0 1 0 0 0 0 0 1 0 1 0 1 0 0 0 1 0 0 0 1 0 0 0 1 0 0 0 1 0 0 0 1 0 0 0 1 0 0 0 1 0 1 0 0 0 1 0 0 0 1 0 0 0 1 0 0 0 0 0 1 0 0 0 1 0 1 0 1 0 0 0 0 0 4 0 0 0 1 0 1 0 1 0 0 0 1 0 0 0 0 0 1 0 0 0 1 0 0 0 0 0 1 0 0 0 1 0 0 0 1 0 0 0 2 0 1 0 2 0 0 0 2 0 0 0 1 0 0 0 2 0 0 0 1 0 0 0 3 0 0 0 0 0 1 0 0 0 1 0 1 0 0 0 2 0 2 0 2 0 2 0 2 0 1 0 1 0 1 0 0 0 1 0 1 0 0 0 0 0 1 0 1 0 2 0 0 0 1 0 7 0 0 0 8 0 0 0 1 0 1 0 2 0 1 0 1 0 1 0 1 0 0 0 2 0 0 0 1 0 5 0 0 0 2 0 2 0 2 0 1 0 2 0 0 0 2 0 1 0 8 0 0 0 6 0 3 0 4 0-195 3 0 0 1 0 0 0 1 0 1 0 1 0 0 0 1 0 1 0 0 0 2 0 0 0 1 0 0 0 1 0 1 0 2 0 0 0 1 0 1 0 0 0 1 0 1 0 1 0 0 0 0 0 1 0 0 0 1 0 1 0 0 0 1 0 0 0 1 0 1 0 0 0 1 0 0 0 1 0 1 0 1 0 0 0 1 0 0 0 1 0 0 0 1 0 1 0 0 0 1 0 0 0 0 0 1 0 0 0 1 0 0 0 0 0 1 0 1 0 1 0 0 0 1 0 0 0 1 0 1 0 1 0 0 0 1 0 1 0 0 0 1 0 0 0 0 0 1 0 0 0 1 0 1 0 1 0 1 0 0 0 1 0 0 0 1 0 0 0 0 0 1 0 0 0 0 0 1 0 1 0 0 0 1 0 0 0 1 0 1 0 1 0 1 0 0 0 1 0 0 0 1 0 1 0 0 0 1 0 1 0 0 0 0 0 1 0 1 0 0 0 1 0 0 0 1 0 1 0 1 0 0 0 1 0 0 0 1 0 0 0 2 0 1 0 0 0 0 0 1 0 1 0 0 0 1 0 0 0 1 0 0 0 1 0 0 0 1 0 0 0 0 0 1 0 1 0 1 0 1 0 0 0 2 0 0 0 1 0 1 0 1 0 1 0 1 0 1 0 2 0 0 0 1 0 0 0 0 0 1 0 1 0 0 0 1 0 0 0 1 0 0 0 1 0 0 0 1 0 4 0 2 0 1 0 1 0 0 0 1 0 1 0 0 0 1 0 0 0 1 0 0 0 1 0 1 0 0 0 1 0 0 0 2 0 0 0 1 0 0 0 2 0 1 0 1 0 2 0 1 0 0 0 1 0 2 0 2 0 1 0 1 0 1 0 1 0 1 0 1 0 3 0 0 0 1 0 0 0 0 0 1 0 2 0 3 0 1 0 0 0 3 0 6 0 4 0 2 0 1 0 1 0 2 0 4 0 8 0 1 0 1 0 0 0 0 0 5 0 1 0 1 0 3 0 1 0 1 0 1 0 7 0-203 3 1 0 1 0 0 0 3 0 1 0 1 0 0 0 1 0 0 0 1 0 0 0 1 0 1 0 0 0 1 0 0 0 0 0 2 0 2 0 2 0 1 0 1 0 1 0 0 0 0 0 2 0 0 0 1 0 0 0 1 0 0 0 1 0 0 0 1 0 0 0 1 0 2 0 0 0 1 0 0 0 3 0 1 0 0 0 1 0 1 0 1 0 1 0 0 0 3 0 1 0 0 0 1 0 1 0 1 0 1 0 0 0 1 0 1 0 1 0 1 0 0 0 3 0 0 0 1 0 0 0 4 0 1 0 1 0 0 0 1 0 0 0 1 0 1 0 0 0 0 0 1 0 1 0 0 0 1 0 0 0 2 0 1 0 0 0 1 0 0 0 1 0 0 0 2 0 3 0 0 0 1 0 0 0 1 0 1 0 2 0 1 0 0 0 1 0 0 0 0 0 1 0 1 0 1 0 0 0 1 0 1 0 0 0 1 0 0 0 0 0 2 0 0 0 2 0 1 0 0 0 0 0 2 0 0 0 1 0 0 0 2 0 1 0 1 0 2 0 1 0 0 0 1 0 1 0 1 0 1 0 1 0 1 0 0 0 2 0 2 0 2 0 0 0 1 0 0 0 1 0 0 0 0 0 1 0 1 0 1 0 0 0 1 0 1 0 1 0 0 0 1 0 3 0 0 0 1 0 0 0 1 0 1 0 0 0 0 0 1 0 0 0 1 0 0 0 1 0 3 0 1 0 0 0 1 0 0 0 0 0 4 0 2 0 1 0 0 0 1 0 2 0 1 0 4 0 0 0 1 0 1 0 0 0 3 0 0 0 1 0 1 0 3 0 0 0 2 0 2 0 1 0 0 0 1 0 1 0 5 0 0 0 1 0 0 0 2 0 4 0 3 0 4 0 1 0 1 0 0 0 2 0 2 0 2 0 2 0-201 3 0 0 1 0 0 0 1 0 1 0 0 0 0 0 1 0 0 0 0 0 1 0 0 0 1 0 0 0 1 0 1 0 1 0 1 0 0 0 1 0 0 0 1 0 0 0 1 0 0 0 0 0 1 0 0 0 0 0 1 0 0 0 0 0 1 0 0 0 1 0 0 0 0 0 1 0 0 0 0 0 1 0 0 0 1 0 0 0 2 0 0 0 0 0 1 0 0 0 0 0 1 0 1 0 0 0 2 0 4 0 226 0 1 0 0 0 1 0 1 0 0 0 1 0 4 0 2 0 3 0 3 0 4 0 5 0 5 0 4 0 4 0 3 0 3 0"/>
<path class="r" clip-path="url(#c23)" d="M1444.5 948.5l5 3 49 0 5 0-21 29 1 12-34 3 11 3 17 0 19 0-52 10 3 3 52 3-45 6-52 7-20 12 56 0 26 0-67 3 56 0-15 3-59 4 33 0 38 0 5 0 55 0-57 3 16 0 30 0 7 3-38 3 16 0-22 3 27 0 2 0-129 3 40 0 30 0 17 0 26 0-86 3 41 0 48 0-96 4 50 0 9 0 30 0 15 0 5 0 17 0-150 3 19 0 18 0 11 0 4 0 5 0 3 0 0 0 1 0 11 0 2 0 2 0 4 0 4 0 4 0 4 0 2 0 3 0 12 0 17 0 22 0-150 3 18 0 7 0 0 0 3 0 8 0 5 0 5 0 1 0 1 0 4 0 3 0 22 0 0 0 2 0 1 0 1 0 5 0 0 0 0 0 9 0 0 0 4 0 2 0 0 0 0 0 25 0 12 0 3 0-158 3 3 0 0 0 1 0 0 0 0 0 1 0 0 0 0 0 1 0 0 0 0 0 1 0 0 0 1 0 0 0 0 0 1 0 0 0 0 0 1 0 0 0 0 0 1 0 0 0 0 0 1 0 0 0 0 0 1 0 0 0 0 0 1 0 0 0 0 0 1 0 0 0 0 0 1 0 0 0 0 0 1 0 0 0 0 0 1 0 0 0 0 0 1 0 0 0 0 0 1 0 0 0 0 0 1 0 0 0 0 0 1 0 0 0 0 0 1 0 0 0 0 0 1 0 0 0 0 0 1 0 0 0 0 0 1 0 0 0 0 0 1 0 0 0 0 0 1 0 0 0 0 0 1 0 0 0 0 0 1 0 0 0 0 0 1 0 0 0 0 0 1 0 0 0 0 0 1 0 0 0 0 0 1 0 0 0 0 0 1 0 0 0 0 0 1 0 0 0 0 0 1 0 0 0 0 0 1 0 0 0 0 0 1 0 0 0 1 0 0 0 0 0 1 0 0 0 0 0 1 0 0 0 1 0 0 0 0 0 1 0 0 0 0 0 1 0 0 0 0 0 1 0 0 0 0 0 1 0 0 0 0 0 1 0 0 0 1 0 0 0 0 0 1 0 0 0 1 0 0 0 0 0 1 0 0 0 0 0 1 0 0 0 0 0 1 0 0 0 0 0 1 0 0 0 0 0 1 0 0 0 1 0 0 0 0 0 1 0 0 0 0 0 1 0 0 0 0 0 1 0 0 0 0 0 1 0 0 0 1 0 0 0 0 0 1 0 0 0 0 0 1 0 0 0 0 0 1 0 0 0 0 0 1 0 0 0 0 0 1 0 0 0 1 0 0 0 0 0 1 0 0 0 1 0 0 0 0 0 1 0 0 0 0 0 1 0 0 0 1 0 0 0 0 0 1 0 0 0 0 0 1 0 0 0 0 0 1 0 0 0 0 0 1 0 0 0 0 0 1 0 0 0 0 0 1 0 0 0 0 0 1 0 0 0 0 0 1 0 0 0 0 0 1 0 0 0 0 0 1 0 0 0 0 0 1 0 0 0 0 0 1 0 0 0 0 0 1 0 0 0 0 0 1 0 0 0 0 0 1 0 0 0 0 0 1 0 0 0 0 0 1 0 0 0 0 0 1 0 0 0 0 0 1 0 0 0 0 0 1 0 0 0 1 0 0 0 0 0 1 0 0 0 0 0 1 0 0 0 0 0 1 0 0 0 1 0 0 0 0 0 1 0 0 0 1 0 0 0 1 0 0 0 1 0 0 0 0 0 1 0 0 0 0 0 1 0 0 0 0 0 1 0 0 0 0 0 1 0 0 0 0 0 1 0 0 0 0 0 1 0 0 0 0 0 1 0 0 0 1 0 0 0 0 0 1 0 0 0 0 0 1 0 0 0 0 0 1 0 0 0 1 0 0 0 0 0 1 0 0 0 1 0 0 0 0 0 1 0 0 0 0 0 1 0 0 0 0 0 1 0 0 0 1 0 0 0 0 0 1 0 1 0 0 0 0 0 1 0 0 0 0 0 1 0 0 0 0 0 1 0 0 0 0 0 1 0 0 0 0 0 1 0 0 0 0 0 1 0 0 0 0 0 1 0 0 0 0 0 1 0 0 0 0 0 1 0 0 0 0 0 1 0 0 0 0 0 1 0 0 0 0 0 1 0 0 0 0 0 1 0 0 0 0 0 1 0 0 0 0 0 1 0 0 0 0 0 1 0 0 0 0 0 1 0 0 0 0 0 1 0 0 0 0 0 1 0 0 0 0 0 1 0 0 0 0 0 1 0 0 0 0 0 1 0 0 0 0 0 1 0 0 0 0 0 1 0 0 0 1 0 0 0 0 0 1 0 0 0 0 0 1 0 0 0 0 0 1 0 0 0 0 0 1 0 0 0 0 0 1 0 0 0 0 0 1 0 0 0 0 0 1 0 0 0 0 0 1 0 0 0 1 0 0 0 0 0 1 0 0 0 0 0 1 0 0 0 0 0 1 0 0 0 0 0 1 0 0 0 0 0 1 0 0 0 0 0 1 0 0 0 0 0 1 0 0 0 0 0 1 0 0 0 0 0 1 0 0 0 0 0 1 0 0 0 0 0 1 0 0 0 0 0 1 0 0 0 0 0 1 0 0 0 0 0 1 0 0 0 0 0 1 0 0 0 0 0 1 0 0 0 0 0 1 0 0 0 0 0 1 0 0 0 0 0 1 0 0 0 0 0 1 0 0 0 0 0 1 0 0 0 0 0 1 0 0 0 0 0 1 0 0 0 0 0 1 0 0 0 0 0 1 0 0 0 0 0 1 0 0 0 0 0 1 0 0 0 0 0 1 0 0 0 0 0 1 0 0 0 0 0 1 0 0 0 0 0 1 0 0 0 0 0 1 0 0 0 0 0 1 0 0 0 0 0 1 0 0 0 0 0 1 0 0 0 0 0 1 0 0 0 0 0 1 0 0 0 0 0 1 0 0 0 0 0 1 0 0 0 0 0 1 0 0 0 0 0 1 0 0 0 0 0 1 0 0 0 0 0 1 0 0 0 0 0 1 0 0 0 0 0 1 0 0 0 0 0 1 0 0 0 0 0 1 0 0 0 0 0 1 0 0 0 0 0 1 0 0 0 0 0 1 0 0 0 0 0 1 0 0 0 0 0 1 0 0 0 0 0 1 0 0 0 0 0 1 0 0 0 0 0 1 0 0 0 0 0 1 0 0 0 0 0 1 0 0 0 0 0 1 0 0 0 0 0 1 0 0 0 0 0 1 0 0 0 0 0 1 0 0 0 0 0 1 0 0 0 0 0 1 0 0 0 0 0 1 0 0 0 0 0 1 0 0 0 0 0 1 0 0 0 0 0 1 0 0 0 0 0 1 0 0 0 0 0 1 0 0 0 0 0 1 0 0 0 0 0 1 0 0 0 0 0 1 0 0 0 0 0 1 0 0 0 0 0 1 0 0 0 0 0 1 0 0 0 0 0 1 0 0 0 0 0 1 0 0 0 0 0 1 0 0 0 0 0 1 0 0 0 0 0 1 0 0 0 0 0 1 0 0 0 0 0 1 0 0 0 0 0 1 0 4 0 2 0 3 0 3 0 4 0 5 0 5 0 4 0 4 0 3 0 3 0"/>
<path class="tk" d="M1317.5 1080.5v-5.5M1317.5 798.5v5.5M1360.5 1080.5v-5.5M1360.5 798.5v5.5M1403.5 1080.5v-5.5M1403.5 798.5v5.5M1447.5 1080.5v-5.5M1447.5 798.5v5.5M1490.5 1080.5v-5.5M1490.5 798.5v5.5M1533.5 1080.5v-5.5M1533.5 798.5v5.5M1577.5 1080.5v-5.5M1577.5 798.5v5.5M1620.5 1080.5v-5.5M1620.5 798.5v5.5M1317.5 1080.5h5.5M1620.5 1080.5h-5.5M1317.5 1049.5h5.5M1620.5 1049.5h-5.5M1317.5 1017.5h5.5M1620.5 1017.5h-5.5M1317.5 986.5h5.5M1620.5 986.5h-5.5M1317.5 955.5h5.5M1620.5 955.5h-5.5M1317.5 923.5h5.5M1620.5 923.5h-5.5M1317.5 892.5h5.5M1620.5 892.5h-5.5M1317.5 860.5h5.5M1620.5 860.5h-5.5M1317.5 829.5h5.5M1620.5 829.5h-5.5M1317.5 798.5h5.5M1620.5 798.5h-5.5"/>
<rect class="ax" x="1317.5" y="798.5" width="303" height="282"/>
<text class="t" x="1317.1" y="1098.2" text-anchor="middle">0</text>
<text class="t" x="1360.5" y="1098.2" text-anchor="middle">10</text>
<text class="t" x="1403.8" y="1098.2" text-anchor="middle">20</text>
<text class="t" x="1447.1" y="1098.2" text-anchor="middle">30</text>
<text class="t" x="1490.4" y="1098.2" text-anchor="middle">40</text>
<text class="t" x="1533.8" y="1098.2" text-anchor="middle">50</text>
<text class="t" x="1577.1" y="1098.2" text-anchor="middle">60</text>
<text class="t" x="1620.4" y="1098.2" text-anchor="middle">70</text>
<text class="t" x="1312.3" y="1085.3" text-anchor="end">0</text>
<text class="t" x="1312.3" y="1053.9" text-anchor="end">10</text>
<text class="t" x="1312.3" y="1022.6" text-anchor="end">20</text>
<text class="t" x="1312.3" y="991.2" text-anchor="end">30</text>
<text class="t" x="1312.3" y="959.8" text-anchor="end">40</text>
<text class="t" x="1312.3" y="928.4" text-anchor="end">50</text>
<text class="t" x="1312.3" y="897.1" text-anchor="end">60</text>
<text class="t" x="1312.3" y="865.7" text-anchor="end">70</text>
<text class="t" x="1312.3" y="834.3" text-anchor="end">80</text>
<text class="t" x="1312.3" y="802.9" text-anchor="end">90</text>
<text class="t" x="1468.4" y="1119.8" text-anchor="middle">shear</text>
</g>
</svg>
</body></html>
